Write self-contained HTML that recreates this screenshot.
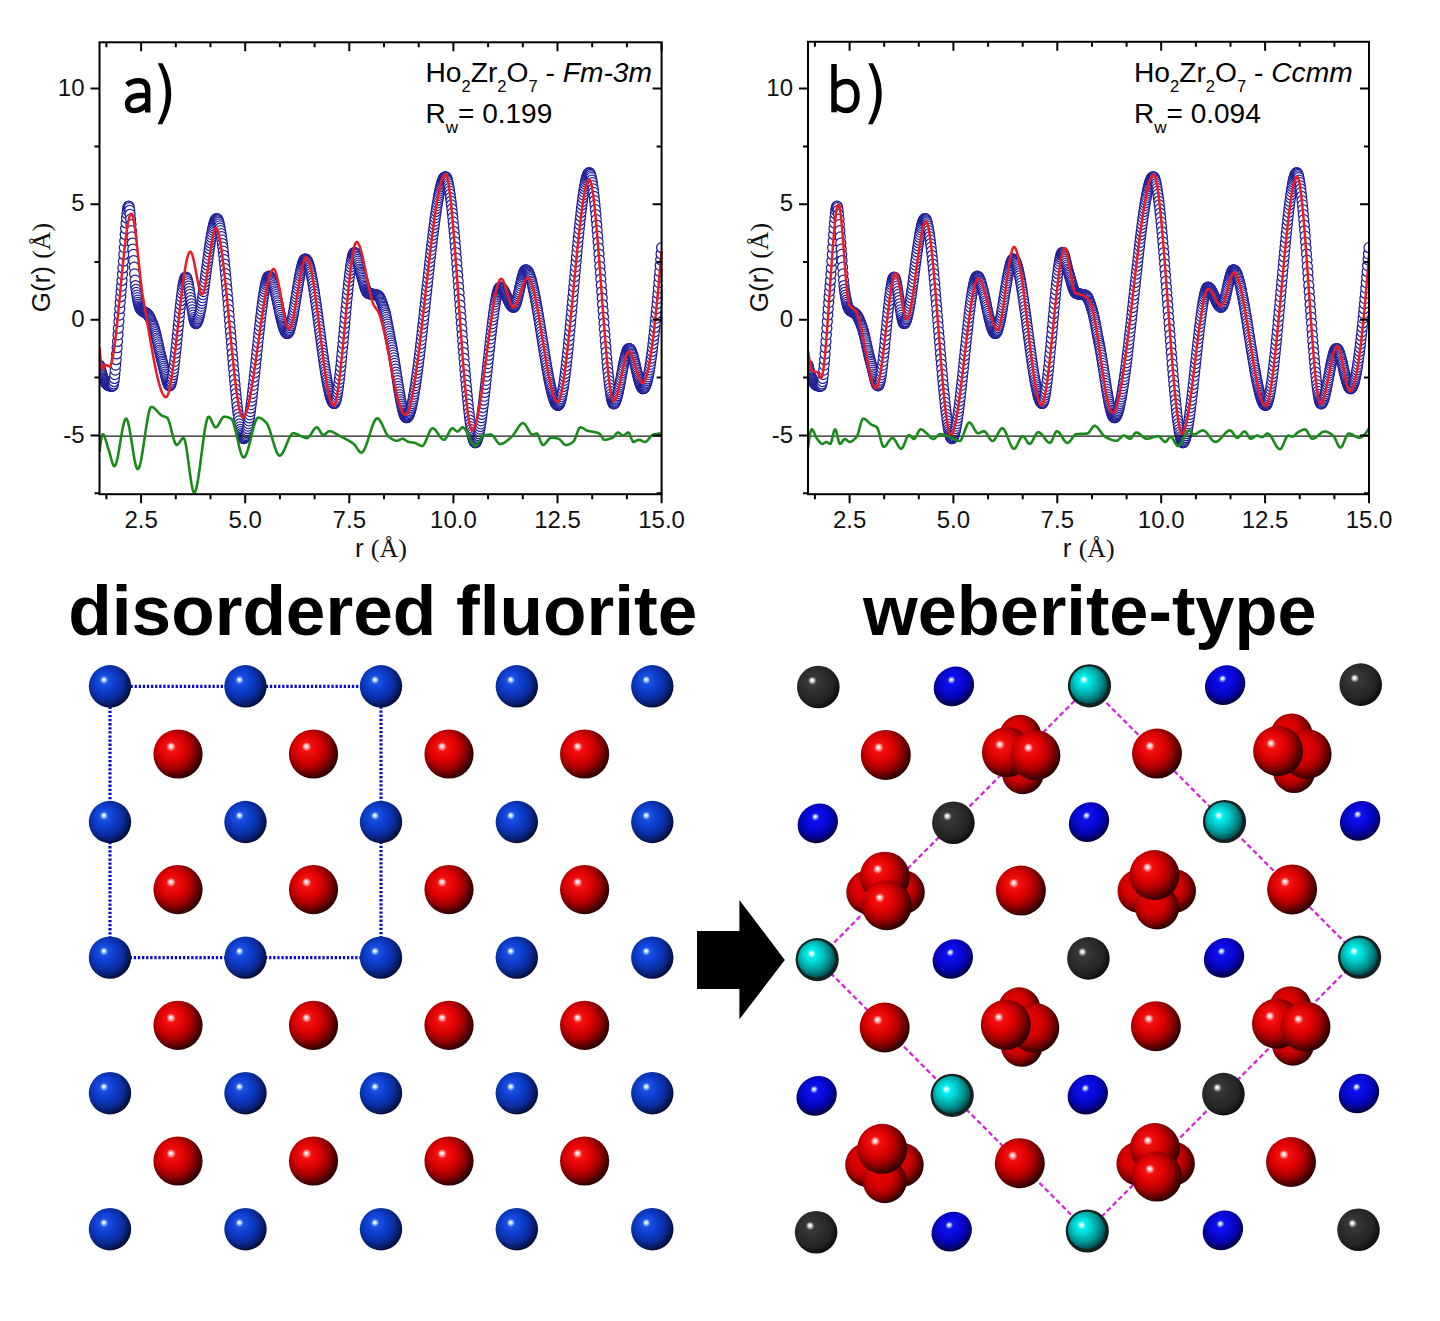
<!DOCTYPE html>
<html><head><meta charset="utf-8"><style>html,body{margin:0;padding:0;background:#fff;}svg{display:block}</style></head>
<body><svg width="1440" height="1321" viewBox="0 0 1440 1321">
<defs>
<radialGradient id="gB" cx="0.42" cy="0.42" r="0.6" fx="0.35" fy="0.34">
 <stop offset="0" stop-color="#ffffff"/><stop offset="0.03" stop-color="#f0f8ff"/><stop offset="0.08" stop-color="#9cc0ff"/><stop offset="0.16" stop-color="#1a50e4"/><stop offset="0.45" stop-color="#0c3cc8"/><stop offset="0.7" stop-color="#0a2c9c"/><stop offset="0.88" stop-color="#061a62"/><stop offset="1" stop-color="#020a30"/>
</radialGradient>
<radialGradient id="gR" cx="0.42" cy="0.42" r="0.6" fx="0.35" fy="0.34">
 <stop offset="0" stop-color="#ffffff"/><stop offset="0.03" stop-color="#fff0f0"/><stop offset="0.08" stop-color="#ffa0a0"/><stop offset="0.16" stop-color="#f41010"/><stop offset="0.45" stop-color="#dc0000"/><stop offset="0.68" stop-color="#a00000"/><stop offset="0.86" stop-color="#5a0000"/><stop offset="1" stop-color="#280000"/>
</radialGradient>
<radialGradient id="gG" cx="0.42" cy="0.42" r="0.6" fx="0.35" fy="0.34">
 <stop offset="0" stop-color="#ffffff"/><stop offset="0.04" stop-color="#f8f8f8"/><stop offset="0.09" stop-color="#b0b0b0"/><stop offset="0.17" stop-color="#383838"/><stop offset="0.45" stop-color="#2e2e2e"/><stop offset="0.75" stop-color="#242424"/><stop offset="1" stop-color="#0c0c0c"/>
</radialGradient>
<radialGradient id="gC" cx="0.42" cy="0.42" r="0.6" fx="0.36" fy="0.35">
 <stop offset="0" stop-color="#ffffff"/><stop offset="0.04" stop-color="#f0ffff"/><stop offset="0.1" stop-color="#a0ffff"/><stop offset="0.18" stop-color="#00f0f0"/><stop offset="0.45" stop-color="#00c8c8"/><stop offset="0.75" stop-color="#008c8c"/><stop offset="1" stop-color="#004a4a"/>
</radialGradient>
<radialGradient id="gD" cx="0.42" cy="0.42" r="0.6" fx="0.35" fy="0.34">
 <stop offset="0" stop-color="#ffffff"/><stop offset="0.05" stop-color="#c0c8ff"/><stop offset="0.12" stop-color="#0a1cf0"/><stop offset="0.45" stop-color="#0010d0"/><stop offset="0.7" stop-color="#000aa0"/><stop offset="0.88" stop-color="#000660"/><stop offset="1" stop-color="#000330"/>
</radialGradient>
<radialGradient id="gE" cx="0.53" cy="0.42" r="0.6" fx="0.556" fy="0.315">
 <stop offset="0" stop-color="#ffffff"/><stop offset="0.03" stop-color="#f0f0ff"/><stop offset="0.08" stop-color="#a0a8ff"/><stop offset="0.16" stop-color="#1010f0"/><stop offset="0.45" stop-color="#0808d8"/><stop offset="0.7" stop-color="#0404a8"/><stop offset="0.88" stop-color="#020260"/><stop offset="1" stop-color="#010130"/>
</radialGradient>
<radialGradient id="gRn" cx="0.42" cy="0.42" r="0.6" fx="0.38" fy="0.37">
 <stop offset="0" stop-color="#e80000"/><stop offset="0.45" stop-color="#d40000"/><stop offset="0.68" stop-color="#a00000"/><stop offset="0.86" stop-color="#5a0000"/><stop offset="1" stop-color="#280000"/>
</radialGradient>
</defs>
<rect width="1440" height="1321" fill="#fff"/>
<clipPath id="ca"><rect x="99.5" y="41.3" width="563.1" height="452.9"/></clipPath>
<g clip-path="url(#ca)" fill="#fff" stroke="#202098" stroke-width="1.25">
<circle cx="99.5" cy="365" r="5"/><circle cx="100" cy="367.1" r="5"/><circle cx="100.4" cy="369.1" r="5"/><circle cx="100.9" cy="370.9" r="5"/><circle cx="101.3" cy="372.6" r="5"/><circle cx="101.8" cy="374.1" r="5"/><circle cx="102.2" cy="375.6" r="5"/><circle cx="102.7" cy="376.9" r="5"/><circle cx="103.1" cy="378.1" r="5"/><circle cx="103.6" cy="379.1" r="5"/><circle cx="104" cy="380.1" r="5"/><circle cx="104.5" cy="381" r="5"/><circle cx="104.9" cy="381.8" r="5"/><circle cx="105.4" cy="382.5" r="5"/><circle cx="105.8" cy="383.1" r="5"/><circle cx="106.3" cy="383.7" r="5"/><circle cx="106.7" cy="384.1" r="5"/><circle cx="107.2" cy="384.5" r="5"/><circle cx="107.6" cy="384.9" r="5"/><circle cx="108.1" cy="385.2" r="5"/><circle cx="108.5" cy="385.4" r="5"/><circle cx="109" cy="385.6" r="5"/><circle cx="109.4" cy="385.7" r="5"/><circle cx="109.9" cy="385.8" r="5"/><circle cx="110.3" cy="385.9" r="5"/><circle cx="110.8" cy="385.9" r="5"/><circle cx="111.2" cy="386" r="5"/><circle cx="111.7" cy="386" r="5"/><circle cx="112.1" cy="386" r="5"/><circle cx="112.6" cy="386" r="5"/><circle cx="113" cy="385.4" r="5"/><circle cx="113.5" cy="383.9" r="5"/><circle cx="113.9" cy="381.5" r="5"/><circle cx="114.4" cy="378.4" r="5"/><circle cx="114.8" cy="374.6" r="5"/><circle cx="115.3" cy="370.1" r="5"/><circle cx="115.7" cy="365.1" r="5"/><circle cx="116.2" cy="359.7" r="5"/><circle cx="116.6" cy="353.9" r="5"/><circle cx="117.1" cy="347.7" r="5"/><circle cx="117.5" cy="341.4" r="5"/><circle cx="118" cy="334.8" r="5"/><circle cx="118.4" cy="328.2" r="5"/><circle cx="118.9" cy="321.6" r="5"/><circle cx="119.3" cy="315.1" r="5"/><circle cx="119.8" cy="308.7" r="5"/><circle cx="120.2" cy="302.6" r="5"/><circle cx="120.7" cy="296.7" r="5"/><circle cx="121.1" cy="291.3" r="5"/><circle cx="121.6" cy="286.1" r="5"/><circle cx="122" cy="280.5" r="5"/><circle cx="122.5" cy="274.3" r="5"/><circle cx="122.9" cy="267.9" r="5"/><circle cx="123.4" cy="261.2" r="5"/><circle cx="123.8" cy="254.4" r="5"/><circle cx="124.3" cy="247.6" r="5"/><circle cx="124.7" cy="240.9" r="5"/><circle cx="125.2" cy="234.5" r="5"/><circle cx="125.6" cy="228.5" r="5"/><circle cx="126.1" cy="222.9" r="5"/><circle cx="126.5" cy="217.9" r="5"/><circle cx="127" cy="213.7" r="5"/><circle cx="127.4" cy="210.2" r="5"/><circle cx="127.9" cy="207.8" r="5"/><circle cx="128.3" cy="206.4" r="5"/><circle cx="128.8" cy="206.2" r="5"/><circle cx="129.2" cy="207.6" r="5"/><circle cx="129.7" cy="210.3" r="5"/><circle cx="130.1" cy="214.3" r="5"/><circle cx="130.6" cy="219.2" r="5"/><circle cx="131" cy="224.7" r="5"/><circle cx="131.5" cy="230.7" r="5"/><circle cx="131.9" cy="236.9" r="5"/><circle cx="132.4" cy="243.1" r="5"/><circle cx="132.8" cy="249" r="5"/><circle cx="133.3" cy="254.4" r="5"/><circle cx="133.7" cy="260.5" r="5"/><circle cx="134.2" cy="267.2" r="5"/><circle cx="134.6" cy="273.9" r="5"/><circle cx="135.1" cy="280.2" r="5"/><circle cx="135.5" cy="285.5" r="5"/><circle cx="136" cy="289.3" r="5"/><circle cx="136.4" cy="292.3" r="5"/><circle cx="136.9" cy="295.1" r="5"/><circle cx="137.3" cy="297.7" r="5"/><circle cx="137.8" cy="300.1" r="5"/><circle cx="138.2" cy="302.3" r="5"/><circle cx="138.7" cy="304.2" r="5"/><circle cx="139.1" cy="305.8" r="5"/><circle cx="139.6" cy="307.2" r="5"/><circle cx="140" cy="308.2" r="5"/><circle cx="140.5" cy="309" r="5"/><circle cx="140.9" cy="309.5" r="5"/><circle cx="141.4" cy="310" r="5"/><circle cx="141.8" cy="310.4" r="5"/><circle cx="142.3" cy="310.8" r="5"/><circle cx="142.7" cy="311.1" r="5"/><circle cx="143.2" cy="311.4" r="5"/><circle cx="143.6" cy="311.6" r="5"/><circle cx="144.1" cy="311.9" r="5"/><circle cx="144.5" cy="312.1" r="5"/><circle cx="145" cy="312.3" r="5"/><circle cx="145.4" cy="312.6" r="5"/><circle cx="145.9" cy="312.8" r="5"/><circle cx="146.3" cy="313.1" r="5"/><circle cx="146.8" cy="313.5" r="5"/><circle cx="147.2" cy="313.9" r="5"/><circle cx="147.7" cy="314.3" r="5"/><circle cx="148.1" cy="314.9" r="5"/><circle cx="148.6" cy="315.5" r="5"/><circle cx="149" cy="316.2" r="5"/><circle cx="149.5" cy="317" r="5"/><circle cx="149.9" cy="317.8" r="5"/><circle cx="150.4" cy="318.7" r="5"/><circle cx="150.8" cy="319.7" r="5"/><circle cx="151.3" cy="320.7" r="5"/><circle cx="151.7" cy="321.8" r="5"/><circle cx="152.2" cy="322.9" r="5"/><circle cx="152.6" cy="324" r="5"/><circle cx="153.1" cy="325.2" r="5"/><circle cx="153.5" cy="326.4" r="5"/><circle cx="154" cy="327.8" r="5"/><circle cx="154.4" cy="329.2" r="5"/><circle cx="154.9" cy="330.8" r="5"/><circle cx="155.3" cy="332.5" r="5"/><circle cx="155.8" cy="334.3" r="5"/><circle cx="156.2" cy="336.1" r="5"/><circle cx="156.7" cy="338" r="5"/><circle cx="157.1" cy="339.9" r="5"/><circle cx="157.6" cy="341.9" r="5"/><circle cx="158" cy="343.9" r="5"/><circle cx="158.5" cy="345.9" r="5"/><circle cx="158.9" cy="348" r="5"/><circle cx="159.4" cy="350" r="5"/><circle cx="159.8" cy="351.9" r="5"/><circle cx="160.3" cy="353.9" r="5"/><circle cx="160.7" cy="355.8" r="5"/><circle cx="161.2" cy="357.6" r="5"/><circle cx="161.6" cy="359.4" r="5"/><circle cx="162.1" cy="361.1" r="5"/><circle cx="162.5" cy="362.7" r="5"/><circle cx="163" cy="364.4" r="5"/><circle cx="163.4" cy="366.3" r="5"/><circle cx="163.9" cy="368.2" r="5"/><circle cx="164.3" cy="370.1" r="5"/><circle cx="164.8" cy="372" r="5"/><circle cx="165.2" cy="374" r="5"/><circle cx="165.7" cy="375.8" r="5"/><circle cx="166.1" cy="377.6" r="5"/><circle cx="166.6" cy="379.3" r="5"/><circle cx="167" cy="380.9" r="5"/><circle cx="167.5" cy="382.3" r="5"/><circle cx="167.9" cy="383.5" r="5"/><circle cx="168.4" cy="384.4" r="5"/><circle cx="168.8" cy="385.2" r="5"/><circle cx="169.3" cy="385.6" r="5"/><circle cx="169.7" cy="385.8" r="5"/><circle cx="170.2" cy="385.5" r="5"/><circle cx="170.6" cy="384.8" r="5"/><circle cx="171.1" cy="383.6" r="5"/><circle cx="171.5" cy="382" r="5"/><circle cx="172" cy="380" r="5"/><circle cx="172.4" cy="377.7" r="5"/><circle cx="172.9" cy="374.9" r="5"/><circle cx="173.3" cy="371.9" r="5"/><circle cx="173.8" cy="368.6" r="5"/><circle cx="174.2" cy="365.1" r="5"/><circle cx="174.7" cy="361.3" r="5"/><circle cx="175.1" cy="357.3" r="5"/><circle cx="175.6" cy="353.2" r="5"/><circle cx="176" cy="348.9" r="5"/><circle cx="176.5" cy="344.5" r="5"/><circle cx="176.9" cy="340" r="5"/><circle cx="177.4" cy="335.5" r="5"/><circle cx="177.8" cy="330.9" r="5"/><circle cx="178.3" cy="326.4" r="5"/><circle cx="178.7" cy="321.9" r="5"/><circle cx="179.2" cy="317.4" r="5"/><circle cx="179.6" cy="313" r="5"/><circle cx="180.1" cy="308.8" r="5"/><circle cx="180.5" cy="304.7" r="5"/><circle cx="181" cy="300.7" r="5"/><circle cx="181.4" cy="297" r="5"/><circle cx="181.9" cy="293.5" r="5"/><circle cx="182.3" cy="290.3" r="5"/><circle cx="182.8" cy="287.3" r="5"/><circle cx="183.2" cy="284.7" r="5"/><circle cx="183.7" cy="282.4" r="5"/><circle cx="184.1" cy="280.5" r="5"/><circle cx="184.6" cy="279" r="5"/><circle cx="185" cy="277.9" r="5"/><circle cx="185.5" cy="277.3" r="5"/><circle cx="185.9" cy="277.1" r="5"/><circle cx="186.4" cy="277.5" r="5"/><circle cx="186.8" cy="278.4" r="5"/><circle cx="187.3" cy="279.7" r="5"/><circle cx="187.7" cy="281.5" r="5"/><circle cx="188.2" cy="283.6" r="5"/><circle cx="188.6" cy="286" r="5"/><circle cx="189.1" cy="288.6" r="5"/><circle cx="189.5" cy="291.5" r="5"/><circle cx="190" cy="294.4" r="5"/><circle cx="190.4" cy="297.5" r="5"/><circle cx="190.9" cy="300.6" r="5"/><circle cx="191.3" cy="303.8" r="5"/><circle cx="191.8" cy="306.8" r="5"/><circle cx="192.2" cy="309.8" r="5"/><circle cx="192.7" cy="312.6" r="5"/><circle cx="193.1" cy="315.2" r="5"/><circle cx="193.6" cy="317.5" r="5"/><circle cx="194" cy="319.5" r="5"/><circle cx="194.5" cy="321.2" r="5"/><circle cx="194.9" cy="322.4" r="5"/><circle cx="195.4" cy="323.2" r="5"/><circle cx="195.8" cy="323.5" r="5"/><circle cx="196.3" cy="323.4" r="5"/><circle cx="196.7" cy="322.9" r="5"/><circle cx="197.2" cy="322.2" r="5"/><circle cx="197.6" cy="321.3" r="5"/><circle cx="198.1" cy="320.1" r="5"/><circle cx="198.5" cy="318.7" r="5"/><circle cx="199" cy="317.1" r="5"/><circle cx="199.4" cy="315.2" r="5"/><circle cx="199.9" cy="313.2" r="5"/><circle cx="200.3" cy="311" r="5"/><circle cx="200.8" cy="308.6" r="5"/><circle cx="201.2" cy="306.1" r="5"/><circle cx="201.7" cy="303.4" r="5"/><circle cx="202.1" cy="300.7" r="5"/><circle cx="202.6" cy="297.7" r="5"/><circle cx="203" cy="294.7" r="5"/><circle cx="203.5" cy="291.6" r="5"/><circle cx="203.9" cy="288.4" r="5"/><circle cx="204.4" cy="285.2" r="5"/><circle cx="204.8" cy="281.9" r="5"/><circle cx="205.3" cy="278.6" r="5"/><circle cx="205.7" cy="275.2" r="5"/><circle cx="206.2" cy="271.8" r="5"/><circle cx="206.6" cy="268.4" r="5"/><circle cx="207.1" cy="265" r="5"/><circle cx="207.5" cy="261.7" r="5"/><circle cx="208" cy="258.4" r="5"/><circle cx="208.4" cy="255.1" r="5"/><circle cx="208.9" cy="251.9" r="5"/><circle cx="209.3" cy="248.7" r="5"/><circle cx="209.8" cy="245.7" r="5"/><circle cx="210.2" cy="242.7" r="5"/><circle cx="210.7" cy="239.9" r="5"/><circle cx="211.1" cy="237.2" r="5"/><circle cx="211.6" cy="234.6" r="5"/><circle cx="212" cy="232.1" r="5"/><circle cx="212.5" cy="229.8" r="5"/><circle cx="212.9" cy="227.7" r="5"/><circle cx="213.4" cy="225.8" r="5"/><circle cx="213.8" cy="224.1" r="5"/><circle cx="214.3" cy="222.6" r="5"/><circle cx="214.7" cy="221.3" r="5"/><circle cx="215.2" cy="220.2" r="5"/><circle cx="215.6" cy="219.4" r="5"/><circle cx="216.1" cy="218.9" r="5"/><circle cx="216.5" cy="218.6" r="5"/><circle cx="217" cy="218.7" r="5"/><circle cx="217.4" cy="219" r="5"/><circle cx="217.9" cy="219.8" r="5"/><circle cx="218.3" cy="220.8" r="5"/><circle cx="218.8" cy="222.2" r="5"/><circle cx="219.2" cy="223.9" r="5"/><circle cx="219.7" cy="225.9" r="5"/><circle cx="220.1" cy="228.2" r="5"/><circle cx="220.6" cy="230.7" r="5"/><circle cx="221" cy="233.6" r="5"/><circle cx="221.5" cy="236.6" r="5"/><circle cx="221.9" cy="239.9" r="5"/><circle cx="222.4" cy="243.5" r="5"/><circle cx="222.8" cy="247.2" r="5"/><circle cx="223.3" cy="251.2" r="5"/><circle cx="223.7" cy="255.3" r="5"/><circle cx="224.2" cy="259.6" r="5"/><circle cx="224.6" cy="264.1" r="5"/><circle cx="225.1" cy="268.7" r="5"/><circle cx="225.5" cy="273.5" r="5"/><circle cx="226" cy="278.4" r="5"/><circle cx="226.4" cy="283.4" r="5"/><circle cx="226.9" cy="288.5" r="5"/><circle cx="227.3" cy="293.7" r="5"/><circle cx="227.8" cy="299" r="5"/><circle cx="228.2" cy="304.3" r="5"/><circle cx="228.7" cy="309.7" r="5"/><circle cx="229.1" cy="315.2" r="5"/><circle cx="229.6" cy="320.7" r="5"/><circle cx="230" cy="326.2" r="5"/><circle cx="230.5" cy="331.7" r="5"/><circle cx="230.9" cy="337.1" r="5"/><circle cx="231.4" cy="342.6" r="5"/><circle cx="231.8" cy="348.1" r="5"/><circle cx="232.3" cy="353.5" r="5"/><circle cx="232.7" cy="358.8" r="5"/><circle cx="233.2" cy="364.1" r="5"/><circle cx="233.6" cy="369.3" r="5"/><circle cx="234.1" cy="374.4" r="5"/><circle cx="234.5" cy="379.4" r="5"/><circle cx="235" cy="384.3" r="5"/><circle cx="235.4" cy="389" r="5"/><circle cx="235.9" cy="393.6" r="5"/><circle cx="236.3" cy="398.1" r="5"/><circle cx="236.8" cy="402.4" r="5"/><circle cx="237.2" cy="406.5" r="5"/><circle cx="237.7" cy="410.4" r="5"/><circle cx="238.1" cy="414.1" r="5"/><circle cx="238.6" cy="417.6" r="5"/><circle cx="239" cy="420.9" r="5"/><circle cx="239.5" cy="424" r="5"/><circle cx="239.9" cy="426.8" r="5"/><circle cx="240.4" cy="429.3" r="5"/><circle cx="240.8" cy="431.5" r="5"/><circle cx="241.3" cy="433.5" r="5"/><circle cx="241.7" cy="435.2" r="5"/><circle cx="242.2" cy="436.5" r="5"/><circle cx="242.6" cy="437.5" r="5"/><circle cx="243.1" cy="438.2" r="5"/><circle cx="243.5" cy="438.6" r="5"/><circle cx="244" cy="438.6" r="5"/><circle cx="244.4" cy="438.2" r="5"/><circle cx="244.9" cy="437.6" r="5"/><circle cx="245.3" cy="436.7" r="5"/><circle cx="245.8" cy="435.6" r="5"/><circle cx="246.2" cy="434.2" r="5"/><circle cx="246.7" cy="432.5" r="5"/><circle cx="247.1" cy="430.6" r="5"/><circle cx="247.6" cy="428.5" r="5"/><circle cx="248" cy="426.1" r="5"/><circle cx="248.5" cy="423.6" r="5"/><circle cx="248.9" cy="420.8" r="5"/><circle cx="249.4" cy="417.9" r="5"/><circle cx="249.8" cy="414.8" r="5"/><circle cx="250.3" cy="411.6" r="5"/><circle cx="250.7" cy="408.2" r="5"/><circle cx="251.2" cy="404.6" r="5"/><circle cx="251.6" cy="401" r="5"/><circle cx="252.1" cy="397.2" r="5"/><circle cx="252.5" cy="393.3" r="5"/><circle cx="253" cy="389.3" r="5"/><circle cx="253.4" cy="385.3" r="5"/><circle cx="253.9" cy="381.2" r="5"/><circle cx="254.3" cy="377" r="5"/><circle cx="254.8" cy="372.7" r="5"/><circle cx="255.2" cy="368.4" r="5"/><circle cx="255.7" cy="364.1" r="5"/><circle cx="256.1" cy="359.8" r="5"/><circle cx="256.6" cy="355.5" r="5"/><circle cx="257" cy="351.1" r="5"/><circle cx="257.5" cy="346.8" r="5"/><circle cx="257.9" cy="342.6" r="5"/><circle cx="258.4" cy="338.3" r="5"/><circle cx="258.8" cy="334.1" r="5"/><circle cx="259.3" cy="330" r="5"/><circle cx="259.7" cy="325.9" r="5"/><circle cx="260.2" cy="321.9" r="5"/><circle cx="260.6" cy="318" r="5"/><circle cx="261.1" cy="314.2" r="5"/><circle cx="261.5" cy="310.6" r="5"/><circle cx="262" cy="307" r="5"/><circle cx="262.4" cy="303.6" r="5"/><circle cx="262.9" cy="300.3" r="5"/><circle cx="263.3" cy="297.2" r="5"/><circle cx="263.8" cy="294.3" r="5"/><circle cx="264.2" cy="291.5" r="5"/><circle cx="264.7" cy="289" r="5"/><circle cx="265.1" cy="286.6" r="5"/><circle cx="265.6" cy="284.4" r="5"/><circle cx="266" cy="282.5" r="5"/><circle cx="266.5" cy="280.8" r="5"/><circle cx="266.9" cy="279.4" r="5"/><circle cx="267.4" cy="278.2" r="5"/><circle cx="267.8" cy="277.3" r="5"/><circle cx="268.3" cy="276.6" r="5"/><circle cx="268.7" cy="276.3" r="5"/><circle cx="269.2" cy="276.2" r="5"/><circle cx="269.6" cy="276.4" r="5"/><circle cx="270.1" cy="276.7" r="5"/><circle cx="270.5" cy="277.3" r="5"/><circle cx="271" cy="278" r="5"/><circle cx="271.4" cy="278.9" r="5"/><circle cx="271.9" cy="280" r="5"/><circle cx="272.3" cy="281.2" r="5"/><circle cx="272.8" cy="282.5" r="5"/><circle cx="273.2" cy="283.9" r="5"/><circle cx="273.7" cy="285.5" r="5"/><circle cx="274.1" cy="287.2" r="5"/><circle cx="274.6" cy="288.9" r="5"/><circle cx="275" cy="290.8" r="5"/><circle cx="275.5" cy="292.7" r="5"/><circle cx="275.9" cy="294.6" r="5"/><circle cx="276.4" cy="296.7" r="5"/><circle cx="276.8" cy="298.7" r="5"/><circle cx="277.3" cy="300.8" r="5"/><circle cx="277.7" cy="302.9" r="5"/><circle cx="278.2" cy="305" r="5"/><circle cx="278.6" cy="307.2" r="5"/><circle cx="279.1" cy="309.3" r="5"/><circle cx="279.5" cy="311.3" r="5"/><circle cx="280" cy="313.4" r="5"/><circle cx="280.4" cy="315.4" r="5"/><circle cx="280.9" cy="317.4" r="5"/><circle cx="281.3" cy="319.3" r="5"/><circle cx="281.8" cy="321.1" r="5"/><circle cx="282.2" cy="322.8" r="5"/><circle cx="282.7" cy="324.5" r="5"/><circle cx="283.1" cy="326" r="5"/><circle cx="283.6" cy="327.4" r="5"/><circle cx="284" cy="328.7" r="5"/><circle cx="284.5" cy="329.9" r="5"/><circle cx="284.9" cy="330.9" r="5"/><circle cx="285.4" cy="331.7" r="5"/><circle cx="285.8" cy="332.4" r="5"/><circle cx="286.3" cy="332.9" r="5"/><circle cx="286.7" cy="333.3" r="5"/><circle cx="287.2" cy="333.4" r="5"/><circle cx="287.6" cy="333.3" r="5"/><circle cx="288.1" cy="332.9" r="5"/><circle cx="288.5" cy="332.3" r="5"/><circle cx="289" cy="331.4" r="5"/><circle cx="289.4" cy="330.4" r="5"/><circle cx="289.9" cy="329.1" r="5"/><circle cx="290.3" cy="327.6" r="5"/><circle cx="290.8" cy="325.9" r="5"/><circle cx="291.2" cy="324.1" r="5"/><circle cx="291.7" cy="322.1" r="5"/><circle cx="292.1" cy="320" r="5"/><circle cx="292.6" cy="317.7" r="5"/><circle cx="293" cy="315.4" r="5"/><circle cx="293.5" cy="312.9" r="5"/><circle cx="293.9" cy="310.4" r="5"/><circle cx="294.4" cy="307.7" r="5"/><circle cx="294.8" cy="305.1" r="5"/><circle cx="295.3" cy="302.3" r="5"/><circle cx="295.7" cy="299.6" r="5"/><circle cx="296.2" cy="296.8" r="5"/><circle cx="296.6" cy="294" r="5"/><circle cx="297.1" cy="291.3" r="5"/><circle cx="297.5" cy="288.5" r="5"/><circle cx="298" cy="285.8" r="5"/><circle cx="298.4" cy="283.2" r="5"/><circle cx="298.9" cy="280.6" r="5"/><circle cx="299.3" cy="278.1" r="5"/><circle cx="299.8" cy="275.7" r="5"/><circle cx="300.2" cy="273.4" r="5"/><circle cx="300.7" cy="271.2" r="5"/><circle cx="301.1" cy="269.2" r="5"/><circle cx="301.6" cy="267.3" r="5"/><circle cx="302" cy="265.5" r="5"/><circle cx="302.5" cy="264" r="5"/><circle cx="302.9" cy="262.6" r="5"/><circle cx="303.4" cy="261.4" r="5"/><circle cx="303.8" cy="260.4" r="5"/><circle cx="304.3" cy="259.7" r="5"/><circle cx="304.7" cy="259.2" r="5"/><circle cx="305.2" cy="259" r="5"/><circle cx="305.6" cy="259" r="5"/><circle cx="306.1" cy="259.3" r="5"/><circle cx="306.5" cy="259.7" r="5"/><circle cx="307" cy="260.4" r="5"/><circle cx="307.4" cy="261.2" r="5"/><circle cx="307.9" cy="262.2" r="5"/><circle cx="308.3" cy="263.3" r="5"/><circle cx="308.8" cy="264.7" r="5"/><circle cx="309.2" cy="266.2" r="5"/><circle cx="309.7" cy="267.8" r="5"/><circle cx="310.1" cy="269.6" r="5"/><circle cx="310.6" cy="271.6" r="5"/><circle cx="311" cy="273.6" r="5"/><circle cx="311.5" cy="275.8" r="5"/><circle cx="311.9" cy="278.2" r="5"/><circle cx="312.4" cy="280.6" r="5"/><circle cx="312.8" cy="283.1" r="5"/><circle cx="313.3" cy="285.8" r="5"/><circle cx="313.7" cy="288.5" r="5"/><circle cx="314.2" cy="291.3" r="5"/><circle cx="314.6" cy="294.2" r="5"/><circle cx="315.1" cy="297.2" r="5"/><circle cx="315.5" cy="300.3" r="5"/><circle cx="316" cy="303.4" r="5"/><circle cx="316.4" cy="306.5" r="5"/><circle cx="316.9" cy="309.8" r="5"/><circle cx="317.3" cy="313" r="5"/><circle cx="317.8" cy="316.3" r="5"/><circle cx="318.2" cy="319.6" r="5"/><circle cx="318.7" cy="323" r="5"/><circle cx="319.1" cy="326.3" r="5"/><circle cx="319.6" cy="329.7" r="5"/><circle cx="320" cy="333.1" r="5"/><circle cx="320.5" cy="336.4" r="5"/><circle cx="320.9" cy="339.8" r="5"/><circle cx="321.4" cy="343.1" r="5"/><circle cx="321.8" cy="346.5" r="5"/><circle cx="322.3" cy="349.8" r="5"/><circle cx="322.7" cy="353" r="5"/><circle cx="323.2" cy="356.2" r="5"/><circle cx="323.6" cy="359.4" r="5"/><circle cx="324.1" cy="362.5" r="5"/><circle cx="324.5" cy="365.5" r="5"/><circle cx="325" cy="368.5" r="5"/><circle cx="325.4" cy="371.4" r="5"/><circle cx="325.9" cy="374.2" r="5"/><circle cx="326.3" cy="376.9" r="5"/><circle cx="326.8" cy="379.6" r="5"/><circle cx="327.2" cy="382.1" r="5"/><circle cx="327.7" cy="384.5" r="5"/><circle cx="328.1" cy="386.8" r="5"/><circle cx="328.6" cy="389" r="5"/><circle cx="329" cy="391.1" r="5"/><circle cx="329.5" cy="393" r="5"/><circle cx="329.9" cy="394.8" r="5"/><circle cx="330.4" cy="396.4" r="5"/><circle cx="330.8" cy="397.9" r="5"/><circle cx="331.3" cy="399.2" r="5"/><circle cx="331.7" cy="400.3" r="5"/><circle cx="332.2" cy="401.3" r="5"/><circle cx="332.6" cy="402.1" r="5"/><circle cx="333.1" cy="402.7" r="5"/><circle cx="333.5" cy="403.1" r="5"/><circle cx="334" cy="403.4" r="5"/><circle cx="334.4" cy="403.4" r="5"/><circle cx="334.9" cy="402.9" r="5"/><circle cx="335.3" cy="402.1" r="5"/><circle cx="335.8" cy="400.9" r="5"/><circle cx="336.2" cy="399.3" r="5"/><circle cx="336.7" cy="397.3" r="5"/><circle cx="337.1" cy="395" r="5"/><circle cx="337.6" cy="392.4" r="5"/><circle cx="338" cy="389.5" r="5"/><circle cx="338.5" cy="386.3" r="5"/><circle cx="338.9" cy="382.9" r="5"/><circle cx="339.4" cy="379.2" r="5"/><circle cx="339.8" cy="375.3" r="5"/><circle cx="340.3" cy="371.2" r="5"/><circle cx="340.7" cy="366.9" r="5"/><circle cx="341.2" cy="362.4" r="5"/><circle cx="341.6" cy="357.8" r="5"/><circle cx="342.1" cy="353.1" r="5"/><circle cx="342.5" cy="348.3" r="5"/><circle cx="343" cy="343.4" r="5"/><circle cx="343.4" cy="338.5" r="5"/><circle cx="343.9" cy="333.5" r="5"/><circle cx="344.3" cy="328.5" r="5"/><circle cx="344.8" cy="323.4" r="5"/><circle cx="345.2" cy="318.4" r="5"/><circle cx="345.7" cy="313.5" r="5"/><circle cx="346.1" cy="308.6" r="5"/><circle cx="346.6" cy="303.7" r="5"/><circle cx="347" cy="299" r="5"/><circle cx="347.5" cy="294.4" r="5"/><circle cx="347.9" cy="289.9" r="5"/><circle cx="348.4" cy="285.6" r="5"/><circle cx="348.8" cy="281.4" r="5"/><circle cx="349.3" cy="277.5" r="5"/><circle cx="349.7" cy="273.7" r="5"/><circle cx="350.2" cy="270.2" r="5"/><circle cx="350.6" cy="267" r="5"/><circle cx="351.1" cy="264" r="5"/><circle cx="351.5" cy="261.3" r="5"/><circle cx="352" cy="258.9" r="5"/><circle cx="352.4" cy="256.9" r="5"/><circle cx="352.9" cy="255.2" r="5"/><circle cx="353.3" cy="253.9" r="5"/><circle cx="353.8" cy="253" r="5"/><circle cx="354.2" cy="252.5" r="5"/><circle cx="354.7" cy="252.4" r="5"/><circle cx="355.1" cy="252.8" r="5"/><circle cx="355.6" cy="253.5" r="5"/><circle cx="356" cy="254.6" r="5"/><circle cx="356.5" cy="256" r="5"/><circle cx="356.9" cy="257.6" r="5"/><circle cx="357.4" cy="259.3" r="5"/><circle cx="357.8" cy="261.2" r="5"/><circle cx="358.3" cy="263.2" r="5"/><circle cx="358.7" cy="265.2" r="5"/><circle cx="359.2" cy="267.1" r="5"/><circle cx="359.6" cy="269" r="5"/><circle cx="360.1" cy="270.7" r="5"/><circle cx="360.5" cy="272.3" r="5"/><circle cx="361" cy="273.7" r="5"/><circle cx="361.4" cy="275.2" r="5"/><circle cx="361.9" cy="276.8" r="5"/><circle cx="362.3" cy="278.4" r="5"/><circle cx="362.8" cy="280" r="5"/><circle cx="363.2" cy="281.6" r="5"/><circle cx="363.7" cy="283.2" r="5"/><circle cx="364.1" cy="284.8" r="5"/><circle cx="364.6" cy="286.3" r="5"/><circle cx="365" cy="287.7" r="5"/><circle cx="365.5" cy="289" r="5"/><circle cx="365.9" cy="290.1" r="5"/><circle cx="366.4" cy="291.1" r="5"/><circle cx="366.8" cy="291.9" r="5"/><circle cx="367.3" cy="292.6" r="5"/><circle cx="367.7" cy="292.9" r="5"/><circle cx="368.2" cy="293.2" r="5"/><circle cx="368.6" cy="293.3" r="5"/><circle cx="369.1" cy="293.5" r="5"/><circle cx="369.5" cy="293.6" r="5"/><circle cx="370" cy="293.8" r="5"/><circle cx="370.4" cy="293.9" r="5"/><circle cx="370.9" cy="293.9" r="5"/><circle cx="371.3" cy="294" r="5"/><circle cx="371.8" cy="294.1" r="5"/><circle cx="372.2" cy="294.2" r="5"/><circle cx="372.7" cy="294.2" r="5"/><circle cx="373.1" cy="294.3" r="5"/><circle cx="373.6" cy="294.3" r="5"/><circle cx="374" cy="294.4" r="5"/><circle cx="374.5" cy="294.5" r="5"/><circle cx="374.9" cy="294.5" r="5"/><circle cx="375.4" cy="294.6" r="5"/><circle cx="375.8" cy="294.7" r="5"/><circle cx="376.3" cy="294.9" r="5"/><circle cx="376.7" cy="295" r="5"/><circle cx="377.2" cy="295.1" r="5"/><circle cx="377.6" cy="295.3" r="5"/><circle cx="378.1" cy="295.5" r="5"/><circle cx="378.5" cy="295.8" r="5"/><circle cx="379" cy="296.3" r="5"/><circle cx="379.4" cy="297" r="5"/><circle cx="379.9" cy="297.8" r="5"/><circle cx="380.3" cy="298.7" r="5"/><circle cx="380.8" cy="299.7" r="5"/><circle cx="381.2" cy="300.9" r="5"/><circle cx="381.7" cy="302.1" r="5"/><circle cx="382.1" cy="303.3" r="5"/><circle cx="382.6" cy="304.7" r="5"/><circle cx="383" cy="306" r="5"/><circle cx="383.5" cy="307.4" r="5"/><circle cx="383.9" cy="308.8" r="5"/><circle cx="384.4" cy="310.2" r="5"/><circle cx="384.8" cy="311.8" r="5"/><circle cx="385.3" cy="313.5" r="5"/><circle cx="385.7" cy="315.4" r="5"/><circle cx="386.2" cy="317.4" r="5"/><circle cx="386.6" cy="319.6" r="5"/><circle cx="387.1" cy="321.8" r="5"/><circle cx="387.5" cy="324.1" r="5"/><circle cx="388" cy="326.5" r="5"/><circle cx="388.4" cy="328.9" r="5"/><circle cx="388.9" cy="331.3" r="5"/><circle cx="389.3" cy="333.7" r="5"/><circle cx="389.8" cy="336.2" r="5"/><circle cx="390.2" cy="338.5" r="5"/><circle cx="390.7" cy="340.9" r="5"/><circle cx="391.1" cy="343.1" r="5"/><circle cx="391.6" cy="345.3" r="5"/><circle cx="392" cy="347.6" r="5"/><circle cx="392.5" cy="350" r="5"/><circle cx="392.9" cy="352.6" r="5"/><circle cx="393.4" cy="355.2" r="5"/><circle cx="393.8" cy="357.8" r="5"/><circle cx="394.3" cy="360.6" r="5"/><circle cx="394.7" cy="363.4" r="5"/><circle cx="395.2" cy="366.2" r="5"/><circle cx="395.6" cy="369.1" r="5"/><circle cx="396.1" cy="372" r="5"/><circle cx="396.5" cy="374.9" r="5"/><circle cx="397" cy="377.8" r="5"/><circle cx="397.4" cy="380.7" r="5"/><circle cx="397.9" cy="383.6" r="5"/><circle cx="398.3" cy="386.4" r="5"/><circle cx="398.8" cy="389.2" r="5"/><circle cx="399.2" cy="391.9" r="5"/><circle cx="399.7" cy="394.5" r="5"/><circle cx="400.1" cy="397.1" r="5"/><circle cx="400.6" cy="399.5" r="5"/><circle cx="401" cy="401.9" r="5"/><circle cx="401.5" cy="404.1" r="5"/><circle cx="401.9" cy="406.2" r="5"/><circle cx="402.4" cy="408.2" r="5"/><circle cx="402.8" cy="410" r="5"/><circle cx="403.3" cy="411.7" r="5"/><circle cx="403.7" cy="413.2" r="5"/><circle cx="404.2" cy="414.4" r="5"/><circle cx="404.6" cy="415.5" r="5"/><circle cx="405.1" cy="416.4" r="5"/><circle cx="405.5" cy="417.1" r="5"/><circle cx="406" cy="417.5" r="5"/><circle cx="406.4" cy="417.7" r="5"/><circle cx="406.9" cy="417.6" r="5"/><circle cx="407.3" cy="417.4" r="5"/><circle cx="407.8" cy="417" r="5"/><circle cx="408.2" cy="416.4" r="5"/><circle cx="408.7" cy="415.6" r="5"/><circle cx="409.1" cy="414.6" r="5"/><circle cx="409.6" cy="413.5" r="5"/><circle cx="410" cy="412.2" r="5"/><circle cx="410.5" cy="410.8" r="5"/><circle cx="410.9" cy="409.2" r="5"/><circle cx="411.4" cy="407.4" r="5"/><circle cx="411.8" cy="405.5" r="5"/><circle cx="412.3" cy="403.5" r="5"/><circle cx="412.7" cy="401.3" r="5"/><circle cx="413.2" cy="399" r="5"/><circle cx="413.6" cy="396.6" r="5"/><circle cx="414.1" cy="394" r="5"/><circle cx="414.5" cy="391.3" r="5"/><circle cx="415" cy="388.5" r="5"/><circle cx="415.4" cy="385.6" r="5"/><circle cx="415.9" cy="382.6" r="5"/><circle cx="416.3" cy="379.5" r="5"/><circle cx="416.8" cy="376.3" r="5"/><circle cx="417.2" cy="373" r="5"/><circle cx="417.7" cy="369.7" r="5"/><circle cx="418.1" cy="366.2" r="5"/><circle cx="418.6" cy="362.7" r="5"/><circle cx="419" cy="359.1" r="5"/><circle cx="419.5" cy="355.4" r="5"/><circle cx="419.9" cy="351.6" r="5"/><circle cx="420.4" cy="347.8" r="5"/><circle cx="420.8" cy="344" r="5"/><circle cx="421.3" cy="340.1" r="5"/><circle cx="421.7" cy="336.1" r="5"/><circle cx="422.2" cy="332.1" r="5"/><circle cx="422.6" cy="328.1" r="5"/><circle cx="423.1" cy="324" r="5"/><circle cx="423.5" cy="319.9" r="5"/><circle cx="424" cy="315.8" r="5"/><circle cx="424.4" cy="311.6" r="5"/><circle cx="424.9" cy="307.5" r="5"/><circle cx="425.3" cy="303.3" r="5"/><circle cx="425.8" cy="299.1" r="5"/><circle cx="426.2" cy="294.9" r="5"/><circle cx="426.7" cy="290.8" r="5"/><circle cx="427.1" cy="286.6" r="5"/><circle cx="427.6" cy="282.4" r="5"/><circle cx="428" cy="278.3" r="5"/><circle cx="428.5" cy="274.2" r="5"/><circle cx="428.9" cy="270.1" r="5"/><circle cx="429.4" cy="266" r="5"/><circle cx="429.8" cy="262" r="5"/><circle cx="430.3" cy="258" r="5"/><circle cx="430.7" cy="254" r="5"/><circle cx="431.2" cy="250.1" r="5"/><circle cx="431.6" cy="246.2" r="5"/><circle cx="432.1" cy="242.4" r="5"/><circle cx="432.5" cy="238.7" r="5"/><circle cx="433" cy="235" r="5"/><circle cx="433.4" cy="231.4" r="5"/><circle cx="433.9" cy="227.9" r="5"/><circle cx="434.3" cy="224.5" r="5"/><circle cx="434.8" cy="221.1" r="5"/><circle cx="435.2" cy="217.8" r="5"/><circle cx="435.7" cy="214.6" r="5"/><circle cx="436.1" cy="211.5" r="5"/><circle cx="436.6" cy="208.5" r="5"/><circle cx="437" cy="205.6" r="5"/><circle cx="437.5" cy="202.9" r="5"/><circle cx="437.9" cy="200.2" r="5"/><circle cx="438.4" cy="197.7" r="5"/><circle cx="438.8" cy="195.3" r="5"/><circle cx="439.3" cy="193" r="5"/><circle cx="439.7" cy="190.8" r="5"/><circle cx="440.2" cy="188.8" r="5"/><circle cx="440.6" cy="186.9" r="5"/><circle cx="441.1" cy="185.2" r="5"/><circle cx="441.5" cy="183.6" r="5"/><circle cx="442" cy="182.1" r="5"/><circle cx="442.4" cy="180.9" r="5"/><circle cx="442.9" cy="179.8" r="5"/><circle cx="443.3" cy="178.8" r="5"/><circle cx="443.8" cy="178.1" r="5"/><circle cx="444.2" cy="177.5" r="5"/><circle cx="444.7" cy="177.1" r="5"/><circle cx="445.1" cy="176.8" r="5"/><circle cx="445.6" cy="176.8" r="5"/><circle cx="446" cy="177.1" r="5"/><circle cx="446.5" cy="177.8" r="5"/><circle cx="446.9" cy="178.8" r="5"/><circle cx="447.4" cy="180.1" r="5"/><circle cx="447.8" cy="181.7" r="5"/><circle cx="448.3" cy="183.6" r="5"/><circle cx="448.7" cy="185.9" r="5"/><circle cx="449.2" cy="188.4" r="5"/><circle cx="449.6" cy="191.2" r="5"/><circle cx="450.1" cy="194.2" r="5"/><circle cx="450.5" cy="197.5" r="5"/><circle cx="451" cy="201" r="5"/><circle cx="451.4" cy="204.8" r="5"/><circle cx="451.9" cy="208.8" r="5"/><circle cx="452.3" cy="213" r="5"/><circle cx="452.8" cy="217.3" r="5"/><circle cx="453.2" cy="221.9" r="5"/><circle cx="453.7" cy="226.7" r="5"/><circle cx="454.1" cy="231.6" r="5"/><circle cx="454.6" cy="236.6" r="5"/><circle cx="455" cy="241.8" r="5"/><circle cx="455.5" cy="247.1" r="5"/><circle cx="455.9" cy="252.6" r="5"/><circle cx="456.4" cy="258.1" r="5"/><circle cx="456.8" cy="263.8" r="5"/><circle cx="457.3" cy="269.5" r="5"/><circle cx="457.7" cy="275.3" r="5"/><circle cx="458.2" cy="281.2" r="5"/><circle cx="458.6" cy="287.1" r="5"/><circle cx="459.1" cy="293.1" r="5"/><circle cx="459.5" cy="299.1" r="5"/><circle cx="460" cy="305.1" r="5"/><circle cx="460.4" cy="311.1" r="5"/><circle cx="460.9" cy="317.1" r="5"/><circle cx="461.3" cy="323.1" r="5"/><circle cx="461.8" cy="329.1" r="5"/><circle cx="462.2" cy="335" r="5"/><circle cx="462.7" cy="340.9" r="5"/><circle cx="463.1" cy="346.8" r="5"/><circle cx="463.6" cy="352.6" r="5"/><circle cx="464" cy="358.3" r="5"/><circle cx="464.5" cy="363.9" r="5"/><circle cx="464.9" cy="369.4" r="5"/><circle cx="465.4" cy="374.8" r="5"/><circle cx="465.8" cy="380" r="5"/><circle cx="466.3" cy="385.2" r="5"/><circle cx="466.7" cy="390.1" r="5"/><circle cx="467.2" cy="395" r="5"/><circle cx="467.6" cy="399.6" r="5"/><circle cx="468.1" cy="404.1" r="5"/><circle cx="468.5" cy="408.4" r="5"/><circle cx="469" cy="412.5" r="5"/><circle cx="469.4" cy="416.4" r="5"/><circle cx="469.9" cy="420.1" r="5"/><circle cx="470.3" cy="423.5" r="5"/><circle cx="470.8" cy="426.7" r="5"/><circle cx="471.2" cy="429.6" r="5"/><circle cx="471.7" cy="432.3" r="5"/><circle cx="472.1" cy="434.7" r="5"/><circle cx="472.6" cy="436.8" r="5"/><circle cx="473" cy="438.6" r="5"/><circle cx="473.5" cy="440.1" r="5"/><circle cx="473.9" cy="441.2" r="5"/><circle cx="474.4" cy="442.1" r="5"/><circle cx="474.8" cy="442.6" r="5"/><circle cx="475.3" cy="442.7" r="5"/><circle cx="475.7" cy="442.5" r="5"/><circle cx="476.2" cy="442" r="5"/><circle cx="476.6" cy="441.3" r="5"/><circle cx="477.1" cy="440.3" r="5"/><circle cx="477.5" cy="439" r="5"/><circle cx="478" cy="437.5" r="5"/><circle cx="478.4" cy="435.7" r="5"/><circle cx="478.9" cy="433.7" r="5"/><circle cx="479.3" cy="431.5" r="5"/><circle cx="479.8" cy="429.1" r="5"/><circle cx="480.2" cy="426.5" r="5"/><circle cx="480.7" cy="423.8" r="5"/><circle cx="481.1" cy="420.8" r="5"/><circle cx="481.6" cy="417.7" r="5"/><circle cx="482" cy="414.4" r="5"/><circle cx="482.5" cy="411.1" r="5"/><circle cx="482.9" cy="407.5" r="5"/><circle cx="483.4" cy="403.9" r="5"/><circle cx="483.8" cy="400.2" r="5"/><circle cx="484.3" cy="396.3" r="5"/><circle cx="484.7" cy="392.4" r="5"/><circle cx="485.2" cy="388.4" r="5"/><circle cx="485.6" cy="384.4" r="5"/><circle cx="486.1" cy="380.3" r="5"/><circle cx="486.5" cy="376.1" r="5"/><circle cx="487" cy="371.9" r="5"/><circle cx="487.4" cy="367.7" r="5"/><circle cx="487.9" cy="363.6" r="5"/><circle cx="488.3" cy="359.4" r="5"/><circle cx="488.8" cy="355.2" r="5"/><circle cx="489.2" cy="351" r="5"/><circle cx="489.7" cy="346.9" r="5"/><circle cx="490.1" cy="342.8" r="5"/><circle cx="490.6" cy="338.8" r="5"/><circle cx="491" cy="334.9" r="5"/><circle cx="491.5" cy="331" r="5"/><circle cx="491.9" cy="327.2" r="5"/><circle cx="492.4" cy="323.6" r="5"/><circle cx="492.8" cy="320" r="5"/><circle cx="493.3" cy="316.6" r="5"/><circle cx="493.7" cy="313.3" r="5"/><circle cx="494.2" cy="310.1" r="5"/><circle cx="494.6" cy="307.1" r="5"/><circle cx="495.1" cy="304.3" r="5"/><circle cx="495.5" cy="301.6" r="5"/><circle cx="496" cy="299.2" r="5"/><circle cx="496.4" cy="296.9" r="5"/><circle cx="496.9" cy="294.8" r="5"/><circle cx="497.3" cy="293" r="5"/><circle cx="497.8" cy="291.4" r="5"/><circle cx="498.2" cy="290" r="5"/><circle cx="498.7" cy="288.9" r="5"/><circle cx="499.1" cy="288.1" r="5"/><circle cx="499.6" cy="287.5" r="5"/><circle cx="500" cy="287.2" r="5"/><circle cx="500.5" cy="287.2" r="5"/><circle cx="500.9" cy="287.4" r="5"/><circle cx="501.4" cy="287.6" r="5"/><circle cx="501.8" cy="288" r="5"/><circle cx="502.3" cy="288.5" r="5"/><circle cx="502.7" cy="289.1" r="5"/><circle cx="503.2" cy="289.7" r="5"/><circle cx="503.6" cy="290.5" r="5"/><circle cx="504.1" cy="291.3" r="5"/><circle cx="504.5" cy="292.1" r="5"/><circle cx="505" cy="293" r="5"/><circle cx="505.4" cy="294" r="5"/><circle cx="505.9" cy="295" r="5"/><circle cx="506.3" cy="296" r="5"/><circle cx="506.8" cy="297" r="5"/><circle cx="507.2" cy="298" r="5"/><circle cx="507.7" cy="299" r="5"/><circle cx="508.1" cy="300" r="5"/><circle cx="508.6" cy="301" r="5"/><circle cx="509" cy="301.9" r="5"/><circle cx="509.5" cy="302.8" r="5"/><circle cx="509.9" cy="303.6" r="5"/><circle cx="510.4" cy="304.4" r="5"/><circle cx="510.8" cy="305.1" r="5"/><circle cx="511.3" cy="305.7" r="5"/><circle cx="511.7" cy="306.2" r="5"/><circle cx="512.2" cy="306.6" r="5"/><circle cx="512.6" cy="306.9" r="5"/><circle cx="513.1" cy="307.1" r="5"/><circle cx="513.5" cy="307.2" r="5"/><circle cx="514" cy="307.1" r="5"/><circle cx="514.4" cy="306.6" r="5"/><circle cx="514.9" cy="305.9" r="5"/><circle cx="515.3" cy="305" r="5"/><circle cx="515.8" cy="303.9" r="5"/><circle cx="516.2" cy="302.6" r="5"/><circle cx="516.7" cy="301.1" r="5"/><circle cx="517.1" cy="299.5" r="5"/><circle cx="517.6" cy="297.7" r="5"/><circle cx="518" cy="295.8" r="5"/><circle cx="518.5" cy="293.9" r="5"/><circle cx="518.9" cy="291.9" r="5"/><circle cx="519.4" cy="289.9" r="5"/><circle cx="519.8" cy="287.8" r="5"/><circle cx="520.3" cy="285.8" r="5"/><circle cx="520.7" cy="283.8" r="5"/><circle cx="521.2" cy="281.8" r="5"/><circle cx="521.6" cy="279.9" r="5"/><circle cx="522.1" cy="278.1" r="5"/><circle cx="522.5" cy="276.4" r="5"/><circle cx="523" cy="274.9" r="5"/><circle cx="523.4" cy="273.5" r="5"/><circle cx="523.9" cy="272.3" r="5"/><circle cx="524.3" cy="271.3" r="5"/><circle cx="524.8" cy="270.6" r="5"/><circle cx="525.2" cy="270.1" r="5"/><circle cx="525.7" cy="269.8" r="5"/><circle cx="526.1" cy="269.8" r="5"/><circle cx="526.6" cy="270" r="5"/><circle cx="527" cy="270.4" r="5"/><circle cx="527.5" cy="270.8" r="5"/><circle cx="527.9" cy="271.5" r="5"/><circle cx="528.4" cy="272.2" r="5"/><circle cx="528.8" cy="273.1" r="5"/><circle cx="529.3" cy="274.1" r="5"/><circle cx="529.7" cy="275.3" r="5"/><circle cx="530.2" cy="276.6" r="5"/><circle cx="530.6" cy="277.9" r="5"/><circle cx="531.1" cy="279.4" r="5"/><circle cx="531.5" cy="281" r="5"/><circle cx="532" cy="282.7" r="5"/><circle cx="532.4" cy="284.5" r="5"/><circle cx="532.9" cy="286.4" r="5"/><circle cx="533.3" cy="288.4" r="5"/><circle cx="533.8" cy="290.5" r="5"/><circle cx="534.2" cy="292.7" r="5"/><circle cx="534.7" cy="294.9" r="5"/><circle cx="535.1" cy="297.2" r="5"/><circle cx="535.6" cy="299.5" r="5"/><circle cx="536" cy="302" r="5"/><circle cx="536.5" cy="304.5" r="5"/><circle cx="536.9" cy="307" r="5"/><circle cx="537.4" cy="309.6" r="5"/><circle cx="537.8" cy="312.2" r="5"/><circle cx="538.3" cy="314.9" r="5"/><circle cx="538.7" cy="317.6" r="5"/><circle cx="539.2" cy="320.4" r="5"/><circle cx="539.6" cy="323.1" r="5"/><circle cx="540.1" cy="325.9" r="5"/><circle cx="540.5" cy="328.7" r="5"/><circle cx="541" cy="331.6" r="5"/><circle cx="541.4" cy="334.4" r="5"/><circle cx="541.9" cy="337.2" r="5"/><circle cx="542.3" cy="340.1" r="5"/><circle cx="542.8" cy="342.9" r="5"/><circle cx="543.2" cy="345.7" r="5"/><circle cx="543.7" cy="348.6" r="5"/><circle cx="544.1" cy="351.4" r="5"/><circle cx="544.6" cy="354.1" r="5"/><circle cx="545" cy="356.9" r="5"/><circle cx="545.5" cy="359.6" r="5"/><circle cx="545.9" cy="362.3" r="5"/><circle cx="546.4" cy="364.9" r="5"/><circle cx="546.8" cy="367.5" r="5"/><circle cx="547.3" cy="370.1" r="5"/><circle cx="547.7" cy="372.6" r="5"/><circle cx="548.2" cy="375" r="5"/><circle cx="548.6" cy="377.4" r="5"/><circle cx="549.1" cy="379.7" r="5"/><circle cx="549.5" cy="382" r="5"/><circle cx="550" cy="384.1" r="5"/><circle cx="550.4" cy="386.2" r="5"/><circle cx="550.9" cy="388.2" r="5"/><circle cx="551.3" cy="390.1" r="5"/><circle cx="551.8" cy="392" r="5"/><circle cx="552.2" cy="393.7" r="5"/><circle cx="552.7" cy="395.3" r="5"/><circle cx="553.1" cy="396.8" r="5"/><circle cx="553.6" cy="398.3" r="5"/><circle cx="554" cy="399.5" r="5"/><circle cx="554.5" cy="400.7" r="5"/><circle cx="554.9" cy="401.8" r="5"/><circle cx="555.4" cy="402.7" r="5"/><circle cx="555.8" cy="403.5" r="5"/><circle cx="556.3" cy="404.1" r="5"/><circle cx="556.7" cy="404.7" r="5"/><circle cx="557.2" cy="405" r="5"/><circle cx="557.6" cy="405.2" r="5"/><circle cx="558.1" cy="405.3" r="5"/><circle cx="558.5" cy="405.1" r="5"/><circle cx="559" cy="404.7" r="5"/><circle cx="559.4" cy="403.9" r="5"/><circle cx="559.9" cy="402.9" r="5"/><circle cx="560.3" cy="401.7" r="5"/><circle cx="560.8" cy="400.2" r="5"/><circle cx="561.2" cy="398.5" r="5"/><circle cx="561.7" cy="396.5" r="5"/><circle cx="562.1" cy="394.3" r="5"/><circle cx="562.6" cy="391.9" r="5"/><circle cx="563" cy="389.3" r="5"/><circle cx="563.5" cy="386.5" r="5"/><circle cx="563.9" cy="383.5" r="5"/><circle cx="564.4" cy="380.3" r="5"/><circle cx="564.8" cy="377" r="5"/><circle cx="565.3" cy="373.5" r="5"/><circle cx="565.7" cy="369.8" r="5"/><circle cx="566.2" cy="366" r="5"/><circle cx="566.6" cy="362" r="5"/><circle cx="567.1" cy="357.9" r="5"/><circle cx="567.5" cy="353.7" r="5"/><circle cx="568" cy="349.4" r="5"/><circle cx="568.4" cy="345" r="5"/><circle cx="568.9" cy="340.5" r="5"/><circle cx="569.3" cy="335.9" r="5"/><circle cx="569.8" cy="331.2" r="5"/><circle cx="570.2" cy="326.4" r="5"/><circle cx="570.7" cy="321.6" r="5"/><circle cx="571.1" cy="316.7" r="5"/><circle cx="571.6" cy="311.8" r="5"/><circle cx="572" cy="306.8" r="5"/><circle cx="572.5" cy="301.8" r="5"/><circle cx="572.9" cy="296.8" r="5"/><circle cx="573.4" cy="291.8" r="5"/><circle cx="573.8" cy="286.8" r="5"/><circle cx="574.3" cy="281.7" r="5"/><circle cx="574.7" cy="276.7" r="5"/><circle cx="575.2" cy="271.7" r="5"/><circle cx="575.6" cy="266.8" r="5"/><circle cx="576.1" cy="261.8" r="5"/><circle cx="576.5" cy="256.9" r="5"/><circle cx="577" cy="252.1" r="5"/><circle cx="577.4" cy="247.3" r="5"/><circle cx="577.9" cy="242.6" r="5"/><circle cx="578.3" cy="238" r="5"/><circle cx="578.8" cy="233.5" r="5"/><circle cx="579.2" cy="229.1" r="5"/><circle cx="579.7" cy="224.7" r="5"/><circle cx="580.1" cy="220.5" r="5"/><circle cx="580.6" cy="216.4" r="5"/><circle cx="581" cy="212.5" r="5"/><circle cx="581.5" cy="208.6" r="5"/><circle cx="581.9" cy="204.9" r="5"/><circle cx="582.4" cy="201.4" r="5"/><circle cx="582.8" cy="198" r="5"/><circle cx="583.3" cy="194.9" r="5"/><circle cx="583.7" cy="191.8" r="5"/><circle cx="584.2" cy="189" r="5"/><circle cx="584.6" cy="186.4" r="5"/><circle cx="585.1" cy="184" r="5"/><circle cx="585.5" cy="181.7" r="5"/><circle cx="586" cy="179.7" r="5"/><circle cx="586.4" cy="178" r="5"/><circle cx="586.9" cy="176.5" r="5"/><circle cx="587.3" cy="175.2" r="5"/><circle cx="587.8" cy="174.2" r="5"/><circle cx="588.2" cy="173.4" r="5"/><circle cx="588.7" cy="172.9" r="5"/><circle cx="589.1" cy="172.7" r="5"/><circle cx="589.6" cy="172.8" r="5"/><circle cx="590" cy="173.4" r="5"/><circle cx="590.5" cy="174.4" r="5"/><circle cx="590.9" cy="175.9" r="5"/><circle cx="591.4" cy="177.7" r="5"/><circle cx="591.8" cy="180" r="5"/><circle cx="592.3" cy="182.6" r="5"/><circle cx="592.7" cy="185.5" r="5"/><circle cx="593.2" cy="188.8" r="5"/><circle cx="593.6" cy="192.4" r="5"/><circle cx="594.1" cy="196.3" r="5"/><circle cx="594.5" cy="200.5" r="5"/><circle cx="595" cy="204.9" r="5"/><circle cx="595.4" cy="209.6" r="5"/><circle cx="595.9" cy="214.5" r="5"/><circle cx="596.3" cy="219.7" r="5"/><circle cx="596.8" cy="225" r="5"/><circle cx="597.2" cy="230.5" r="5"/><circle cx="597.7" cy="236.2" r="5"/><circle cx="598.1" cy="242" r="5"/><circle cx="598.6" cy="248" r="5"/><circle cx="599" cy="254" r="5"/><circle cx="599.5" cy="260.2" r="5"/><circle cx="599.9" cy="266.4" r="5"/><circle cx="600.4" cy="272.7" r="5"/><circle cx="600.8" cy="279.1" r="5"/><circle cx="601.3" cy="285.4" r="5"/><circle cx="601.7" cy="291.8" r="5"/><circle cx="602.2" cy="298.1" r="5"/><circle cx="602.6" cy="304.5" r="5"/><circle cx="603.1" cy="310.8" r="5"/><circle cx="603.5" cy="317" r="5"/><circle cx="604" cy="323.1" r="5"/><circle cx="604.4" cy="329.2" r="5"/><circle cx="604.9" cy="335.1" r="5"/><circle cx="605.3" cy="340.9" r="5"/><circle cx="605.8" cy="346.6" r="5"/><circle cx="606.2" cy="352.1" r="5"/><circle cx="606.7" cy="357.4" r="5"/><circle cx="607.1" cy="362.5" r="5"/><circle cx="607.6" cy="367.4" r="5"/><circle cx="608" cy="372.1" r="5"/><circle cx="608.5" cy="376.5" r="5"/><circle cx="608.9" cy="380.7" r="5"/><circle cx="609.4" cy="384.5" r="5"/><circle cx="609.8" cy="388.1" r="5"/><circle cx="610.3" cy="391.3" r="5"/><circle cx="610.7" cy="394.3" r="5"/><circle cx="611.2" cy="396.8" r="5"/><circle cx="611.6" cy="399" r="5"/><circle cx="612.1" cy="400.8" r="5"/><circle cx="612.5" cy="402.2" r="5"/><circle cx="613" cy="403.2" r="5"/><circle cx="613.4" cy="403.7" r="5"/><circle cx="613.9" cy="403.8" r="5"/><circle cx="614.3" cy="403.6" r="5"/><circle cx="614.8" cy="403.1" r="5"/><circle cx="615.2" cy="402.3" r="5"/><circle cx="615.7" cy="401.3" r="5"/><circle cx="616.1" cy="400.1" r="5"/><circle cx="616.6" cy="398.8" r="5"/><circle cx="617" cy="397.2" r="5"/><circle cx="617.5" cy="395.5" r="5"/><circle cx="617.9" cy="393.6" r="5"/><circle cx="618.4" cy="391.6" r="5"/><circle cx="618.8" cy="389.5" r="5"/><circle cx="619.3" cy="387.2" r="5"/><circle cx="619.7" cy="385" r="5"/><circle cx="620.2" cy="382.6" r="5"/><circle cx="620.6" cy="380.2" r="5"/><circle cx="621.1" cy="377.8" r="5"/><circle cx="621.5" cy="375.3" r="5"/><circle cx="622" cy="372.9" r="5"/><circle cx="622.4" cy="370.5" r="5"/><circle cx="622.9" cy="368.1" r="5"/><circle cx="623.3" cy="365.8" r="5"/><circle cx="623.8" cy="363.6" r="5"/><circle cx="624.2" cy="361.4" r="5"/><circle cx="624.7" cy="359.4" r="5"/><circle cx="625.1" cy="357.4" r="5"/><circle cx="625.6" cy="355.7" r="5"/><circle cx="626" cy="354" r="5"/><circle cx="626.5" cy="352.6" r="5"/><circle cx="626.9" cy="351.3" r="5"/><circle cx="627.4" cy="350.3" r="5"/><circle cx="627.8" cy="349.5" r="5"/><circle cx="628.3" cy="348.9" r="5"/><circle cx="628.7" cy="348.6" r="5"/><circle cx="629.2" cy="348.5" r="5"/><circle cx="629.6" cy="348.7" r="5"/><circle cx="630.1" cy="349.1" r="5"/><circle cx="630.5" cy="349.8" r="5"/><circle cx="631" cy="350.6" r="5"/><circle cx="631.4" cy="351.6" r="5"/><circle cx="631.9" cy="352.8" r="5"/><circle cx="632.3" cy="354.1" r="5"/><circle cx="632.8" cy="355.5" r="5"/><circle cx="633.2" cy="357.1" r="5"/><circle cx="633.7" cy="358.7" r="5"/><circle cx="634.1" cy="360.5" r="5"/><circle cx="634.6" cy="362.3" r="5"/><circle cx="635" cy="364.1" r="5"/><circle cx="635.5" cy="366" r="5"/><circle cx="635.9" cy="368" r="5"/><circle cx="636.4" cy="369.9" r="5"/><circle cx="636.8" cy="371.8" r="5"/><circle cx="637.3" cy="373.7" r="5"/><circle cx="637.7" cy="375.5" r="5"/><circle cx="638.2" cy="377.3" r="5"/><circle cx="638.6" cy="379" r="5"/><circle cx="639.1" cy="380.7" r="5"/><circle cx="639.5" cy="382.2" r="5"/><circle cx="640" cy="383.6" r="5"/><circle cx="640.4" cy="384.8" r="5"/><circle cx="640.9" cy="386" r="5"/><circle cx="641.3" cy="386.9" r="5"/><circle cx="641.8" cy="387.7" r="5"/><circle cx="642.2" cy="388.2" r="5"/><circle cx="642.7" cy="388.6" r="5"/><circle cx="643.1" cy="388.7" r="5"/><circle cx="643.6" cy="388.6" r="5"/><circle cx="644" cy="388.3" r="5"/><circle cx="644.5" cy="387.8" r="5"/><circle cx="644.9" cy="387.1" r="5"/><circle cx="645.4" cy="386.2" r="5"/><circle cx="645.8" cy="385.1" r="5"/><circle cx="646.3" cy="383.8" r="5"/><circle cx="646.7" cy="382.4" r="5"/><circle cx="647.2" cy="380.7" r="5"/><circle cx="647.6" cy="378.9" r="5"/><circle cx="648.1" cy="376.9" r="5"/><circle cx="648.5" cy="374.7" r="5"/><circle cx="649" cy="372.4" r="5"/><circle cx="649.4" cy="369.9" r="5"/><circle cx="649.9" cy="367.2" r="5"/><circle cx="650.3" cy="364.3" r="5"/><circle cx="650.8" cy="361.3" r="5"/><circle cx="651.2" cy="358.2" r="5"/><circle cx="651.7" cy="354.8" r="5"/><circle cx="652.1" cy="351.4" r="5"/><circle cx="652.6" cy="347.7" r="5"/><circle cx="653" cy="343.9" r="5"/><circle cx="653.5" cy="340" r="5"/><circle cx="653.9" cy="336" r="5"/><circle cx="654.4" cy="331.8" r="5"/><circle cx="654.8" cy="327.4" r="5"/><circle cx="655.3" cy="322.9" r="5"/><circle cx="655.7" cy="318.3" r="5"/><circle cx="656.2" cy="313.6" r="5"/><circle cx="656.6" cy="308.7" r="5"/><circle cx="657.1" cy="303.7" r="5"/><circle cx="657.5" cy="298.6" r="5"/><circle cx="658" cy="293.4" r="5"/><circle cx="658.4" cy="288.1" r="5"/><circle cx="658.9" cy="282.6" r="5"/><circle cx="659.3" cy="277.1" r="5"/><circle cx="659.8" cy="271.4" r="5"/><circle cx="660.2" cy="265.6" r="5"/><circle cx="660.7" cy="259.7" r="5"/><circle cx="661.1" cy="253.8" r="5"/><circle cx="661.6" cy="247.7" r="5"/>
</g>
<polyline clip-path="url(#ca)" fill="none" stroke="#ec1c24" stroke-width="2.5" stroke-linejoin="round" points="99.5,347 100,352.8 100.5,358.2 101,362.9 101.5,366.5 102,368.5 102.5,368.9 103,368.5 103.5,367.9 104,367.1 104.5,366.3 105,365.6 105.5,365.1 106,365 106.5,365.1 107,365.3 107.5,365.6 108,365.9 108.5,366.2 109,366.4 109.5,366.5 110,366.3 110.5,365.6 111,364.4 111.5,362.9 112,360.9 112.5,358.6 113,355.9 113.5,352.9 114,349.6 114.5,346.1 115,342.2 115.5,338.1 116,333.8 116.5,329.3 117,324.7 117.5,319.8 118,314.9 118.5,309.8 119,304.7 119.5,299.5 120,294.3 120.5,289 121,283.7 121.5,278.5 122,273.3 122.5,268.2 123,263.2 123.5,258.3 124,253.6 124.5,248.9 125,244.5 125.5,240.3 126,236.3 126.5,232.6 127,229.1 127.5,225.9 128,223.1 128.5,220.5 129,218.3 129.5,216.6 130,215.2 130.5,214.2 131,213.7 131.5,213.7 132,214.2 132.5,215.4 133,217.2 133.5,219.5 134,222.2 134.5,225.3 135,228.9 135.5,232.7 136,236.9 136.5,241.2 137,245.8 137.5,250.4 138,255.2 138.5,260 139,264.8 139.5,269.6 140,274.2 140.5,278.8 141,283.1 141.5,287.1 142,290.9 142.5,294.4 143,297.4 143.5,300.2 144,303.1 144.5,305.9 145,308.8 145.5,311.7 146,314.6 146.5,317.6 147,320.5 147.5,323.5 148,326.5 148.5,329.4 149,332.4 149.5,335.3 150,338.3 150.5,341.2 151,344.1 151.5,346.9 152,349.7 152.5,352.5 153,355.3 153.5,358 154,360.6 154.5,363.2 155,365.7 155.5,368.2 156,370.6 156.5,372.9 157,375.2 157.5,377.3 158,379.4 158.5,381.4 159,383.3 159.5,385.1 160,386.8 160.5,388.3 161,389.8 161.5,391.2 162,392.4 162.5,393.5 163,394.4 163.5,395.3 164,395.9 164.5,396.5 165,396.9 165.5,397.1 166,397.2 166.5,397 167,396.5 167.5,395.6 168,394.4 168.5,392.9 169,391.1 169.5,389 170,386.7 170.5,384.1 171,381.3 171.5,378.2 172,375 172.5,371.5 173,367.9 173.5,364.2 174,360.3 174.5,356.2 175,352.1 175.5,347.9 176,343.6 176.5,339.2 177,334.7 177.5,330.3 178,325.8 178.5,321.3 179,316.8 179.5,312.4 180,308 180.5,303.6 181,299.3 181.5,295.1 182,291 182.5,287 183,283.2 183.5,279.5 184,276 184.5,272.6 185,269.4 185.5,266.5 186,263.8 186.5,261.3 187,259 187.5,257.1 188,255.4 188.5,254 189,252.9 189.5,252.2 190,251.8 190.5,251.7 191,252.1 191.5,252.9 192,254.1 192.5,255.6 193,257.4 193.5,259.4 194,261.7 194.5,264.1 195,266.6 195.5,269.3 196,272 196.5,274.7 197,277.4 197.5,280 198,282.5 198.5,284.9 199,287.1 199.5,289.1 200,290.8 200.5,292.3 201,293.4 201.5,294.1 202,294.4 202.5,294.2 203,293.6 203.5,292.5 204,290.9 204.5,289 205,286.7 205.5,284.2 206,281.3 206.5,278.3 207,275 207.5,271.6 208,268.1 208.5,264.5 209,260.9 209.5,257.3 210,253.7 210.5,250.2 211,246.8 211.5,243.6 212,240.6 212.5,237.8 213,235.3 213.5,233.1 214,231.2 214.5,229.8 215,228.8 215.5,228.2 216,228.1 216.5,228.5 217,229.2 217.5,230.3 218,231.7 218.5,233.4 219,235.5 219.5,237.8 220,240.4 220.5,243.3 221,246.5 221.5,249.9 222,253.5 222.5,257.3 223,261.3 223.5,265.5 224,269.9 224.5,274.4 225,279.1 225.5,283.9 226,288.8 226.5,293.8 227,298.9 227.5,304 228,309.2 228.5,314.4 229,319.7 229.5,325 230,330.2 230.5,335.5 231,340.7 231.5,345.8 232,350.9 232.5,355.9 233,360.8 233.5,365.6 234,370.3 234.5,374.9 235,379.3 235.5,383.5 236,387.6 236.5,391.5 237,395.1 237.5,398.6 238,401.8 238.5,404.7 239,407.4 239.5,409.8 240,411.9 240.5,413.7 241,415.2 241.5,416.3 242,417.1 242.5,417.5 243,417.6 243.5,417.4 244,416.9 244.5,416.3 245,415.4 245.5,414.4 246,413.1 246.5,411.7 247,410.1 247.5,408.3 248,406.3 248.5,404.2 249,402 249.5,399.6 250,397 250.5,394.4 251,391.6 251.5,388.7 252,385.7 252.5,382.7 253,379.5 253.5,376.3 254,372.9 254.5,369.6 255,366.1 255.5,362.6 256,359.1 256.5,355.6 257,352 257.5,348.4 258,344.7 258.5,341.1 259,337.5 259.5,333.9 260,330.3 260.5,326.8 261,323.3 261.5,319.8 262,316.4 262.5,313 263,309.7 263.5,306.5 264,303.3 264.5,300.3 265,297.3 265.5,294.4 266,291.7 266.5,289 267,286.5 267.5,284.2 268,282 268.5,279.9 269,278 269.5,276.2 270,274.6 270.5,273.2 271,272 271.5,271 272,270.2 272.5,269.6 273,269.2 273.5,269 274,269.1 274.5,269.6 275,270.4 275.5,271.5 276,272.9 276.5,274.6 277,276.5 277.5,278.6 278,280.9 278.5,283.3 279,285.9 279.5,288.6 280,291.4 280.5,294.3 281,297.2 281.5,300.1 282,303 282.5,305.9 283,308.7 283.5,311.4 284,314.1 284.5,316.5 285,318.9 285.5,321 286,323 286.5,324.7 287,326.1 287.5,327.3 288,328.2 288.5,328.7 289,328.9 289.5,328.7 290,328.2 290.5,327.4 291,326.2 291.5,324.8 292,323.1 292.5,321.2 293,319.1 293.5,316.7 294,314.2 294.5,311.6 295,308.8 295.5,305.9 296,302.9 296.5,299.9 297,296.8 297.5,293.7 298,290.6 298.5,287.4 299,284.4 299.5,281.4 300,278.4 300.5,275.6 301,272.9 301.5,270.3 302,267.9 302.5,265.7 303,263.7 303.5,261.9 304,260.4 304.5,259.2 305,258.2 305.5,257.5 306,257.2 306.5,257.3 307,257.6 307.5,258.2 308,259.1 308.5,260.2 309,261.6 309.5,263.2 310,265 310.5,267.1 311,269.3 311.5,271.8 312,274.4 312.5,277.3 313,280.2 313.5,283.4 314,286.6 314.5,290 315,293.5 315.5,297.1 316,300.8 316.5,304.6 317,308.5 317.5,312.4 318,316.4 318.5,320.4 319,324.5 319.5,328.5 320,332.6 320.5,336.7 321,340.8 321.5,344.8 322,348.8 322.5,352.7 323,356.6 323.5,360.5 324,364.2 324.5,367.8 325,371.4 325.5,374.8 326,378.2 326.5,381.3 327,384.4 327.5,387.2 328,390 328.5,392.5 329,394.8 329.5,397 330,398.9 330.5,400.6 331,402.1 331.5,403.3 332,404.3 332.5,405 333,405.5 333.5,405.6 334,405.4 334.5,404.7 335,403.6 335.5,402.1 336,400.3 336.5,398 337,395.5 337.5,392.6 338,389.4 338.5,385.9 339,382.2 339.5,378.2 340,374 340.5,369.6 341,365.1 341.5,360.3 342,355.4 342.5,350.4 343,345.3 343.5,340.2 344,334.9 344.5,329.6 345,324.3 345.5,319 346,313.7 346.5,308.5 347,303.3 347.5,298.2 348,293.1 348.5,288.2 349,283.5 349.5,278.9 350,274.4 350.5,270.2 351,266.2 351.5,262.4 352,258.9 352.5,255.6 353,252.7 353.5,250 354,247.8 354.5,245.8 355,244.2 355.5,243.1 356,242.3 356.5,242 357,242.1 357.5,242.4 358,243 358.5,243.8 359,244.8 359.5,246 360,247.3 360.5,248.9 361,250.6 361.5,252.4 362,254.4 362.5,256.5 363,258.7 363.5,261 364,263.3 364.5,265.7 365,268.2 365.5,270.7 366,273.2 366.5,275.7 367,278.3 367.5,280.8 368,283.2 368.5,285.7 369,288 369.5,290.3 370,292.5 370.5,294.7 371,296.6 371.5,298.5 372,300.2 372.5,301.8 373,303.2 373.5,304.5 374,305.5 374.5,306.4 375,307.1 375.5,307.8 376,308.4 376.5,309.1 377,309.7 377.5,310.5 378,311.4 378.5,312.4 379,313.6 379.5,314.9 380,316.3 380.5,317.8 381,319.4 381.5,321.2 382,323 382.5,324.9 383,326.9 383.5,329 384,331.2 384.5,333.4 385,335.7 385.5,338 386,340.4 386.5,342.9 387,345.4 387.5,347.9 388,350.4 388.5,353 389,355.6 389.5,358.2 390,360.8 390.5,363.5 391,366.1 391.5,368.7 392,371.3 392.5,373.8 393,376.4 393.5,378.9 394,381.3 394.5,383.8 395,386.1 395.5,388.5 396,390.7 396.5,392.9 397,395 397.5,397.1 398,399.1 398.5,400.9 399,402.7 399.5,404.4 400,406 400.5,407.4 401,408.8 401.5,410 402,411.1 402.5,412.1 403,412.9 403.5,413.6 404,414.1 404.5,414.5 405,414.7 405.5,414.8 406,414.6 406.5,414.3 407,413.7 407.5,412.9 408,411.9 408.5,410.7 409,409.3 409.5,407.7 410,406 410.5,404.1 411,402 411.5,399.7 412,397.3 412.5,394.8 413,392.1 413.5,389.2 414,386.3 414.5,383.1 415,379.9 415.5,376.6 416,373.1 416.5,369.6 417,365.9 417.5,362.1 418,358.3 418.5,354.4 419,350.4 419.5,346.3 420,342.1 420.5,337.9 421,333.7 421.5,329.3 422,325 422.5,320.6 423,316.2 423.5,311.7 424,307.2 424.5,302.8 425,298.3 425.5,293.7 426,289.2 426.5,284.7 427,280.3 427.5,275.8 428,271.4 428.5,266.9 429,262.6 429.5,258.2 430,253.9 430.5,249.7 431,245.5 431.5,241.4 432,237.3 432.5,233.4 433,229.5 433.5,225.6 434,221.9 434.5,218.3 435,214.8 435.5,211.4 436,208.1 436.5,204.9 437,201.8 437.5,198.9 438,196.1 438.5,193.5 439,191 439.5,188.6 440,186.5 440.5,184.4 441,182.6 441.5,180.9 442,179.4 442.5,178.1 443,177 443.5,176.1 444,175.4 444.5,174.9 445,174.6 445.5,174.5 446,174.9 446.5,175.8 447,177.1 447.5,179 448,181.3 448.5,184 449,187.2 449.5,190.7 450,194.7 450.5,198.9 451,203.5 451.5,208.5 452,213.7 452.5,219.2 453,224.9 453.5,230.9 454,237 454.5,243.4 455,250 455.5,256.6 456,263.5 456.5,270.4 457,277.4 457.5,284.5 458,291.7 458.5,298.9 459,306 459.5,313.2 460,320.4 460.5,327.5 461,334.5 461.5,341.4 462,348.3 462.5,354.9 463,361.5 463.5,367.9 464,374 464.5,380 465,385.7 465.5,391.2 466,396.4 466.5,401.4 467,406 467.5,410.2 468,414.2 468.5,417.7 469,420.9 469.5,423.6 470,425.9 470.5,427.8 471,429.1 471.5,430 472,430.4 472.5,430.3 473,430 473.5,429.4 474,428.5 474.5,427.5 475,426.2 475.5,424.7 476,423 476.5,421.1 477,419 477.5,416.7 478,414.2 478.5,411.6 479,408.9 479.5,406 480,402.9 480.5,399.8 481,396.5 481.5,393.2 482,389.7 482.5,386.2 483,382.5 483.5,378.8 484,375.1 484.5,371.3 485,367.4 485.5,363.6 486,359.7 486.5,355.8 487,351.9 487.5,348 488,344.1 488.5,340.2 489,336.4 489.5,332.6 490,328.9 490.5,325.2 491,321.6 491.5,318.1 492,314.7 492.5,311.3 493,308.1 493.5,305 494,302 494.5,299.2 495,296.5 495.5,294 496,291.6 496.5,289.4 497,287.4 497.5,285.5 498,283.9 498.5,282.5 499,281.3 499.5,280.3 500,279.6 500.5,279.1 501,278.8 501.5,278.9 502,279.1 502.5,279.7 503,280.5 503.5,281.4 504,282.6 504.5,283.9 505,285.3 505.5,286.8 506,288.5 506.5,290.2 507,291.9 507.5,293.6 508,295.4 508.5,297.1 509,298.7 509.5,300.3 510,301.8 510.5,303.1 511,304.3 511.5,305.4 512,306.2 512.5,306.9 513,307.3 513.5,307.4 514,307.3 514.5,307 515,306.5 515.5,305.8 516,305 516.5,304 517,302.9 517.5,301.7 518,300.5 518.5,299.1 519,297.6 519.5,296.1 520,294.6 520.5,293.1 521,291.5 521.5,290 522,288.5 522.5,287 523,285.6 523.5,284.2 524,283 524.5,281.8 525,280.8 525.5,279.9 526,279.1 526.5,278.5 527,278.1 527.5,277.8 528,277.8 528.5,278 529,278.4 529.5,279 530,279.7 530.5,280.7 531,281.8 531.5,283.1 532,284.5 532.5,286.1 533,287.9 533.5,289.8 534,291.8 534.5,293.9 535,296.2 535.5,298.5 536,301 536.5,303.5 537,306.2 537.5,308.9 538,311.7 538.5,314.5 539,317.5 539.5,320.4 540,323.5 540.5,326.5 541,329.6 541.5,332.7 542,335.8 542.5,339 543,342.1 543.5,345.2 544,348.3 544.5,351.4 545,354.5 545.5,357.6 546,360.6 546.5,363.5 547,366.4 547.5,369.2 548,372 548.5,374.7 549,377.3 549.5,379.8 550,382.2 550.5,384.6 551,386.8 551.5,388.8 552,390.8 552.5,392.6 553,394.3 553.5,395.8 554,397.2 554.5,398.5 555,399.5 555.5,400.4 556,401.1 556.5,401.6 557,401.9 557.5,402 558,401.8 558.5,401.4 559,400.6 559.5,399.5 560,398.1 560.5,396.4 561,394.5 561.5,392.3 562,389.8 562.5,387.1 563,384.2 563.5,381.1 564,377.8 564.5,374.3 565,370.5 565.5,366.7 566,362.6 566.5,358.4 567,354 567.5,349.6 568,345 568.5,340.2 569,335.4 569.5,330.5 570,325.5 570.5,320.5 571,315.3 571.5,310.2 572,305 572.5,299.7 573,294.5 573.5,289.2 574,284 574.5,278.7 575,273.5 575.5,268.3 576,263.2 576.5,258.1 577,253.1 577.5,248.1 578,243.3 578.5,238.5 579,233.9 579.5,229.3 580,224.9 580.5,220.7 581,216.5 581.5,212.6 582,208.8 582.5,205.2 583,201.8 583.5,198.6 584,195.6 584.5,192.8 585,190.3 585.5,188 586,185.9 586.5,184.2 587,182.7 587.5,181.5 588,180.5 588.5,179.9 589,179.6 589.5,179.7 590,180.3 590.5,181.4 591,183 591.5,185.1 592,187.6 592.5,190.6 593,193.9 593.5,197.7 594,201.8 594.5,206.2 595,210.9 595.5,216 596,221.3 596.5,226.9 597,232.6 597.5,238.6 598,244.8 598.5,251.1 599,257.5 599.5,264.1 600,270.7 600.5,277.4 601,284.2 601.5,291 602,297.8 602.5,304.5 603,311.2 603.5,317.8 604,324.4 604.5,330.8 605,337.1 605.5,343.2 606,349.1 606.5,354.9 607,360.4 607.5,365.6 608,370.6 608.5,375.3 609,379.7 609.5,383.7 610,387.4 610.5,390.7 611,393.5 611.5,396 612,398 612.5,399.5 613,400.5 613.5,401 614,400.9 614.5,400.6 615,400 615.5,399.1 616,398 616.5,396.6 617,395.1 617.5,393.3 618,391.4 618.5,389.4 619,387.3 619.5,385 620,382.7 620.5,380.3 621,377.9 621.5,375.5 622,373 622.5,370.6 623,368.3 623.5,366 624,363.8 624.5,361.7 625,359.8 625.5,358 626,356.4 626.5,354.9 627,353.7 627.5,352.7 628,352 628.5,351.6 629,351.4 629.5,351.5 630,351.9 630.5,352.5 631,353.3 631.5,354.2 632,355.4 632.5,356.7 633,358.1 633.5,359.6 634,361.2 634.5,362.9 635,364.6 635.5,366.3 636,368.1 636.5,369.8 637,371.5 637.5,373.2 638,374.8 638.5,376.3 639,377.7 639.5,379 640,380.2 640.5,381.1 641,381.9 641.5,382.5 642,382.9 642.5,383 643,382.9 643.5,382.6 644,382 644.5,381.3 645,380.3 645.5,379.1 646,377.7 646.5,376.2 647,374.4 647.5,372.4 648,370.3 648.5,367.9 649,365.4 649.5,362.7 650,359.8 650.5,356.7 651,353.5 651.5,350.1 652,346.5 652.5,342.8 653,338.9 653.5,334.8 654,330.6 654.5,326.3 655,321.8 655.5,317.1 656,312.3 656.5,307.4 657,302.3 657.5,297.1 658,291.8 658.5,286.4 659,280.8 659.5,275.1 660,269.3 660.5,263.4 661,257.4 661.5,251.2"/>
<line x1="99.5" y1="436.2" x2="661.6" y2="436.2" stroke="#1a1a1a" stroke-width="1.3"/>
<polyline clip-path="url(#ca)" fill="none" stroke="#1a8a1a" stroke-width="2.6" stroke-linejoin="round" points="99.5,451.7 100,447.7 100.5,443.9 101,440.5 101.5,437.7 102,435.6 102.5,434.4 103,434.2 103.5,434.6 104,435.4 104.5,436.4 105,437.8 105.5,439.3 106,441 106.5,442.7 107,444.5 107.5,446.2 108,447.9 108.5,449.4 109,450.9 109.5,452.5 110,454.3 110.5,456.2 111,458.1 111.5,459.9 112,461.7 112.5,463.2 113,464.5 113.5,465.5 114,466 114.5,466.2 115,465.8 115.5,465 116,463.8 116.5,462.2 117,460.2 117.5,457.9 118,455.5 118.5,452.8 119,449.9 119.5,447 120,443.9 120.5,440.9 121,437.8 121.5,434.9 122,432 122.5,429.3 123,426.9 123.5,424.6 124,422.6 124.5,421 125,419.8 125.5,419 126,418.6 126.5,418.8 127,419.5 127.5,420.6 128,422.2 128.5,424.1 129,426.4 129.5,428.9 130,431.7 130.5,434.7 131,437.8 131.5,441 132,444.2 132.5,447.5 133,450.6 133.5,453.7 134,456.7 134.5,459.4 135,461.9 135.5,464.1 136,466 136.5,467.5 137,468.5 137.5,469.1 138,469.2 138.5,468.7 139,467.8 139.5,466.5 140,464.8 140.5,462.8 141,460.5 141.5,457.9 142,455 142.5,452 143,448.8 143.5,445.5 144,442.2 144.5,438.7 145,435.3 145.5,431.9 146,428.6 146.5,425.3 147,422.2 147.5,419.3 148,416.6 148.5,414.2 149,412 149.5,410.2 150,408.7 150.5,407.7 151,407.1 151.5,406.9 152,407 152.5,407.1 153,407.3 153.5,407.6 154,408 154.5,408.4 155,408.8 155.5,409.3 156,409.8 156.5,410.3 157,410.9 157.5,411.5 158,412 158.5,412.6 159,413.1 159.5,413.6 160,414.1 160.5,414.6 161,415 161.5,415.4 162,415.6 162.5,415.9 163,416.1 163.5,416.3 164,416.4 164.5,416.6 165,416.7 165.5,416.9 166,417.1 166.5,417.3 167,417.6 167.5,418.1 168,418.9 168.5,420 169,421.4 169.5,423 170,424.7 170.5,426.6 171,428.6 171.5,430.6 172,432.6 172.5,434.6 173,436.6 173.5,438.4 174,440.1 174.5,441.6 175,442.8 175.5,443.8 176,444.5 176.5,444.9 177,444.9 177.5,444.6 178,444.2 178.5,443.7 179,443.1 179.5,442.4 180,441.6 180.5,440.9 181,440.2 181.5,439.5 182,438.9 182.5,438.5 183,438.2 183.5,438.1 184,438.4 184.5,439.4 185,441 185.5,443.1 186,445.6 186.5,448.5 187,451.8 187.5,455.2 188,458.9 188.5,462.6 189,466.4 189.5,470.2 190,473.9 190.5,477.5 191,480.8 191.5,483.9 192,486.5 192.5,488.8 193,490.6 193.5,491.8 194,492.4 194.5,492.4 195,491.8 195.5,490.8 196,489.3 196.5,487.4 197,485.1 197.5,482.5 198,479.6 198.5,476.5 199,473.1 199.5,469.5 200,465.8 200.5,462 201,458.1 201.5,454.2 202,450.3 202.5,446.4 203,442.6 203.5,439 204,435.4 204.5,432.1 205,429 205.5,426.1 206,423.6 206.5,421.4 207,419.6 207.5,418.2 208,417.2 208.5,416.7 209,416.8 209.5,417.1 210,417.7 210.5,418.5 211,419.5 211.5,420.6 212,421.7 212.5,422.9 213,424 213.5,425 214,425.9 214.5,426.7 215,427.2 215.5,427.4 216,427.3 216.5,427.1 217,426.7 217.5,426.1 218,425.4 218.5,424.6 219,423.8 219.5,422.9 220,422 220.5,421 221,420.2 221.5,419.3 222,418.5 222.5,417.9 223,417.3 223.5,417 224,416.7 224.5,416.7 225,416.7 225.5,416.8 226,416.8 226.5,416.9 227,417.1 227.5,417.2 228,417.3 228.5,417.5 229,417.7 229.5,417.9 230,418.1 230.5,418.3 231,418.6 231.5,418.9 232,419.5 232.5,420.5 233,421.6 233.5,423 234,424.6 234.5,426.4 235,428.4 235.5,430.4 236,432.5 236.5,434.7 237,437 237.5,439.2 238,441.5 238.5,443.7 239,445.8 239.5,447.9 240,449.8 240.5,451.5 241,453.1 241.5,454.5 242,455.7 242.5,456.6 243,457.2 243.5,457.5 244,457.5 244.5,457.2 245,456.6 245.5,455.8 246,454.8 246.5,453.7 247,452.3 247.5,450.8 248,449.2 248.5,447.4 249,445.5 249.5,443.6 250,441.6 250.5,439.6 251,437.6 251.5,435.5 252,433.5 252.5,431.5 253,429.6 253.5,427.7 254,425.9 254.5,424.3 255,422.8 255.5,421.4 256,420.3 256.5,419.3 257,418.5 257.5,417.9 258,417.6 258.5,417.6 259,417.7 259.5,417.8 260,417.9 260.5,418.1 261,418.4 261.5,418.7 262,419 262.5,419.3 263,419.7 263.5,420.1 264,420.6 264.5,421 265,421.5 265.5,421.9 266,422.4 266.5,422.9 267,423.7 267.5,424.5 268,425.6 268.5,426.8 269,428.1 269.5,429.5 270,431 270.5,432.6 271,434.2 271.5,435.9 272,437.6 272.5,439.3 273,441 273.5,442.7 274,444.3 274.5,445.9 275,447.5 275.5,448.9 276,450.3 276.5,451.5 277,452.6 277.5,453.6 278,454.4 278.5,455 279,455.4 279.5,455.6 280,455.6 280.5,455.4 281,455 281.5,454.5 282,453.9 282.5,453.1 283,452.3 283.5,451.3 284,450.3 284.5,449.2 285,448 285.5,446.9 286,445.6 286.5,444.4 287,443.2 287.5,441.9 288,440.8 288.5,439.6 289,438.5 289.5,437.5 290,436.5 290.5,435.7 291,434.9 291.5,434.3 292,433.8 292.5,433.4 293,433.2 293.5,433.2 294,433.2 294.5,433.3 295,433.5 295.5,433.6 296,433.8 296.5,434 297,434.2 297.5,434.4 298,434.7 298.5,434.9 299,435.2 299.5,435.4 300,435.7 300.5,435.9 301,436.1 301.5,436.2 302,436.5 302.5,436.7 303,436.9 303.5,437.1 304,437.3 304.5,437.5 305,437.7 305.5,437.9 306,438 306.5,438.1 307,438.1 307.5,438 308,437.8 308.5,437.4 309,436.9 309.5,436.3 310,435.7 310.5,434.9 311,434.1 311.5,433.3 312,432.5 312.5,431.7 313,430.9 313.5,430.1 314,429.4 314.5,428.8 315,428.3 315.5,427.9 316,427.6 316.5,427.4 317,427.4 317.5,427.7 318,428.1 318.5,428.7 319,429.4 319.5,430.2 320,431.1 320.5,431.9 321,432.7 321.5,433.5 322,434.1 322.5,434.6 323,435 323.5,435.1 324,435 324.5,434.8 325,434.5 325.5,434 326,433.6 326.5,433 327,432.6 327.5,432.1 328,431.7 328.5,431.4 329,431.2 329.5,431.2 330,431.2 330.5,431.3 331,431.4 331.5,431.6 332,431.7 332.5,431.9 333,432.1 333.5,432.4 334,432.6 334.5,432.9 335,433.2 335.5,433.5 336,433.8 336.5,434.1 337,434.4 337.5,434.7 338,435 338.5,435.3 339,435.6 339.5,435.8 340,436.1 340.5,436.4 341,436.6 341.5,436.9 342,437.1 342.5,437.3 343,437.6 343.5,437.8 344,438.1 344.5,438.3 345,438.6 345.5,438.9 346,439.1 346.5,439.4 347,439.6 347.5,439.9 348,440.2 348.5,440.5 349,440.8 349.5,441.1 350,441.4 350.5,441.7 351,442 351.5,442.4 352,442.7 352.5,443.1 353,443.4 353.5,443.8 354,444.2 354.5,444.8 355,445.4 355.5,446 356,446.8 356.5,447.5 357,448.3 357.5,449 358,449.7 358.5,450.4 359,451 359.5,451.6 360,452 360.5,452.4 361,452.5 361.5,452.6 362,452.5 362.5,452.1 363,451.6 363.5,451 364,450.1 364.5,449.2 365,448.1 365.5,446.9 366,445.6 366.5,444.3 367,442.8 367.5,441.3 368,439.8 368.5,438.2 369,436.6 369.5,435 370,433.4 370.5,431.8 371,430.2 371.5,428.7 372,427.2 372.5,425.8 373,424.5 373.5,423.2 374,422.1 374.5,421.1 375,420.2 375.5,419.5 376,419 376.5,418.6 377,418.3 377.5,418.3 378,418.5 378.5,418.8 379,419.2 379.5,419.8 380,420.5 380.5,421.3 381,422.2 381.5,423.2 382,424.2 382.5,425.3 383,426.4 383.5,427.5 384,428.6 384.5,429.7 385,430.8 385.5,431.9 386,432.9 386.5,433.8 387,434.6 387.5,435.4 388,436 388.5,436.5 389,436.9 389.5,437.2 390,437.6 390.5,438 391,438.3 391.5,438.6 392,439 392.5,439.3 393,439.6 393.5,439.8 394,440.1 394.5,440.3 395,440.4 395.5,440.6 396,440.7 396.5,440.8 397,440.8 397.5,440.8 398,440.6 398.5,440.4 399,440.2 399.5,439.9 400,439.6 400.5,439.3 401,439.1 401.5,438.9 402,438.8 402.5,438.8 403,438.8 403.5,439 404,439.2 404.5,439.5 405,439.9 405.5,440.2 406,440.6 406.5,440.9 407,441.2 407.5,441.5 408,441.7 408.5,441.9 409,442 409.5,442.1 410,442.2 410.5,442.3 411,442.3 411.5,442.4 412,442.5 412.5,442.5 413,442.6 413.5,442.7 414,442.7 414.5,442.8 415,443 415.5,443.1 416,443.3 416.5,443.6 417,443.8 417.5,444.1 418,444.4 418.5,444.7 419,445 419.5,445.2 420,445.5 420.5,445.7 421,445.8 421.5,446 422,446 422.5,445.9 423,445.6 423.5,445.1 424,444.4 424.5,443.6 425,442.6 425.5,441.6 426,440.4 426.5,439.2 427,437.9 427.5,436.6 428,435.4 428.5,434.1 429,433 429.5,431.9 430,430.9 430.5,430 431,429.3 431.5,428.8 432,428.4 432.5,428.3 433,428.4 433.5,428.5 434,428.8 434.5,429.2 435,429.7 435.5,430.2 436,430.8 436.5,431.5 437,432.2 437.5,432.9 438,433.7 438.5,434.4 439,435.2 439.5,435.9 440,436.6 440.5,437.3 441,437.9 441.5,438.4 442,438.9 442.5,439.3 443,439.6 443.5,439.7 444,439.8 444.5,439.7 445,439.3 445.5,438.8 446,438.1 446.5,437.3 447,436.4 447.5,435.4 448,434.4 448.5,433.3 449,432.3 449.5,431.3 450,430.5 450.5,429.7 451,429.1 451.5,428.6 452,428.3 452.5,428.3 453,428.5 453.5,428.7 454,429.1 454.5,429.5 455,430 455.5,430.4 456,430.9 456.5,431.2 457,431.4 457.5,431.5 458,431.4 458.5,431.1 459,430.7 459.5,430.1 460,429.5 460.5,428.9 461,428.4 461.5,427.9 462,427.5 462.5,427.3 463,427.3 463.5,427.5 464,427.9 464.5,428.4 465,429 465.5,429.7 466,430.5 466.5,431.4 467,432.4 467.5,433.5 468,434.5 468.5,435.6 469,436.8 469.5,437.9 470,439 470.5,440.1 471,441.1 471.5,442.1 472,443 472.5,443.8 473,444.5 473.5,445.1 474,445.5 474.5,445.8 475,446 475.5,446 476,445.7 476.5,445.4 477,444.8 477.5,444.2 478,443.4 478.5,442.6 479,441.7 479.5,440.8 480,439.9 480.5,439 481,438.2 481.5,437.4 482,436.7 482.5,436.2 483,435.8 483.5,435.6 484,435.5 484.5,435.4 485,435.3 485.5,435.2 486,435.1 486.5,435 487,434.9 487.5,434.8 488,434.8 488.5,434.7 489,434.7 489.5,434.6 490,434.6 490.5,434.6 491,434.6 491.5,434.7 492,435 492.5,435.4 493,435.9 493.5,436.5 494,437.1 494.5,437.8 495,438.6 495.5,439.3 496,440 496.5,440.8 497,441.5 497.5,442.1 498,442.7 498.5,443.2 499,443.6 499.5,443.9 500,444 500.5,444 501,443.9 501.5,443.8 502,443.7 502.5,443.5 503,443.3 503.5,443.1 504,442.8 504.5,442.5 505,442.2 505.5,441.9 506,441.5 506.5,441.1 507,440.7 507.5,440.3 508,439.9 508.5,439.5 509,439 509.5,438.6 510,438.2 510.5,437.7 511,437.3 511.5,436.9 512,436.4 512.5,435.9 513,435.4 513.5,434.7 514,434 514.5,433.3 515,432.6 515.5,431.8 516,431 516.5,430.2 517,429.4 517.5,428.6 518,427.8 518.5,427 519,426.3 519.5,425.7 520,425.1 520.5,424.5 521,424.1 521.5,423.7 522,423.4 522.5,423.2 523,423.1 523.5,423.2 524,423.4 524.5,423.8 525,424.3 525.5,425 526,425.7 526.5,426.5 527,427.4 527.5,428.3 528,429.2 528.5,430.1 529,431 529.5,431.8 530,432.6 530.5,433.3 531,433.8 531.5,434.2 532,434.5 532.5,434.6 533,434.6 533.5,434.4 534,434.3 534.5,434.1 535,433.9 535.5,433.7 536,433.6 536.5,433.5 537,433.6 537.5,434 538,434.8 538.5,435.8 539,437.1 539.5,438.4 540,439.8 540.5,441.2 541,442.4 541.5,443.5 542,444.3 542.5,444.9 543,445 543.5,444.9 544,444.7 544.5,444.3 545,443.8 545.5,443.3 546,442.7 546.5,442.1 547,441.4 547.5,440.8 548,440.2 548.5,439.6 549,439 549.5,438.5 550,438.1 550.5,437.9 551,437.7 551.5,437.7 552,437.7 552.5,437.7 553,437.8 553.5,437.8 554,437.9 554.5,437.9 555,438 555.5,438.1 556,438.2 556.5,438.3 557,438.4 557.5,438.5 558,438.6 558.5,438.8 559,438.9 559.5,439.3 560,439.7 560.5,440.2 561,440.7 561.5,441.3 562,441.9 562.5,442.5 563,443.1 563.5,443.7 564,444.1 564.5,444.5 565,444.8 565.5,445 566,445 566.5,445 567,444.9 567.5,444.8 568,444.6 568.5,444.5 569,444.3 569.5,444.1 570,443.8 570.5,443.6 571,443.3 571.5,443 572,442.6 572.5,442.3 573,442 573.5,441.5 574,440.8 574.5,439.9 575,438.7 575.5,437.4 576,436.1 576.5,434.7 577,433.3 577.5,431.9 578,430.6 578.5,429.5 579,428.6 579.5,427.8 580,427.4 580.5,427.3 581,427.4 581.5,427.5 582,427.7 582.5,427.9 583,428.2 583.5,428.5 584,428.9 584.5,429.2 585,429.5 585.5,429.8 586,430.1 586.5,430.3 587,430.5 587.5,430.7 588,430.8 588.5,430.9 589,431 589.5,431.2 590,431.3 590.5,431.4 591,431.4 591.5,431.5 592,431.6 592.5,431.7 593,431.8 593.5,431.9 594,432 594.5,432.1 595,432.2 595.5,432.3 596,432.4 596.5,432.5 597,432.7 597.5,432.8 598,433 598.5,433.2 599,433.4 599.5,433.7 600,434.2 600.5,434.8 601,435.6 601.5,436.4 602,437.3 602.5,438.1 603,438.8 603.5,439.4 604,439.7 604.5,439.8 605,439.8 605.5,439.8 606,439.7 606.5,439.6 607,439.5 607.5,439.4 608,439.3 608.5,439.2 609,439.1 609.5,438.9 610,438.7 610.5,438.6 611,438.4 611.5,438.2 612,438 612.5,437.8 613,437.5 613.5,437.1 614,436.6 614.5,435.9 615,435.2 615.5,434.5 616,433.9 616.5,433.3 617,432.9 617.5,432.6 618,432.5 618.5,432.6 619,432.9 619.5,433.2 620,433.6 620.5,434.1 621,434.5 621.5,434.9 622,435.2 622.5,435.5 623,435.6 623.5,435.5 624,435.4 624.5,435 625,434.7 625.5,434.2 626,433.8 626.5,433.4 627,433 627.5,432.7 628,432.5 628.5,432.5 629,433 629.5,433.8 630,434.9 630.5,436.1 631,437.5 631.5,438.8 632,440 632.5,441 633,441.7 633.5,441.9 634,441.8 634.5,441.7 635,441.5 635.5,441.2 636,440.9 636.5,440.6 637,440.3 637.5,440.1 638,439.9 638.5,439.8 639,439.8 639.5,439.9 640,440 640.5,440.2 641,440.4 641.5,440.7 642,440.9 642.5,441.2 643,441.4 643.5,441.6 644,441.8 644.5,441.9 645,441.9 645.5,441.8 646,441.6 646.5,441.3 647,440.9 647.5,440.4 648,439.9 648.5,439.3 649,438.7 649.5,438 650,437.4 650.5,436.8 651,436.2 651.5,435.7 652,435.3 652.5,434.9 653,434.7 653.5,434.6 654,434.4 654.5,434.3 655,434.2 655.5,434.1 656,434 656.5,434 657,433.9 657.5,433.8 658,433.7 658.5,433.7 659,433.6 659.5,433.6 660,433.5 660.5,433.5 661,433.5 661.5,433.5"/>
<rect x="99.5" y="42.3" width="562.1" height="451.9" fill="none" stroke="#000" stroke-width="2"/>
<path d="M106.4 494.2v5M106.4 42.3v5M141.1 494.2v9M141.1 42.3v9M175.8 494.2v5M175.8 42.3v5M210.5 494.2v5M210.5 42.3v5M245.2 494.2v9M245.2 42.3v9M279.9 494.2v5M279.9 42.3v5M314.6 494.2v5M314.6 42.3v5M349.3 494.2v9M349.3 42.3v9M384 494.2v5M384 42.3v5M418.7 494.2v5M418.7 42.3v5M453.4 494.2v9M453.4 42.3v9M488.1 494.2v5M488.1 42.3v5M522.8 494.2v5M522.8 42.3v5M557.5 494.2v9M557.5 42.3v9M592.2 494.2v5M592.2 42.3v5M626.9 494.2v5M626.9 42.3v5M661.6 494.2v9M661.6 42.3v9M99.5 493.2h-5M661.6 493.2h-5M99.5 435.4h-9M661.6 435.4h-9M99.5 377.6h-5M661.6 377.6h-5M99.5 319.8h-9M661.6 319.8h-9M99.5 262h-5M661.6 262h-5M99.5 204.2h-9M661.6 204.2h-9M99.5 146.4h-5M661.6 146.4h-5M99.5 88.6h-9M661.6 88.6h-9" stroke="#000" stroke-width="2" fill="none"/>
<g font-family="Liberation Sans, sans-serif" font-size="24" fill="#111">
<text x="84.5" y="95.8" text-anchor="end">10</text>
<text x="84.5" y="211.4" text-anchor="end">5</text>
<text x="84.5" y="327" text-anchor="end">0</text>
<text x="84.5" y="442.6" text-anchor="end">-5</text>
<text x="141.1" y="527.8" text-anchor="middle">2.5</text>
<text x="245.2" y="527.8" text-anchor="middle">5.0</text>
<text x="349.3" y="527.8" text-anchor="middle">7.5</text>
<text x="453.4" y="527.8" text-anchor="middle">10.0</text>
<text x="557.5" y="527.8" text-anchor="middle">12.5</text>
<text x="661.6" y="527.8" text-anchor="middle">15.0</text>
</g>
<text x="380.9" y="557" font-family="Liberation Sans, sans-serif" font-size="26" text-anchor="middle" fill="#111">r <tspan font-family="Liberation Serif, serif">(Å)</tspan></text>
<text transform="translate(50 267.5) rotate(-90)" font-family="Liberation Sans, sans-serif" font-size="26" text-anchor="middle" fill="#111">G(r) <tspan font-family="Liberation Serif, serif">(Å)</tspan></text>
<g fill="none" stroke="#000" stroke-width="5.4"><path d="M126.8 84.7C130.5 82 134.5 80.7 138.5 80.7C144.5 80.7 147.7 84 147.7 90.5V112.6"/><path d="M147.7 95.6C145.5 95.5 142 95.4 139.5 95.5C131.5 95.8 127.5 99.2 127.5 104C127.5 108.3 130.3 110.6 134.3 110.6C139 110.6 143.5 108.5 147.7 103.5"/></g><path d="M162.5 63.2C168.5 74 171.2 83 171.2 93.5C171.2 104 168.5 113.5 162.2 124.2H157.5C163 113.5 165.7 104 165.7 93.5C165.7 83 163 74 157.8 63.2Z" fill="#000"/>
<text x="425.5" y="81.8" font-family="Liberation Sans, sans-serif" font-size="28.2" fill="#000">Ho<tspan font-size="16.5" dy="9.7">2</tspan><tspan dy="-9.7">Zr</tspan><tspan font-size="16.5" dy="9.7">2</tspan><tspan dy="-9.7">O</tspan><tspan font-size="16.5" dy="9.7">7</tspan><tspan dy="-9.7"> - </tspan><tspan font-style="italic">Fm-3m</tspan></text>
<text x="425.5" y="123.3" font-family="Liberation Sans, sans-serif" font-size="28" fill="#000">R<tspan font-size="17" dy="9.7">w</tspan><tspan dy="-9.7">= 0.199</tspan></text>
<clipPath id="cb"><rect x="808" y="40.8" width="562" height="453.4"/></clipPath>
<g clip-path="url(#cb)" fill="#fff" stroke="#202098" stroke-width="1.25">
<circle cx="808" cy="365" r="5"/><circle cx="808.4" cy="367.1" r="5"/><circle cx="808.9" cy="369.1" r="5"/><circle cx="809.3" cy="370.9" r="5"/><circle cx="809.8" cy="372.6" r="5"/><circle cx="810.2" cy="374.1" r="5"/><circle cx="810.7" cy="375.6" r="5"/><circle cx="811.1" cy="376.9" r="5"/><circle cx="811.6" cy="378.1" r="5"/><circle cx="812" cy="379.1" r="5"/><circle cx="812.5" cy="380.1" r="5"/><circle cx="812.9" cy="381" r="5"/><circle cx="813.4" cy="381.8" r="5"/><circle cx="813.8" cy="382.5" r="5"/><circle cx="814.3" cy="383.1" r="5"/><circle cx="814.7" cy="383.7" r="5"/><circle cx="815.2" cy="384.1" r="5"/><circle cx="815.6" cy="384.5" r="5"/><circle cx="816.1" cy="384.9" r="5"/><circle cx="816.5" cy="385.2" r="5"/><circle cx="817" cy="385.4" r="5"/><circle cx="817.4" cy="385.6" r="5"/><circle cx="817.9" cy="385.7" r="5"/><circle cx="818.3" cy="385.8" r="5"/><circle cx="818.8" cy="385.9" r="5"/><circle cx="819.2" cy="385.9" r="5"/><circle cx="819.7" cy="386" r="5"/><circle cx="820.1" cy="386" r="5"/><circle cx="820.6" cy="386" r="5"/><circle cx="821" cy="386" r="5"/><circle cx="821.5" cy="385.4" r="5"/><circle cx="821.9" cy="383.9" r="5"/><circle cx="822.4" cy="381.5" r="5"/><circle cx="822.8" cy="378.4" r="5"/><circle cx="823.3" cy="374.6" r="5"/><circle cx="823.7" cy="370.1" r="5"/><circle cx="824.2" cy="365.1" r="5"/><circle cx="824.6" cy="359.7" r="5"/><circle cx="825.1" cy="353.9" r="5"/><circle cx="825.5" cy="347.7" r="5"/><circle cx="826" cy="341.4" r="5"/><circle cx="826.4" cy="334.8" r="5"/><circle cx="826.9" cy="328.2" r="5"/><circle cx="827.3" cy="321.6" r="5"/><circle cx="827.8" cy="315.1" r="5"/><circle cx="828.2" cy="308.7" r="5"/><circle cx="828.7" cy="302.6" r="5"/><circle cx="829.1" cy="296.7" r="5"/><circle cx="829.6" cy="291.3" r="5"/><circle cx="830" cy="286.1" r="5"/><circle cx="830.5" cy="280.5" r="5"/><circle cx="830.9" cy="274.3" r="5"/><circle cx="831.4" cy="267.9" r="5"/><circle cx="831.8" cy="261.2" r="5"/><circle cx="832.3" cy="254.4" r="5"/><circle cx="832.7" cy="247.6" r="5"/><circle cx="833.2" cy="240.9" r="5"/><circle cx="833.6" cy="234.5" r="5"/><circle cx="834" cy="228.5" r="5"/><circle cx="834.5" cy="222.9" r="5"/><circle cx="834.9" cy="217.9" r="5"/><circle cx="835.4" cy="213.7" r="5"/><circle cx="835.8" cy="210.2" r="5"/><circle cx="836.3" cy="207.8" r="5"/><circle cx="836.7" cy="206.4" r="5"/><circle cx="837.2" cy="206.2" r="5"/><circle cx="837.6" cy="207.6" r="5"/><circle cx="838.1" cy="210.3" r="5"/><circle cx="838.5" cy="214.3" r="5"/><circle cx="839" cy="219.2" r="5"/><circle cx="839.4" cy="224.7" r="5"/><circle cx="839.9" cy="230.7" r="5"/><circle cx="840.3" cy="236.9" r="5"/><circle cx="840.8" cy="243.1" r="5"/><circle cx="841.2" cy="249" r="5"/><circle cx="841.7" cy="254.4" r="5"/><circle cx="842.1" cy="260.5" r="5"/><circle cx="842.6" cy="267.2" r="5"/><circle cx="843" cy="273.9" r="5"/><circle cx="843.5" cy="280.2" r="5"/><circle cx="843.9" cy="285.5" r="5"/><circle cx="844.4" cy="289.3" r="5"/><circle cx="844.8" cy="292.3" r="5"/><circle cx="845.3" cy="295.1" r="5"/><circle cx="845.7" cy="297.7" r="5"/><circle cx="846.2" cy="300.1" r="5"/><circle cx="846.6" cy="302.3" r="5"/><circle cx="847.1" cy="304.2" r="5"/><circle cx="847.5" cy="305.8" r="5"/><circle cx="848" cy="307.2" r="5"/><circle cx="848.4" cy="308.2" r="5"/><circle cx="848.9" cy="309" r="5"/><circle cx="849.3" cy="309.5" r="5"/><circle cx="849.8" cy="310" r="5"/><circle cx="850.2" cy="310.4" r="5"/><circle cx="850.7" cy="310.8" r="5"/><circle cx="851.1" cy="311.1" r="5"/><circle cx="851.6" cy="311.4" r="5"/><circle cx="852" cy="311.6" r="5"/><circle cx="852.5" cy="311.9" r="5"/><circle cx="852.9" cy="312.1" r="5"/><circle cx="853.4" cy="312.3" r="5"/><circle cx="853.8" cy="312.6" r="5"/><circle cx="854.3" cy="312.8" r="5"/><circle cx="854.7" cy="313.1" r="5"/><circle cx="855.2" cy="313.5" r="5"/><circle cx="855.6" cy="313.9" r="5"/><circle cx="856.1" cy="314.3" r="5"/><circle cx="856.5" cy="314.9" r="5"/><circle cx="857" cy="315.5" r="5"/><circle cx="857.4" cy="316.2" r="5"/><circle cx="857.9" cy="317" r="5"/><circle cx="858.3" cy="317.8" r="5"/><circle cx="858.8" cy="318.7" r="5"/><circle cx="859.2" cy="319.7" r="5"/><circle cx="859.6" cy="320.7" r="5"/><circle cx="860.1" cy="321.8" r="5"/><circle cx="860.5" cy="322.9" r="5"/><circle cx="861" cy="324" r="5"/><circle cx="861.4" cy="325.2" r="5"/><circle cx="861.9" cy="326.4" r="5"/><circle cx="862.3" cy="327.8" r="5"/><circle cx="862.8" cy="329.2" r="5"/><circle cx="863.2" cy="330.8" r="5"/><circle cx="863.7" cy="332.5" r="5"/><circle cx="864.1" cy="334.3" r="5"/><circle cx="864.6" cy="336.1" r="5"/><circle cx="865" cy="338" r="5"/><circle cx="865.5" cy="339.9" r="5"/><circle cx="865.9" cy="341.9" r="5"/><circle cx="866.4" cy="343.9" r="5"/><circle cx="866.8" cy="345.9" r="5"/><circle cx="867.3" cy="348" r="5"/><circle cx="867.7" cy="350" r="5"/><circle cx="868.2" cy="351.9" r="5"/><circle cx="868.6" cy="353.9" r="5"/><circle cx="869.1" cy="355.8" r="5"/><circle cx="869.5" cy="357.6" r="5"/><circle cx="870" cy="359.4" r="5"/><circle cx="870.4" cy="361.1" r="5"/><circle cx="870.9" cy="362.7" r="5"/><circle cx="871.3" cy="364.4" r="5"/><circle cx="871.8" cy="366.3" r="5"/><circle cx="872.2" cy="368.2" r="5"/><circle cx="872.7" cy="370.1" r="5"/><circle cx="873.1" cy="372" r="5"/><circle cx="873.6" cy="374" r="5"/><circle cx="874" cy="375.8" r="5"/><circle cx="874.5" cy="377.6" r="5"/><circle cx="874.9" cy="379.3" r="5"/><circle cx="875.4" cy="380.9" r="5"/><circle cx="875.8" cy="382.3" r="5"/><circle cx="876.3" cy="383.5" r="5"/><circle cx="876.7" cy="384.4" r="5"/><circle cx="877.2" cy="385.2" r="5"/><circle cx="877.6" cy="385.6" r="5"/><circle cx="878.1" cy="385.8" r="5"/><circle cx="878.5" cy="385.5" r="5"/><circle cx="879" cy="384.8" r="5"/><circle cx="879.4" cy="383.6" r="5"/><circle cx="879.9" cy="382" r="5"/><circle cx="880.3" cy="380" r="5"/><circle cx="880.8" cy="377.7" r="5"/><circle cx="881.2" cy="374.9" r="5"/><circle cx="881.7" cy="371.9" r="5"/><circle cx="882.1" cy="368.6" r="5"/><circle cx="882.6" cy="365.1" r="5"/><circle cx="883" cy="361.3" r="5"/><circle cx="883.5" cy="357.3" r="5"/><circle cx="883.9" cy="353.2" r="5"/><circle cx="884.4" cy="348.9" r="5"/><circle cx="884.8" cy="344.5" r="5"/><circle cx="885.2" cy="340" r="5"/><circle cx="885.7" cy="335.5" r="5"/><circle cx="886.1" cy="330.9" r="5"/><circle cx="886.6" cy="326.4" r="5"/><circle cx="887" cy="321.9" r="5"/><circle cx="887.5" cy="317.4" r="5"/><circle cx="887.9" cy="313" r="5"/><circle cx="888.4" cy="308.8" r="5"/><circle cx="888.8" cy="304.7" r="5"/><circle cx="889.3" cy="300.7" r="5"/><circle cx="889.7" cy="297" r="5"/><circle cx="890.2" cy="293.5" r="5"/><circle cx="890.6" cy="290.3" r="5"/><circle cx="891.1" cy="287.3" r="5"/><circle cx="891.5" cy="284.7" r="5"/><circle cx="892" cy="282.4" r="5"/><circle cx="892.4" cy="280.5" r="5"/><circle cx="892.9" cy="279" r="5"/><circle cx="893.3" cy="277.9" r="5"/><circle cx="893.8" cy="277.3" r="5"/><circle cx="894.2" cy="277.1" r="5"/><circle cx="894.7" cy="277.5" r="5"/><circle cx="895.1" cy="278.4" r="5"/><circle cx="895.6" cy="279.7" r="5"/><circle cx="896" cy="281.5" r="5"/><circle cx="896.5" cy="283.6" r="5"/><circle cx="896.9" cy="286" r="5"/><circle cx="897.4" cy="288.6" r="5"/><circle cx="897.8" cy="291.5" r="5"/><circle cx="898.3" cy="294.4" r="5"/><circle cx="898.7" cy="297.5" r="5"/><circle cx="899.2" cy="300.6" r="5"/><circle cx="899.6" cy="303.8" r="5"/><circle cx="900.1" cy="306.8" r="5"/><circle cx="900.5" cy="309.8" r="5"/><circle cx="901" cy="312.6" r="5"/><circle cx="901.4" cy="315.2" r="5"/><circle cx="901.9" cy="317.5" r="5"/><circle cx="902.3" cy="319.5" r="5"/><circle cx="902.8" cy="321.2" r="5"/><circle cx="903.2" cy="322.4" r="5"/><circle cx="903.7" cy="323.2" r="5"/><circle cx="904.1" cy="323.5" r="5"/><circle cx="904.6" cy="323.4" r="5"/><circle cx="905" cy="322.9" r="5"/><circle cx="905.5" cy="322.2" r="5"/><circle cx="905.9" cy="321.3" r="5"/><circle cx="906.4" cy="320.1" r="5"/><circle cx="906.8" cy="318.7" r="5"/><circle cx="907.3" cy="317.1" r="5"/><circle cx="907.7" cy="315.2" r="5"/><circle cx="908.2" cy="313.2" r="5"/><circle cx="908.6" cy="311" r="5"/><circle cx="909.1" cy="308.6" r="5"/><circle cx="909.5" cy="306.1" r="5"/><circle cx="910" cy="303.4" r="5"/><circle cx="910.4" cy="300.7" r="5"/><circle cx="910.8" cy="297.7" r="5"/><circle cx="911.3" cy="294.7" r="5"/><circle cx="911.7" cy="291.6" r="5"/><circle cx="912.2" cy="288.4" r="5"/><circle cx="912.6" cy="285.2" r="5"/><circle cx="913.1" cy="281.9" r="5"/><circle cx="913.5" cy="278.6" r="5"/><circle cx="914" cy="275.2" r="5"/><circle cx="914.4" cy="271.8" r="5"/><circle cx="914.9" cy="268.4" r="5"/><circle cx="915.3" cy="265" r="5"/><circle cx="915.8" cy="261.7" r="5"/><circle cx="916.2" cy="258.4" r="5"/><circle cx="916.7" cy="255.1" r="5"/><circle cx="917.1" cy="251.9" r="5"/><circle cx="917.6" cy="248.7" r="5"/><circle cx="918" cy="245.7" r="5"/><circle cx="918.5" cy="242.7" r="5"/><circle cx="918.9" cy="239.9" r="5"/><circle cx="919.4" cy="237.2" r="5"/><circle cx="919.8" cy="234.6" r="5"/><circle cx="920.3" cy="232.1" r="5"/><circle cx="920.7" cy="229.8" r="5"/><circle cx="921.2" cy="227.7" r="5"/><circle cx="921.6" cy="225.8" r="5"/><circle cx="922.1" cy="224.1" r="5"/><circle cx="922.5" cy="222.6" r="5"/><circle cx="923" cy="221.3" r="5"/><circle cx="923.4" cy="220.2" r="5"/><circle cx="923.9" cy="219.4" r="5"/><circle cx="924.3" cy="218.9" r="5"/><circle cx="924.8" cy="218.6" r="5"/><circle cx="925.2" cy="218.7" r="5"/><circle cx="925.7" cy="219" r="5"/><circle cx="926.1" cy="219.8" r="5"/><circle cx="926.6" cy="220.8" r="5"/><circle cx="927" cy="222.2" r="5"/><circle cx="927.5" cy="223.9" r="5"/><circle cx="927.9" cy="225.9" r="5"/><circle cx="928.4" cy="228.2" r="5"/><circle cx="928.8" cy="230.7" r="5"/><circle cx="929.3" cy="233.6" r="5"/><circle cx="929.7" cy="236.6" r="5"/><circle cx="930.2" cy="239.9" r="5"/><circle cx="930.6" cy="243.5" r="5"/><circle cx="931.1" cy="247.2" r="5"/><circle cx="931.5" cy="251.2" r="5"/><circle cx="932" cy="255.3" r="5"/><circle cx="932.4" cy="259.6" r="5"/><circle cx="932.9" cy="264.1" r="5"/><circle cx="933.3" cy="268.7" r="5"/><circle cx="933.8" cy="273.5" r="5"/><circle cx="934.2" cy="278.4" r="5"/><circle cx="934.7" cy="283.4" r="5"/><circle cx="935.1" cy="288.5" r="5"/><circle cx="935.5" cy="293.7" r="5"/><circle cx="936" cy="299" r="5"/><circle cx="936.4" cy="304.3" r="5"/><circle cx="936.9" cy="309.7" r="5"/><circle cx="937.3" cy="315.2" r="5"/><circle cx="937.8" cy="320.7" r="5"/><circle cx="938.2" cy="326.2" r="5"/><circle cx="938.7" cy="331.7" r="5"/><circle cx="939.1" cy="337.1" r="5"/><circle cx="939.6" cy="342.6" r="5"/><circle cx="940" cy="348.1" r="5"/><circle cx="940.5" cy="353.5" r="5"/><circle cx="940.9" cy="358.8" r="5"/><circle cx="941.4" cy="364.1" r="5"/><circle cx="941.8" cy="369.3" r="5"/><circle cx="942.3" cy="374.4" r="5"/><circle cx="942.7" cy="379.4" r="5"/><circle cx="943.2" cy="384.3" r="5"/><circle cx="943.6" cy="389" r="5"/><circle cx="944.1" cy="393.6" r="5"/><circle cx="944.5" cy="398.1" r="5"/><circle cx="945" cy="402.4" r="5"/><circle cx="945.4" cy="406.5" r="5"/><circle cx="945.9" cy="410.4" r="5"/><circle cx="946.3" cy="414.1" r="5"/><circle cx="946.8" cy="417.6" r="5"/><circle cx="947.2" cy="420.9" r="5"/><circle cx="947.7" cy="424" r="5"/><circle cx="948.1" cy="426.8" r="5"/><circle cx="948.6" cy="429.3" r="5"/><circle cx="949" cy="431.5" r="5"/><circle cx="949.5" cy="433.5" r="5"/><circle cx="949.9" cy="435.2" r="5"/><circle cx="950.4" cy="436.5" r="5"/><circle cx="950.8" cy="437.5" r="5"/><circle cx="951.3" cy="438.2" r="5"/><circle cx="951.7" cy="438.6" r="5"/><circle cx="952.2" cy="438.6" r="5"/><circle cx="952.6" cy="438.2" r="5"/><circle cx="953.1" cy="437.6" r="5"/><circle cx="953.5" cy="436.7" r="5"/><circle cx="954" cy="435.6" r="5"/><circle cx="954.4" cy="434.2" r="5"/><circle cx="954.9" cy="432.5" r="5"/><circle cx="955.3" cy="430.6" r="5"/><circle cx="955.8" cy="428.5" r="5"/><circle cx="956.2" cy="426.1" r="5"/><circle cx="956.7" cy="423.6" r="5"/><circle cx="957.1" cy="420.8" r="5"/><circle cx="957.6" cy="417.9" r="5"/><circle cx="958" cy="414.8" r="5"/><circle cx="958.5" cy="411.6" r="5"/><circle cx="958.9" cy="408.2" r="5"/><circle cx="959.4" cy="404.6" r="5"/><circle cx="959.8" cy="401" r="5"/><circle cx="960.3" cy="397.2" r="5"/><circle cx="960.7" cy="393.3" r="5"/><circle cx="961.1" cy="389.3" r="5"/><circle cx="961.6" cy="385.3" r="5"/><circle cx="962" cy="381.2" r="5"/><circle cx="962.5" cy="377" r="5"/><circle cx="962.9" cy="372.7" r="5"/><circle cx="963.4" cy="368.4" r="5"/><circle cx="963.8" cy="364.1" r="5"/><circle cx="964.3" cy="359.8" r="5"/><circle cx="964.7" cy="355.5" r="5"/><circle cx="965.2" cy="351.1" r="5"/><circle cx="965.6" cy="346.8" r="5"/><circle cx="966.1" cy="342.6" r="5"/><circle cx="966.5" cy="338.3" r="5"/><circle cx="967" cy="334.1" r="5"/><circle cx="967.4" cy="330" r="5"/><circle cx="967.9" cy="325.9" r="5"/><circle cx="968.3" cy="321.9" r="5"/><circle cx="968.8" cy="318" r="5"/><circle cx="969.2" cy="314.2" r="5"/><circle cx="969.7" cy="310.6" r="5"/><circle cx="970.1" cy="307" r="5"/><circle cx="970.6" cy="303.6" r="5"/><circle cx="971" cy="300.3" r="5"/><circle cx="971.5" cy="297.2" r="5"/><circle cx="971.9" cy="294.3" r="5"/><circle cx="972.4" cy="291.5" r="5"/><circle cx="972.8" cy="289" r="5"/><circle cx="973.3" cy="286.6" r="5"/><circle cx="973.7" cy="284.4" r="5"/><circle cx="974.2" cy="282.5" r="5"/><circle cx="974.6" cy="280.8" r="5"/><circle cx="975.1" cy="279.4" r="5"/><circle cx="975.5" cy="278.2" r="5"/><circle cx="976" cy="277.3" r="5"/><circle cx="976.4" cy="276.6" r="5"/><circle cx="976.9" cy="276.3" r="5"/><circle cx="977.3" cy="276.2" r="5"/><circle cx="977.8" cy="276.4" r="5"/><circle cx="978.2" cy="276.7" r="5"/><circle cx="978.7" cy="277.3" r="5"/><circle cx="979.1" cy="278" r="5"/><circle cx="979.6" cy="278.9" r="5"/><circle cx="980" cy="280" r="5"/><circle cx="980.5" cy="281.2" r="5"/><circle cx="980.9" cy="282.5" r="5"/><circle cx="981.4" cy="283.9" r="5"/><circle cx="981.8" cy="285.5" r="5"/><circle cx="982.3" cy="287.2" r="5"/><circle cx="982.7" cy="288.9" r="5"/><circle cx="983.2" cy="290.8" r="5"/><circle cx="983.6" cy="292.7" r="5"/><circle cx="984.1" cy="294.6" r="5"/><circle cx="984.5" cy="296.7" r="5"/><circle cx="985" cy="298.7" r="5"/><circle cx="985.4" cy="300.8" r="5"/><circle cx="985.9" cy="302.9" r="5"/><circle cx="986.3" cy="305" r="5"/><circle cx="986.7" cy="307.2" r="5"/><circle cx="987.2" cy="309.3" r="5"/><circle cx="987.6" cy="311.3" r="5"/><circle cx="988.1" cy="313.4" r="5"/><circle cx="988.5" cy="315.4" r="5"/><circle cx="989" cy="317.4" r="5"/><circle cx="989.4" cy="319.3" r="5"/><circle cx="989.9" cy="321.1" r="5"/><circle cx="990.3" cy="322.8" r="5"/><circle cx="990.8" cy="324.5" r="5"/><circle cx="991.2" cy="326" r="5"/><circle cx="991.7" cy="327.4" r="5"/><circle cx="992.1" cy="328.7" r="5"/><circle cx="992.6" cy="329.9" r="5"/><circle cx="993" cy="330.9" r="5"/><circle cx="993.5" cy="331.7" r="5"/><circle cx="993.9" cy="332.4" r="5"/><circle cx="994.4" cy="332.9" r="5"/><circle cx="994.8" cy="333.3" r="5"/><circle cx="995.3" cy="333.4" r="5"/><circle cx="995.7" cy="333.3" r="5"/><circle cx="996.2" cy="332.9" r="5"/><circle cx="996.6" cy="332.3" r="5"/><circle cx="997.1" cy="331.4" r="5"/><circle cx="997.5" cy="330.4" r="5"/><circle cx="998" cy="329.1" r="5"/><circle cx="998.4" cy="327.6" r="5"/><circle cx="998.9" cy="325.9" r="5"/><circle cx="999.3" cy="324.1" r="5"/><circle cx="999.8" cy="322.1" r="5"/><circle cx="1000.2" cy="320" r="5"/><circle cx="1000.7" cy="317.7" r="5"/><circle cx="1001.1" cy="315.4" r="5"/><circle cx="1001.6" cy="312.9" r="5"/><circle cx="1002" cy="310.4" r="5"/><circle cx="1002.5" cy="307.7" r="5"/><circle cx="1002.9" cy="305.1" r="5"/><circle cx="1003.4" cy="302.3" r="5"/><circle cx="1003.8" cy="299.6" r="5"/><circle cx="1004.3" cy="296.8" r="5"/><circle cx="1004.7" cy="294" r="5"/><circle cx="1005.2" cy="291.3" r="5"/><circle cx="1005.6" cy="288.5" r="5"/><circle cx="1006.1" cy="285.8" r="5"/><circle cx="1006.5" cy="283.2" r="5"/><circle cx="1007" cy="280.6" r="5"/><circle cx="1007.4" cy="278.1" r="5"/><circle cx="1007.9" cy="275.7" r="5"/><circle cx="1008.3" cy="273.4" r="5"/><circle cx="1008.8" cy="271.2" r="5"/><circle cx="1009.2" cy="269.2" r="5"/><circle cx="1009.7" cy="267.3" r="5"/><circle cx="1010.1" cy="265.5" r="5"/><circle cx="1010.6" cy="264" r="5"/><circle cx="1011" cy="262.6" r="5"/><circle cx="1011.5" cy="261.4" r="5"/><circle cx="1011.9" cy="260.4" r="5"/><circle cx="1012.3" cy="259.7" r="5"/><circle cx="1012.8" cy="259.2" r="5"/><circle cx="1013.2" cy="259" r="5"/><circle cx="1013.7" cy="259" r="5"/><circle cx="1014.1" cy="259.3" r="5"/><circle cx="1014.6" cy="259.7" r="5"/><circle cx="1015" cy="260.4" r="5"/><circle cx="1015.5" cy="261.2" r="5"/><circle cx="1015.9" cy="262.2" r="5"/><circle cx="1016.4" cy="263.3" r="5"/><circle cx="1016.8" cy="264.7" r="5"/><circle cx="1017.3" cy="266.2" r="5"/><circle cx="1017.7" cy="267.8" r="5"/><circle cx="1018.2" cy="269.6" r="5"/><circle cx="1018.6" cy="271.6" r="5"/><circle cx="1019.1" cy="273.6" r="5"/><circle cx="1019.5" cy="275.8" r="5"/><circle cx="1020" cy="278.2" r="5"/><circle cx="1020.4" cy="280.6" r="5"/><circle cx="1020.9" cy="283.1" r="5"/><circle cx="1021.3" cy="285.8" r="5"/><circle cx="1021.8" cy="288.5" r="5"/><circle cx="1022.2" cy="291.3" r="5"/><circle cx="1022.7" cy="294.2" r="5"/><circle cx="1023.1" cy="297.2" r="5"/><circle cx="1023.6" cy="300.3" r="5"/><circle cx="1024" cy="303.4" r="5"/><circle cx="1024.5" cy="306.5" r="5"/><circle cx="1024.9" cy="309.8" r="5"/><circle cx="1025.4" cy="313" r="5"/><circle cx="1025.8" cy="316.3" r="5"/><circle cx="1026.3" cy="319.6" r="5"/><circle cx="1026.7" cy="323" r="5"/><circle cx="1027.2" cy="326.3" r="5"/><circle cx="1027.6" cy="329.7" r="5"/><circle cx="1028.1" cy="333.1" r="5"/><circle cx="1028.5" cy="336.4" r="5"/><circle cx="1029" cy="339.8" r="5"/><circle cx="1029.4" cy="343.1" r="5"/><circle cx="1029.9" cy="346.5" r="5"/><circle cx="1030.3" cy="349.8" r="5"/><circle cx="1030.8" cy="353" r="5"/><circle cx="1031.2" cy="356.2" r="5"/><circle cx="1031.7" cy="359.4" r="5"/><circle cx="1032.1" cy="362.5" r="5"/><circle cx="1032.6" cy="365.5" r="5"/><circle cx="1033" cy="368.5" r="5"/><circle cx="1033.5" cy="371.4" r="5"/><circle cx="1033.9" cy="374.2" r="5"/><circle cx="1034.4" cy="376.9" r="5"/><circle cx="1034.8" cy="379.6" r="5"/><circle cx="1035.3" cy="382.1" r="5"/><circle cx="1035.7" cy="384.5" r="5"/><circle cx="1036.2" cy="386.8" r="5"/><circle cx="1036.6" cy="389" r="5"/><circle cx="1037.1" cy="391.1" r="5"/><circle cx="1037.5" cy="393" r="5"/><circle cx="1037.9" cy="394.8" r="5"/><circle cx="1038.4" cy="396.4" r="5"/><circle cx="1038.8" cy="397.9" r="5"/><circle cx="1039.3" cy="399.2" r="5"/><circle cx="1039.7" cy="400.3" r="5"/><circle cx="1040.2" cy="401.3" r="5"/><circle cx="1040.6" cy="402.1" r="5"/><circle cx="1041.1" cy="402.7" r="5"/><circle cx="1041.5" cy="403.1" r="5"/><circle cx="1042" cy="403.4" r="5"/><circle cx="1042.4" cy="403.4" r="5"/><circle cx="1042.9" cy="402.9" r="5"/><circle cx="1043.3" cy="402.1" r="5"/><circle cx="1043.8" cy="400.9" r="5"/><circle cx="1044.2" cy="399.3" r="5"/><circle cx="1044.7" cy="397.3" r="5"/><circle cx="1045.1" cy="395" r="5"/><circle cx="1045.6" cy="392.4" r="5"/><circle cx="1046" cy="389.5" r="5"/><circle cx="1046.5" cy="386.3" r="5"/><circle cx="1046.9" cy="382.9" r="5"/><circle cx="1047.4" cy="379.2" r="5"/><circle cx="1047.8" cy="375.3" r="5"/><circle cx="1048.3" cy="371.2" r="5"/><circle cx="1048.7" cy="366.9" r="5"/><circle cx="1049.2" cy="362.4" r="5"/><circle cx="1049.6" cy="357.8" r="5"/><circle cx="1050.1" cy="353.1" r="5"/><circle cx="1050.5" cy="348.3" r="5"/><circle cx="1051" cy="343.4" r="5"/><circle cx="1051.4" cy="338.5" r="5"/><circle cx="1051.9" cy="333.5" r="5"/><circle cx="1052.3" cy="328.5" r="5"/><circle cx="1052.8" cy="323.4" r="5"/><circle cx="1053.2" cy="318.4" r="5"/><circle cx="1053.7" cy="313.5" r="5"/><circle cx="1054.1" cy="308.6" r="5"/><circle cx="1054.6" cy="303.7" r="5"/><circle cx="1055" cy="299" r="5"/><circle cx="1055.5" cy="294.4" r="5"/><circle cx="1055.9" cy="289.9" r="5"/><circle cx="1056.4" cy="285.6" r="5"/><circle cx="1056.8" cy="281.4" r="5"/><circle cx="1057.3" cy="277.5" r="5"/><circle cx="1057.7" cy="273.7" r="5"/><circle cx="1058.2" cy="270.2" r="5"/><circle cx="1058.6" cy="267" r="5"/><circle cx="1059.1" cy="264" r="5"/><circle cx="1059.5" cy="261.3" r="5"/><circle cx="1060" cy="258.9" r="5"/><circle cx="1060.4" cy="256.9" r="5"/><circle cx="1060.9" cy="255.2" r="5"/><circle cx="1061.3" cy="253.9" r="5"/><circle cx="1061.8" cy="253" r="5"/><circle cx="1062.2" cy="252.5" r="5"/><circle cx="1062.7" cy="252.4" r="5"/><circle cx="1063.1" cy="252.8" r="5"/><circle cx="1063.5" cy="253.5" r="5"/><circle cx="1064" cy="254.6" r="5"/><circle cx="1064.4" cy="256" r="5"/><circle cx="1064.9" cy="257.6" r="5"/><circle cx="1065.3" cy="259.3" r="5"/><circle cx="1065.8" cy="261.2" r="5"/><circle cx="1066.2" cy="263.2" r="5"/><circle cx="1066.7" cy="265.2" r="5"/><circle cx="1067.1" cy="267.1" r="5"/><circle cx="1067.6" cy="269" r="5"/><circle cx="1068" cy="270.7" r="5"/><circle cx="1068.5" cy="272.3" r="5"/><circle cx="1068.9" cy="273.7" r="5"/><circle cx="1069.4" cy="275.2" r="5"/><circle cx="1069.8" cy="276.8" r="5"/><circle cx="1070.3" cy="278.4" r="5"/><circle cx="1070.7" cy="280" r="5"/><circle cx="1071.2" cy="281.6" r="5"/><circle cx="1071.6" cy="283.2" r="5"/><circle cx="1072.1" cy="284.8" r="5"/><circle cx="1072.5" cy="286.3" r="5"/><circle cx="1073" cy="287.7" r="5"/><circle cx="1073.4" cy="289" r="5"/><circle cx="1073.9" cy="290.1" r="5"/><circle cx="1074.3" cy="291.1" r="5"/><circle cx="1074.8" cy="291.9" r="5"/><circle cx="1075.2" cy="292.6" r="5"/><circle cx="1075.7" cy="292.9" r="5"/><circle cx="1076.1" cy="293.2" r="5"/><circle cx="1076.6" cy="293.3" r="5"/><circle cx="1077" cy="293.5" r="5"/><circle cx="1077.5" cy="293.6" r="5"/><circle cx="1077.9" cy="293.8" r="5"/><circle cx="1078.4" cy="293.9" r="5"/><circle cx="1078.8" cy="293.9" r="5"/><circle cx="1079.3" cy="294" r="5"/><circle cx="1079.7" cy="294.1" r="5"/><circle cx="1080.2" cy="294.2" r="5"/><circle cx="1080.6" cy="294.2" r="5"/><circle cx="1081.1" cy="294.3" r="5"/><circle cx="1081.5" cy="294.3" r="5"/><circle cx="1082" cy="294.4" r="5"/><circle cx="1082.4" cy="294.5" r="5"/><circle cx="1082.9" cy="294.5" r="5"/><circle cx="1083.3" cy="294.6" r="5"/><circle cx="1083.8" cy="294.7" r="5"/><circle cx="1084.2" cy="294.9" r="5"/><circle cx="1084.7" cy="295" r="5"/><circle cx="1085.1" cy="295.1" r="5"/><circle cx="1085.6" cy="295.3" r="5"/><circle cx="1086" cy="295.5" r="5"/><circle cx="1086.5" cy="295.8" r="5"/><circle cx="1086.9" cy="296.3" r="5"/><circle cx="1087.4" cy="297" r="5"/><circle cx="1087.8" cy="297.8" r="5"/><circle cx="1088.3" cy="298.7" r="5"/><circle cx="1088.7" cy="299.7" r="5"/><circle cx="1089.1" cy="300.9" r="5"/><circle cx="1089.6" cy="302.1" r="5"/><circle cx="1090" cy="303.3" r="5"/><circle cx="1090.5" cy="304.7" r="5"/><circle cx="1090.9" cy="306" r="5"/><circle cx="1091.4" cy="307.4" r="5"/><circle cx="1091.8" cy="308.8" r="5"/><circle cx="1092.3" cy="310.2" r="5"/><circle cx="1092.7" cy="311.8" r="5"/><circle cx="1093.2" cy="313.5" r="5"/><circle cx="1093.6" cy="315.4" r="5"/><circle cx="1094.1" cy="317.4" r="5"/><circle cx="1094.5" cy="319.6" r="5"/><circle cx="1095" cy="321.8" r="5"/><circle cx="1095.4" cy="324.1" r="5"/><circle cx="1095.9" cy="326.5" r="5"/><circle cx="1096.3" cy="328.9" r="5"/><circle cx="1096.8" cy="331.3" r="5"/><circle cx="1097.2" cy="333.7" r="5"/><circle cx="1097.7" cy="336.2" r="5"/><circle cx="1098.1" cy="338.5" r="5"/><circle cx="1098.6" cy="340.9" r="5"/><circle cx="1099" cy="343.1" r="5"/><circle cx="1099.5" cy="345.3" r="5"/><circle cx="1099.9" cy="347.6" r="5"/><circle cx="1100.4" cy="350" r="5"/><circle cx="1100.8" cy="352.6" r="5"/><circle cx="1101.3" cy="355.2" r="5"/><circle cx="1101.7" cy="357.8" r="5"/><circle cx="1102.2" cy="360.6" r="5"/><circle cx="1102.6" cy="363.4" r="5"/><circle cx="1103.1" cy="366.2" r="5"/><circle cx="1103.5" cy="369.1" r="5"/><circle cx="1104" cy="372" r="5"/><circle cx="1104.4" cy="374.9" r="5"/><circle cx="1104.9" cy="377.8" r="5"/><circle cx="1105.3" cy="380.7" r="5"/><circle cx="1105.8" cy="383.6" r="5"/><circle cx="1106.2" cy="386.4" r="5"/><circle cx="1106.7" cy="389.2" r="5"/><circle cx="1107.1" cy="391.9" r="5"/><circle cx="1107.6" cy="394.5" r="5"/><circle cx="1108" cy="397.1" r="5"/><circle cx="1108.5" cy="399.5" r="5"/><circle cx="1108.9" cy="401.9" r="5"/><circle cx="1109.4" cy="404.1" r="5"/><circle cx="1109.8" cy="406.2" r="5"/><circle cx="1110.3" cy="408.2" r="5"/><circle cx="1110.7" cy="410" r="5"/><circle cx="1111.2" cy="411.7" r="5"/><circle cx="1111.6" cy="413.2" r="5"/><circle cx="1112.1" cy="414.4" r="5"/><circle cx="1112.5" cy="415.5" r="5"/><circle cx="1113" cy="416.4" r="5"/><circle cx="1113.4" cy="417.1" r="5"/><circle cx="1113.9" cy="417.5" r="5"/><circle cx="1114.3" cy="417.7" r="5"/><circle cx="1114.7" cy="417.6" r="5"/><circle cx="1115.2" cy="417.4" r="5"/><circle cx="1115.6" cy="417" r="5"/><circle cx="1116.1" cy="416.4" r="5"/><circle cx="1116.5" cy="415.6" r="5"/><circle cx="1117" cy="414.6" r="5"/><circle cx="1117.4" cy="413.5" r="5"/><circle cx="1117.9" cy="412.2" r="5"/><circle cx="1118.3" cy="410.8" r="5"/><circle cx="1118.8" cy="409.2" r="5"/><circle cx="1119.2" cy="407.4" r="5"/><circle cx="1119.7" cy="405.5" r="5"/><circle cx="1120.1" cy="403.5" r="5"/><circle cx="1120.6" cy="401.3" r="5"/><circle cx="1121" cy="399" r="5"/><circle cx="1121.5" cy="396.6" r="5"/><circle cx="1121.9" cy="394" r="5"/><circle cx="1122.4" cy="391.3" r="5"/><circle cx="1122.8" cy="388.5" r="5"/><circle cx="1123.3" cy="385.6" r="5"/><circle cx="1123.7" cy="382.6" r="5"/><circle cx="1124.2" cy="379.5" r="5"/><circle cx="1124.6" cy="376.3" r="5"/><circle cx="1125.1" cy="373" r="5"/><circle cx="1125.5" cy="369.7" r="5"/><circle cx="1126" cy="366.2" r="5"/><circle cx="1126.4" cy="362.7" r="5"/><circle cx="1126.9" cy="359.1" r="5"/><circle cx="1127.3" cy="355.4" r="5"/><circle cx="1127.8" cy="351.6" r="5"/><circle cx="1128.2" cy="347.8" r="5"/><circle cx="1128.7" cy="344" r="5"/><circle cx="1129.1" cy="340.1" r="5"/><circle cx="1129.6" cy="336.1" r="5"/><circle cx="1130" cy="332.1" r="5"/><circle cx="1130.5" cy="328.1" r="5"/><circle cx="1130.9" cy="324" r="5"/><circle cx="1131.4" cy="319.9" r="5"/><circle cx="1131.8" cy="315.8" r="5"/><circle cx="1132.3" cy="311.6" r="5"/><circle cx="1132.7" cy="307.5" r="5"/><circle cx="1133.2" cy="303.3" r="5"/><circle cx="1133.6" cy="299.1" r="5"/><circle cx="1134.1" cy="294.9" r="5"/><circle cx="1134.5" cy="290.8" r="5"/><circle cx="1135" cy="286.6" r="5"/><circle cx="1135.4" cy="282.4" r="5"/><circle cx="1135.9" cy="278.3" r="5"/><circle cx="1136.3" cy="274.2" r="5"/><circle cx="1136.8" cy="270.1" r="5"/><circle cx="1137.2" cy="266" r="5"/><circle cx="1137.7" cy="262" r="5"/><circle cx="1138.1" cy="258" r="5"/><circle cx="1138.6" cy="254" r="5"/><circle cx="1139" cy="250.1" r="5"/><circle cx="1139.5" cy="246.2" r="5"/><circle cx="1139.9" cy="242.4" r="5"/><circle cx="1140.3" cy="238.7" r="5"/><circle cx="1140.8" cy="235" r="5"/><circle cx="1141.2" cy="231.4" r="5"/><circle cx="1141.7" cy="227.9" r="5"/><circle cx="1142.1" cy="224.5" r="5"/><circle cx="1142.6" cy="221.1" r="5"/><circle cx="1143" cy="217.8" r="5"/><circle cx="1143.5" cy="214.6" r="5"/><circle cx="1143.9" cy="211.5" r="5"/><circle cx="1144.4" cy="208.5" r="5"/><circle cx="1144.8" cy="205.6" r="5"/><circle cx="1145.3" cy="202.9" r="5"/><circle cx="1145.7" cy="200.2" r="5"/><circle cx="1146.2" cy="197.7" r="5"/><circle cx="1146.6" cy="195.3" r="5"/><circle cx="1147.1" cy="193" r="5"/><circle cx="1147.5" cy="190.8" r="5"/><circle cx="1148" cy="188.8" r="5"/><circle cx="1148.4" cy="186.9" r="5"/><circle cx="1148.9" cy="185.2" r="5"/><circle cx="1149.3" cy="183.6" r="5"/><circle cx="1149.8" cy="182.1" r="5"/><circle cx="1150.2" cy="180.9" r="5"/><circle cx="1150.7" cy="179.8" r="5"/><circle cx="1151.1" cy="178.8" r="5"/><circle cx="1151.6" cy="178.1" r="5"/><circle cx="1152" cy="177.5" r="5"/><circle cx="1152.5" cy="177.1" r="5"/><circle cx="1152.9" cy="176.8" r="5"/><circle cx="1153.4" cy="176.8" r="5"/><circle cx="1153.8" cy="177.1" r="5"/><circle cx="1154.3" cy="177.8" r="5"/><circle cx="1154.7" cy="178.8" r="5"/><circle cx="1155.2" cy="180.1" r="5"/><circle cx="1155.6" cy="181.7" r="5"/><circle cx="1156.1" cy="183.6" r="5"/><circle cx="1156.5" cy="185.9" r="5"/><circle cx="1157" cy="188.4" r="5"/><circle cx="1157.4" cy="191.2" r="5"/><circle cx="1157.9" cy="194.2" r="5"/><circle cx="1158.3" cy="197.5" r="5"/><circle cx="1158.8" cy="201" r="5"/><circle cx="1159.2" cy="204.8" r="5"/><circle cx="1159.7" cy="208.8" r="5"/><circle cx="1160.1" cy="213" r="5"/><circle cx="1160.6" cy="217.3" r="5"/><circle cx="1161" cy="221.9" r="5"/><circle cx="1161.5" cy="226.7" r="5"/><circle cx="1161.9" cy="231.6" r="5"/><circle cx="1162.4" cy="236.6" r="5"/><circle cx="1162.8" cy="241.8" r="5"/><circle cx="1163.3" cy="247.1" r="5"/><circle cx="1163.7" cy="252.6" r="5"/><circle cx="1164.2" cy="258.1" r="5"/><circle cx="1164.6" cy="263.8" r="5"/><circle cx="1165" cy="269.5" r="5"/><circle cx="1165.5" cy="275.3" r="5"/><circle cx="1165.9" cy="281.2" r="5"/><circle cx="1166.4" cy="287.1" r="5"/><circle cx="1166.8" cy="293.1" r="5"/><circle cx="1167.3" cy="299.1" r="5"/><circle cx="1167.7" cy="305.1" r="5"/><circle cx="1168.2" cy="311.1" r="5"/><circle cx="1168.6" cy="317.1" r="5"/><circle cx="1169.1" cy="323.1" r="5"/><circle cx="1169.5" cy="329.1" r="5"/><circle cx="1170" cy="335" r="5"/><circle cx="1170.4" cy="340.9" r="5"/><circle cx="1170.9" cy="346.8" r="5"/><circle cx="1171.3" cy="352.6" r="5"/><circle cx="1171.8" cy="358.3" r="5"/><circle cx="1172.2" cy="363.9" r="5"/><circle cx="1172.7" cy="369.4" r="5"/><circle cx="1173.1" cy="374.8" r="5"/><circle cx="1173.6" cy="380" r="5"/><circle cx="1174" cy="385.2" r="5"/><circle cx="1174.5" cy="390.1" r="5"/><circle cx="1174.9" cy="395" r="5"/><circle cx="1175.4" cy="399.6" r="5"/><circle cx="1175.8" cy="404.1" r="5"/><circle cx="1176.3" cy="408.4" r="5"/><circle cx="1176.7" cy="412.5" r="5"/><circle cx="1177.2" cy="416.4" r="5"/><circle cx="1177.6" cy="420.1" r="5"/><circle cx="1178.1" cy="423.5" r="5"/><circle cx="1178.5" cy="426.7" r="5"/><circle cx="1179" cy="429.6" r="5"/><circle cx="1179.4" cy="432.3" r="5"/><circle cx="1179.9" cy="434.7" r="5"/><circle cx="1180.3" cy="436.8" r="5"/><circle cx="1180.8" cy="438.6" r="5"/><circle cx="1181.2" cy="440.1" r="5"/><circle cx="1181.7" cy="441.2" r="5"/><circle cx="1182.1" cy="442.1" r="5"/><circle cx="1182.6" cy="442.6" r="5"/><circle cx="1183" cy="442.7" r="5"/><circle cx="1183.5" cy="442.5" r="5"/><circle cx="1183.9" cy="442" r="5"/><circle cx="1184.4" cy="441.3" r="5"/><circle cx="1184.8" cy="440.3" r="5"/><circle cx="1185.3" cy="439" r="5"/><circle cx="1185.7" cy="437.5" r="5"/><circle cx="1186.2" cy="435.7" r="5"/><circle cx="1186.6" cy="433.7" r="5"/><circle cx="1187.1" cy="431.5" r="5"/><circle cx="1187.5" cy="429.1" r="5"/><circle cx="1188" cy="426.5" r="5"/><circle cx="1188.4" cy="423.8" r="5"/><circle cx="1188.9" cy="420.8" r="5"/><circle cx="1189.3" cy="417.7" r="5"/><circle cx="1189.8" cy="414.4" r="5"/><circle cx="1190.2" cy="411.1" r="5"/><circle cx="1190.6" cy="407.5" r="5"/><circle cx="1191.1" cy="403.9" r="5"/><circle cx="1191.5" cy="400.2" r="5"/><circle cx="1192" cy="396.3" r="5"/><circle cx="1192.4" cy="392.4" r="5"/><circle cx="1192.9" cy="388.4" r="5"/><circle cx="1193.3" cy="384.4" r="5"/><circle cx="1193.8" cy="380.3" r="5"/><circle cx="1194.2" cy="376.1" r="5"/><circle cx="1194.7" cy="371.9" r="5"/><circle cx="1195.1" cy="367.7" r="5"/><circle cx="1195.6" cy="363.6" r="5"/><circle cx="1196" cy="359.4" r="5"/><circle cx="1196.5" cy="355.2" r="5"/><circle cx="1196.9" cy="351" r="5"/><circle cx="1197.4" cy="346.9" r="5"/><circle cx="1197.8" cy="342.8" r="5"/><circle cx="1198.3" cy="338.8" r="5"/><circle cx="1198.7" cy="334.9" r="5"/><circle cx="1199.2" cy="331" r="5"/><circle cx="1199.6" cy="327.2" r="5"/><circle cx="1200.1" cy="323.6" r="5"/><circle cx="1200.5" cy="320" r="5"/><circle cx="1201" cy="316.6" r="5"/><circle cx="1201.4" cy="313.3" r="5"/><circle cx="1201.9" cy="310.1" r="5"/><circle cx="1202.3" cy="307.1" r="5"/><circle cx="1202.8" cy="304.3" r="5"/><circle cx="1203.2" cy="301.6" r="5"/><circle cx="1203.7" cy="299.2" r="5"/><circle cx="1204.1" cy="296.9" r="5"/><circle cx="1204.6" cy="294.8" r="5"/><circle cx="1205" cy="293" r="5"/><circle cx="1205.5" cy="291.4" r="5"/><circle cx="1205.9" cy="290" r="5"/><circle cx="1206.4" cy="288.9" r="5"/><circle cx="1206.8" cy="288.1" r="5"/><circle cx="1207.3" cy="287.5" r="5"/><circle cx="1207.7" cy="287.2" r="5"/><circle cx="1208.2" cy="287.2" r="5"/><circle cx="1208.6" cy="287.4" r="5"/><circle cx="1209.1" cy="287.6" r="5"/><circle cx="1209.5" cy="288" r="5"/><circle cx="1210" cy="288.5" r="5"/><circle cx="1210.4" cy="289.1" r="5"/><circle cx="1210.9" cy="289.7" r="5"/><circle cx="1211.3" cy="290.5" r="5"/><circle cx="1211.8" cy="291.3" r="5"/><circle cx="1212.2" cy="292.1" r="5"/><circle cx="1212.7" cy="293" r="5"/><circle cx="1213.1" cy="294" r="5"/><circle cx="1213.6" cy="295" r="5"/><circle cx="1214" cy="296" r="5"/><circle cx="1214.5" cy="297" r="5"/><circle cx="1214.9" cy="298" r="5"/><circle cx="1215.4" cy="299" r="5"/><circle cx="1215.8" cy="300" r="5"/><circle cx="1216.2" cy="301" r="5"/><circle cx="1216.7" cy="301.9" r="5"/><circle cx="1217.1" cy="302.8" r="5"/><circle cx="1217.6" cy="303.6" r="5"/><circle cx="1218" cy="304.4" r="5"/><circle cx="1218.5" cy="305.1" r="5"/><circle cx="1218.9" cy="305.7" r="5"/><circle cx="1219.4" cy="306.2" r="5"/><circle cx="1219.8" cy="306.6" r="5"/><circle cx="1220.3" cy="306.9" r="5"/><circle cx="1220.7" cy="307.1" r="5"/><circle cx="1221.2" cy="307.2" r="5"/><circle cx="1221.6" cy="307.1" r="5"/><circle cx="1222.1" cy="306.6" r="5"/><circle cx="1222.5" cy="305.9" r="5"/><circle cx="1223" cy="305" r="5"/><circle cx="1223.4" cy="303.9" r="5"/><circle cx="1223.9" cy="302.6" r="5"/><circle cx="1224.3" cy="301.1" r="5"/><circle cx="1224.8" cy="299.5" r="5"/><circle cx="1225.2" cy="297.7" r="5"/><circle cx="1225.7" cy="295.8" r="5"/><circle cx="1226.1" cy="293.9" r="5"/><circle cx="1226.6" cy="291.9" r="5"/><circle cx="1227" cy="289.9" r="5"/><circle cx="1227.5" cy="287.8" r="5"/><circle cx="1227.9" cy="285.8" r="5"/><circle cx="1228.4" cy="283.8" r="5"/><circle cx="1228.8" cy="281.8" r="5"/><circle cx="1229.3" cy="279.9" r="5"/><circle cx="1229.7" cy="278.1" r="5"/><circle cx="1230.2" cy="276.4" r="5"/><circle cx="1230.6" cy="274.9" r="5"/><circle cx="1231.1" cy="273.5" r="5"/><circle cx="1231.5" cy="272.3" r="5"/><circle cx="1232" cy="271.3" r="5"/><circle cx="1232.4" cy="270.6" r="5"/><circle cx="1232.9" cy="270.1" r="5"/><circle cx="1233.3" cy="269.8" r="5"/><circle cx="1233.8" cy="269.8" r="5"/><circle cx="1234.2" cy="270" r="5"/><circle cx="1234.7" cy="270.4" r="5"/><circle cx="1235.1" cy="270.8" r="5"/><circle cx="1235.6" cy="271.5" r="5"/><circle cx="1236" cy="272.2" r="5"/><circle cx="1236.5" cy="273.1" r="5"/><circle cx="1236.9" cy="274.1" r="5"/><circle cx="1237.4" cy="275.3" r="5"/><circle cx="1237.8" cy="276.6" r="5"/><circle cx="1238.3" cy="277.9" r="5"/><circle cx="1238.7" cy="279.4" r="5"/><circle cx="1239.2" cy="281" r="5"/><circle cx="1239.6" cy="282.7" r="5"/><circle cx="1240.1" cy="284.5" r="5"/><circle cx="1240.5" cy="286.4" r="5"/><circle cx="1241" cy="288.4" r="5"/><circle cx="1241.4" cy="290.5" r="5"/><circle cx="1241.8" cy="292.7" r="5"/><circle cx="1242.3" cy="294.9" r="5"/><circle cx="1242.7" cy="297.2" r="5"/><circle cx="1243.2" cy="299.5" r="5"/><circle cx="1243.6" cy="302" r="5"/><circle cx="1244.1" cy="304.5" r="5"/><circle cx="1244.5" cy="307" r="5"/><circle cx="1245" cy="309.6" r="5"/><circle cx="1245.4" cy="312.2" r="5"/><circle cx="1245.9" cy="314.9" r="5"/><circle cx="1246.3" cy="317.6" r="5"/><circle cx="1246.8" cy="320.4" r="5"/><circle cx="1247.2" cy="323.1" r="5"/><circle cx="1247.7" cy="325.9" r="5"/><circle cx="1248.1" cy="328.7" r="5"/><circle cx="1248.6" cy="331.6" r="5"/><circle cx="1249" cy="334.4" r="5"/><circle cx="1249.5" cy="337.2" r="5"/><circle cx="1249.9" cy="340.1" r="5"/><circle cx="1250.4" cy="342.9" r="5"/><circle cx="1250.8" cy="345.7" r="5"/><circle cx="1251.3" cy="348.6" r="5"/><circle cx="1251.7" cy="351.4" r="5"/><circle cx="1252.2" cy="354.1" r="5"/><circle cx="1252.6" cy="356.9" r="5"/><circle cx="1253.1" cy="359.6" r="5"/><circle cx="1253.5" cy="362.3" r="5"/><circle cx="1254" cy="364.9" r="5"/><circle cx="1254.4" cy="367.5" r="5"/><circle cx="1254.9" cy="370.1" r="5"/><circle cx="1255.3" cy="372.6" r="5"/><circle cx="1255.8" cy="375" r="5"/><circle cx="1256.2" cy="377.4" r="5"/><circle cx="1256.7" cy="379.7" r="5"/><circle cx="1257.1" cy="382" r="5"/><circle cx="1257.6" cy="384.1" r="5"/><circle cx="1258" cy="386.2" r="5"/><circle cx="1258.5" cy="388.2" r="5"/><circle cx="1258.9" cy="390.1" r="5"/><circle cx="1259.4" cy="392" r="5"/><circle cx="1259.8" cy="393.7" r="5"/><circle cx="1260.3" cy="395.3" r="5"/><circle cx="1260.7" cy="396.8" r="5"/><circle cx="1261.2" cy="398.3" r="5"/><circle cx="1261.6" cy="399.5" r="5"/><circle cx="1262.1" cy="400.7" r="5"/><circle cx="1262.5" cy="401.8" r="5"/><circle cx="1263" cy="402.7" r="5"/><circle cx="1263.4" cy="403.5" r="5"/><circle cx="1263.9" cy="404.1" r="5"/><circle cx="1264.3" cy="404.7" r="5"/><circle cx="1264.8" cy="405" r="5"/><circle cx="1265.2" cy="405.2" r="5"/><circle cx="1265.7" cy="405.3" r="5"/><circle cx="1266.1" cy="405.1" r="5"/><circle cx="1266.6" cy="404.7" r="5"/><circle cx="1267" cy="403.9" r="5"/><circle cx="1267.4" cy="402.9" r="5"/><circle cx="1267.9" cy="401.7" r="5"/><circle cx="1268.3" cy="400.2" r="5"/><circle cx="1268.8" cy="398.5" r="5"/><circle cx="1269.2" cy="396.5" r="5"/><circle cx="1269.7" cy="394.3" r="5"/><circle cx="1270.1" cy="391.9" r="5"/><circle cx="1270.6" cy="389.3" r="5"/><circle cx="1271" cy="386.5" r="5"/><circle cx="1271.5" cy="383.5" r="5"/><circle cx="1271.9" cy="380.3" r="5"/><circle cx="1272.4" cy="377" r="5"/><circle cx="1272.8" cy="373.5" r="5"/><circle cx="1273.3" cy="369.8" r="5"/><circle cx="1273.7" cy="366" r="5"/><circle cx="1274.2" cy="362" r="5"/><circle cx="1274.6" cy="357.9" r="5"/><circle cx="1275.1" cy="353.7" r="5"/><circle cx="1275.5" cy="349.4" r="5"/><circle cx="1276" cy="345" r="5"/><circle cx="1276.4" cy="340.5" r="5"/><circle cx="1276.9" cy="335.9" r="5"/><circle cx="1277.3" cy="331.2" r="5"/><circle cx="1277.8" cy="326.4" r="5"/><circle cx="1278.2" cy="321.6" r="5"/><circle cx="1278.7" cy="316.7" r="5"/><circle cx="1279.1" cy="311.8" r="5"/><circle cx="1279.6" cy="306.8" r="5"/><circle cx="1280" cy="301.8" r="5"/><circle cx="1280.5" cy="296.8" r="5"/><circle cx="1280.9" cy="291.8" r="5"/><circle cx="1281.4" cy="286.8" r="5"/><circle cx="1281.8" cy="281.7" r="5"/><circle cx="1282.3" cy="276.7" r="5"/><circle cx="1282.7" cy="271.7" r="5"/><circle cx="1283.2" cy="266.8" r="5"/><circle cx="1283.6" cy="261.8" r="5"/><circle cx="1284.1" cy="256.9" r="5"/><circle cx="1284.5" cy="252.1" r="5"/><circle cx="1285" cy="247.3" r="5"/><circle cx="1285.4" cy="242.6" r="5"/><circle cx="1285.9" cy="238" r="5"/><circle cx="1286.3" cy="233.5" r="5"/><circle cx="1286.8" cy="229.1" r="5"/><circle cx="1287.2" cy="224.7" r="5"/><circle cx="1287.7" cy="220.5" r="5"/><circle cx="1288.1" cy="216.4" r="5"/><circle cx="1288.6" cy="212.5" r="5"/><circle cx="1289" cy="208.6" r="5"/><circle cx="1289.5" cy="204.9" r="5"/><circle cx="1289.9" cy="201.4" r="5"/><circle cx="1290.4" cy="198" r="5"/><circle cx="1290.8" cy="194.9" r="5"/><circle cx="1291.3" cy="191.8" r="5"/><circle cx="1291.7" cy="189" r="5"/><circle cx="1292.2" cy="186.4" r="5"/><circle cx="1292.6" cy="184" r="5"/><circle cx="1293" cy="181.7" r="5"/><circle cx="1293.5" cy="179.7" r="5"/><circle cx="1293.9" cy="178" r="5"/><circle cx="1294.4" cy="176.5" r="5"/><circle cx="1294.8" cy="175.2" r="5"/><circle cx="1295.3" cy="174.2" r="5"/><circle cx="1295.7" cy="173.4" r="5"/><circle cx="1296.2" cy="172.9" r="5"/><circle cx="1296.6" cy="172.7" r="5"/><circle cx="1297.1" cy="172.8" r="5"/><circle cx="1297.5" cy="173.4" r="5"/><circle cx="1298" cy="174.4" r="5"/><circle cx="1298.4" cy="175.9" r="5"/><circle cx="1298.9" cy="177.7" r="5"/><circle cx="1299.3" cy="180" r="5"/><circle cx="1299.8" cy="182.6" r="5"/><circle cx="1300.2" cy="185.5" r="5"/><circle cx="1300.7" cy="188.8" r="5"/><circle cx="1301.1" cy="192.4" r="5"/><circle cx="1301.6" cy="196.3" r="5"/><circle cx="1302" cy="200.5" r="5"/><circle cx="1302.5" cy="204.9" r="5"/><circle cx="1302.9" cy="209.6" r="5"/><circle cx="1303.4" cy="214.5" r="5"/><circle cx="1303.8" cy="219.7" r="5"/><circle cx="1304.3" cy="225" r="5"/><circle cx="1304.7" cy="230.5" r="5"/><circle cx="1305.2" cy="236.2" r="5"/><circle cx="1305.6" cy="242" r="5"/><circle cx="1306.1" cy="248" r="5"/><circle cx="1306.5" cy="254" r="5"/><circle cx="1307" cy="260.2" r="5"/><circle cx="1307.4" cy="266.4" r="5"/><circle cx="1307.9" cy="272.7" r="5"/><circle cx="1308.3" cy="279.1" r="5"/><circle cx="1308.8" cy="285.4" r="5"/><circle cx="1309.2" cy="291.8" r="5"/><circle cx="1309.7" cy="298.1" r="5"/><circle cx="1310.1" cy="304.5" r="5"/><circle cx="1310.6" cy="310.8" r="5"/><circle cx="1311" cy="317" r="5"/><circle cx="1311.5" cy="323.1" r="5"/><circle cx="1311.9" cy="329.2" r="5"/><circle cx="1312.4" cy="335.1" r="5"/><circle cx="1312.8" cy="340.9" r="5"/><circle cx="1313.3" cy="346.6" r="5"/><circle cx="1313.7" cy="352.1" r="5"/><circle cx="1314.2" cy="357.4" r="5"/><circle cx="1314.6" cy="362.5" r="5"/><circle cx="1315.1" cy="367.4" r="5"/><circle cx="1315.5" cy="372.1" r="5"/><circle cx="1316" cy="376.5" r="5"/><circle cx="1316.4" cy="380.7" r="5"/><circle cx="1316.9" cy="384.5" r="5"/><circle cx="1317.3" cy="388.1" r="5"/><circle cx="1317.8" cy="391.3" r="5"/><circle cx="1318.2" cy="394.3" r="5"/><circle cx="1318.6" cy="396.8" r="5"/><circle cx="1319.1" cy="399" r="5"/><circle cx="1319.5" cy="400.8" r="5"/><circle cx="1320" cy="402.2" r="5"/><circle cx="1320.4" cy="403.2" r="5"/><circle cx="1320.9" cy="403.7" r="5"/><circle cx="1321.3" cy="403.8" r="5"/><circle cx="1321.8" cy="403.6" r="5"/><circle cx="1322.2" cy="403.1" r="5"/><circle cx="1322.7" cy="402.3" r="5"/><circle cx="1323.1" cy="401.3" r="5"/><circle cx="1323.6" cy="400.1" r="5"/><circle cx="1324" cy="398.8" r="5"/><circle cx="1324.5" cy="397.2" r="5"/><circle cx="1324.9" cy="395.5" r="5"/><circle cx="1325.4" cy="393.6" r="5"/><circle cx="1325.8" cy="391.6" r="5"/><circle cx="1326.3" cy="389.5" r="5"/><circle cx="1326.7" cy="387.2" r="5"/><circle cx="1327.2" cy="385" r="5"/><circle cx="1327.6" cy="382.6" r="5"/><circle cx="1328.1" cy="380.2" r="5"/><circle cx="1328.5" cy="377.8" r="5"/><circle cx="1329" cy="375.3" r="5"/><circle cx="1329.4" cy="372.9" r="5"/><circle cx="1329.9" cy="370.5" r="5"/><circle cx="1330.3" cy="368.1" r="5"/><circle cx="1330.8" cy="365.8" r="5"/><circle cx="1331.2" cy="363.6" r="5"/><circle cx="1331.7" cy="361.4" r="5"/><circle cx="1332.1" cy="359.4" r="5"/><circle cx="1332.6" cy="357.4" r="5"/><circle cx="1333" cy="355.7" r="5"/><circle cx="1333.5" cy="354" r="5"/><circle cx="1333.9" cy="352.6" r="5"/><circle cx="1334.4" cy="351.3" r="5"/><circle cx="1334.8" cy="350.3" r="5"/><circle cx="1335.3" cy="349.5" r="5"/><circle cx="1335.7" cy="348.9" r="5"/><circle cx="1336.2" cy="348.6" r="5"/><circle cx="1336.6" cy="348.5" r="5"/><circle cx="1337.1" cy="348.7" r="5"/><circle cx="1337.5" cy="349.1" r="5"/><circle cx="1338" cy="349.8" r="5"/><circle cx="1338.4" cy="350.6" r="5"/><circle cx="1338.9" cy="351.6" r="5"/><circle cx="1339.3" cy="352.8" r="5"/><circle cx="1339.8" cy="354.1" r="5"/><circle cx="1340.2" cy="355.5" r="5"/><circle cx="1340.7" cy="357.1" r="5"/><circle cx="1341.1" cy="358.7" r="5"/><circle cx="1341.6" cy="360.5" r="5"/><circle cx="1342" cy="362.3" r="5"/><circle cx="1342.5" cy="364.1" r="5"/><circle cx="1342.9" cy="366" r="5"/><circle cx="1343.4" cy="368" r="5"/><circle cx="1343.8" cy="369.9" r="5"/><circle cx="1344.2" cy="371.8" r="5"/><circle cx="1344.7" cy="373.7" r="5"/><circle cx="1345.1" cy="375.5" r="5"/><circle cx="1345.6" cy="377.3" r="5"/><circle cx="1346" cy="379" r="5"/><circle cx="1346.5" cy="380.7" r="5"/><circle cx="1346.9" cy="382.2" r="5"/><circle cx="1347.4" cy="383.6" r="5"/><circle cx="1347.8" cy="384.8" r="5"/><circle cx="1348.3" cy="386" r="5"/><circle cx="1348.7" cy="386.9" r="5"/><circle cx="1349.2" cy="387.7" r="5"/><circle cx="1349.6" cy="388.2" r="5"/><circle cx="1350.1" cy="388.6" r="5"/><circle cx="1350.5" cy="388.7" r="5"/><circle cx="1351" cy="388.6" r="5"/><circle cx="1351.4" cy="388.3" r="5"/><circle cx="1351.9" cy="387.8" r="5"/><circle cx="1352.3" cy="387.1" r="5"/><circle cx="1352.8" cy="386.2" r="5"/><circle cx="1353.2" cy="385.1" r="5"/><circle cx="1353.7" cy="383.8" r="5"/><circle cx="1354.1" cy="382.4" r="5"/><circle cx="1354.6" cy="380.7" r="5"/><circle cx="1355" cy="378.9" r="5"/><circle cx="1355.5" cy="376.9" r="5"/><circle cx="1355.9" cy="374.7" r="5"/><circle cx="1356.4" cy="372.4" r="5"/><circle cx="1356.8" cy="369.9" r="5"/><circle cx="1357.3" cy="367.2" r="5"/><circle cx="1357.7" cy="364.3" r="5"/><circle cx="1358.2" cy="361.3" r="5"/><circle cx="1358.6" cy="358.2" r="5"/><circle cx="1359.1" cy="354.8" r="5"/><circle cx="1359.5" cy="351.4" r="5"/><circle cx="1360" cy="347.7" r="5"/><circle cx="1360.4" cy="343.9" r="5"/><circle cx="1360.9" cy="340" r="5"/><circle cx="1361.3" cy="336" r="5"/><circle cx="1361.8" cy="331.8" r="5"/><circle cx="1362.2" cy="327.4" r="5"/><circle cx="1362.7" cy="322.9" r="5"/><circle cx="1363.1" cy="318.3" r="5"/><circle cx="1363.6" cy="313.6" r="5"/><circle cx="1364" cy="308.7" r="5"/><circle cx="1364.5" cy="303.7" r="5"/><circle cx="1364.9" cy="298.6" r="5"/><circle cx="1365.4" cy="293.4" r="5"/><circle cx="1365.8" cy="288.1" r="5"/><circle cx="1366.3" cy="282.6" r="5"/><circle cx="1366.7" cy="277.1" r="5"/><circle cx="1367.2" cy="271.4" r="5"/><circle cx="1367.6" cy="265.6" r="5"/><circle cx="1368.1" cy="259.7" r="5"/><circle cx="1368.5" cy="253.8" r="5"/><circle cx="1369" cy="247.7" r="5"/>
</g>
<polyline clip-path="url(#cb)" fill="none" stroke="#ec1c24" stroke-width="2.5" stroke-linejoin="round" points="808,350.7 808.5,354 809,357.3 809.5,360.5 810,363.3 810.5,365.9 811,368 811.5,369.6 812,370.5 812.5,370.9 813,371.1 813.5,371.3 814,371.5 814.5,371.6 815,371.7 815.5,371.8 816,371.9 816.5,372 817,372.2 817.5,372.4 818,372.9 818.5,373.7 819,374.8 819.5,375.9 820,377 820.5,377.7 821,378 821.5,377.6 822,376.4 822.5,374.4 823,371.7 823.5,368.4 824,364.5 824.5,360 825,355 825.5,349.5 826,343.6 826.5,337.4 827,330.8 827.5,324 828,316.9 828.5,309.7 829,302.4 829.5,295 830,287.5 830.5,280.1 831,272.8 831.5,265.6 832,258.5 832.5,251.7 833,245.1 833.5,238.9 834,233 834.5,227.5 835,222.5 835.5,218 836,214.1 836.5,210.8 837,208.1 837.5,206.1 838,204.9 838.5,204.5 839,205.1 839.5,206.8 840,209.4 840.5,213 841,217.3 841.5,222.3 842,227.9 842.5,233.9 843,240.3 843.5,246.9 844,253.6 844.5,260.3 845,267 845.5,273.5 846,279.7 846.5,285.4 847,290.7 847.5,295.3 848,299.2 848.5,302.3 849,304.4 849.5,305.4 850,306.1 850.5,306.6 851,307.1 851.5,307.5 852,307.8 852.5,308.1 853,308.4 853.5,308.7 854,309.1 854.5,309.4 855,309.9 855.5,310.4 856,311 856.5,311.9 857,312.9 857.5,314.2 858,315.6 858.5,317.2 859,318.9 859.5,320.8 860,322.8 860.5,325 861,327.2 861.5,329.6 862,332 862.5,334.6 863,337.1 863.5,339.8 864,342.4 864.5,345.1 865,347.9 865.5,350.6 866,353.3 866.5,356 867,358.7 867.5,361.3 868,363.9 868.5,366.4 869,368.8 869.5,371.1 870,373.4 870.5,375.5 871,377.5 871.5,379.4 872,381.1 872.5,382.7 873,384.1 873.5,385.3 874,386.3 874.5,387.1 875,387.7 875.5,388.1 876,388.2 876.5,388 877,387.3 877.5,386.3 878,384.9 878.5,383.1 879,381 879.5,378.6 880,375.9 880.5,373 881,369.8 881.5,366.4 882,362.8 882.5,359 883,355 883.5,351 884,346.8 884.5,342.6 885,338.3 885.5,333.9 886,329.5 886.5,325.2 887,320.9 887.5,316.6 888,312.4 888.5,308.3 889,304.3 889.5,300.4 890,296.8 890.5,293.3 891,290 891.5,286.9 892,284.1 892.5,281.6 893,279.4 893.5,277.5 894,275.9 894.5,274.7 895,273.9 895.5,273.5 896,273.6 896.5,274.2 897,275.3 897.5,276.8 898,278.7 898.5,280.9 899,283.5 899.5,286.2 900,289.1 900.5,292.2 901,295.3 901.5,298.4 902,301.5 902.5,304.5 903,307.3 903.5,310 904,312.4 904.5,314.5 905,316.3 905.5,317.6 906,318.5 906.5,318.9 907,318.8 907.5,318.3 908,317.4 908.5,316.3 909,314.8 909.5,313 910,310.9 910.5,308.6 911,306 911.5,303.3 912,300.3 912.5,297.2 913,293.9 913.5,290.5 914,287 914.5,283.3 915,279.6 915.5,275.9 916,272.1 916.5,268.4 917,264.6 917.5,260.9 918,257.2 918.5,253.5 919,250 919.5,246.6 920,243.3 920.5,240.2 921,237.2 921.5,234.5 922,231.9 922.5,229.6 923,227.5 923.5,225.7 924,224.2 924.5,223.1 925,222.2 925.5,221.7 926,221.6 926.5,222 927,222.8 927.5,224.1 928,225.9 928.5,228.1 929,230.7 929.5,233.7 930,237.1 930.5,240.8 931,244.8 931.5,249.1 932,253.8 932.5,258.6 933,263.8 933.5,269.1 934,274.7 934.5,280.4 935,286.3 935.5,292.3 936,298.5 936.5,304.7 937,311.1 937.5,317.4 938,323.8 938.5,330.3 939,336.7 939.5,343.1 940,349.4 940.5,355.7 941,361.9 941.5,368 942,373.9 942.5,379.7 943,385.4 943.5,390.8 944,396 944.5,401 945,405.7 945.5,410.2 946,414.4 946.5,418.2 947,421.7 947.5,424.8 948,427.6 948.5,430 949,431.9 949.5,433.4 950,434.5 950.5,435 951,435.1 951.5,434.8 952,434.2 952.5,433.4 953,432.2 953.5,430.8 954,429.2 954.5,427.3 955,425.2 955.5,422.9 956,420.3 956.5,417.6 957,414.7 957.5,411.6 958,408.4 958.5,405 959,401.5 959.5,397.8 960,394 960.5,390.2 961,386.2 961.5,382.2 962,378.1 962.5,373.9 963,369.7 963.5,365.4 964,361.2 964.5,356.9 965,352.6 965.5,348.4 966,344.1 966.5,339.9 967,335.7 967.5,331.6 968,327.6 968.5,323.6 969,319.8 969.5,316 970,312.3 970.5,308.8 971,305.4 971.5,302.2 972,299.1 972.5,296.2 973,293.5 973.5,290.9 974,288.6 974.5,286.5 975,284.6 975.5,283 976,281.6 976.5,280.4 977,279.6 977.5,279 978,278.7 978.5,278.7 979,279 979.5,279.4 980,279.9 980.5,280.7 981,281.6 981.5,282.6 982,283.8 982.5,285.1 983,286.5 983.5,288.1 984,289.7 984.5,291.4 985,293.1 985.5,295 986,296.8 986.5,298.8 987,300.7 987.5,302.7 988,304.6 988.5,306.6 989,308.6 989.5,310.5 990,312.4 990.5,314.3 991,316.1 991.5,317.8 992,319.5 992.5,321.1 993,322.5 993.5,323.9 994,325.2 994.5,326.3 995,327.3 995.5,328.1 996,328.8 996.5,329.3 997,329.7 997.5,329.8 998,329.7 998.5,329.1 999,328.1 999.5,326.7 1000,325 1000.5,322.9 1001,320.6 1001.5,318 1002,315.1 1002.5,312 1003,308.8 1003.5,305.4 1004,301.8 1004.5,298.2 1005,294.4 1005.5,290.7 1006,286.9 1006.5,283.1 1007,279.4 1007.5,275.7 1008,272.1 1008.5,268.7 1009,265.4 1009.5,262.3 1010,259.4 1010.5,256.7 1011,254.3 1011.5,252.2 1012,250.4 1012.5,249 1013,247.9 1013.5,247.2 1014,247 1014.5,247.2 1015,247.6 1015.5,248.4 1016,249.4 1016.5,250.7 1017,252.3 1017.5,254.1 1018,256.1 1018.5,258.4 1019,260.9 1019.5,263.6 1020,266.4 1020.5,269.5 1021,272.7 1021.5,276.1 1022,279.6 1022.5,283.2 1023,287 1023.5,290.9 1024,294.8 1024.5,298.9 1025,303 1025.5,307.2 1026,311.5 1026.5,315.7 1027,320 1027.5,324.4 1028,328.7 1028.5,333 1029,337.3 1029.5,341.6 1030,345.8 1030.5,350 1031,354.1 1031.5,358.2 1032,362.1 1032.5,366 1033,369.7 1033.5,373.3 1034,376.8 1034.5,380.2 1035,383.3 1035.5,386.4 1036,389.2 1036.5,391.8 1037,394.3 1037.5,396.5 1038,398.5 1038.5,400.3 1039,401.8 1039.5,403 1040,404 1040.5,404.7 1041,405.1 1041.5,405.2 1042,404.9 1042.5,404.2 1043,403.1 1043.5,401.7 1044,399.9 1044.5,397.8 1045,395.3 1045.5,392.6 1046,389.6 1046.5,386.3 1047,382.8 1047.5,379.1 1048,375.2 1048.5,371.1 1049,366.8 1049.5,362.4 1050,357.8 1050.5,353.1 1051,348.3 1051.5,343.5 1052,338.5 1052.5,333.6 1053,328.6 1053.5,323.6 1054,318.6 1054.5,313.7 1055,308.8 1055.5,303.9 1056,299.1 1056.5,294.5 1057,289.9 1057.5,285.5 1058,281.3 1058.5,277.2 1059,273.3 1059.5,269.6 1060,266.2 1060.5,263 1061,260 1061.5,257.3 1062,255 1062.5,252.9 1063,251.2 1063.5,249.8 1064,248.8 1064.5,248.2 1065,248 1065.5,248.3 1066,249.1 1066.5,250.5 1067,252.3 1067.5,254.4 1068,256.9 1068.5,259.6 1069,262.6 1069.5,265.7 1070,268.8 1070.5,272 1071,275.2 1071.5,278.3 1072,281.3 1072.5,284 1073,286.5 1073.5,288.7 1074,290.5 1074.5,291.9 1075,292.7 1075.5,293.1 1076,293.3 1076.5,293.6 1077,293.7 1077.5,293.9 1078,294 1078.5,294.1 1079,294.3 1079.5,294.4 1080,294.5 1080.5,294.6 1081,294.7 1081.5,294.8 1082,294.9 1082.5,295.1 1083,295.3 1083.5,295.5 1084,295.8 1084.5,296 1085,296.4 1085.5,296.8 1086,297.2 1086.5,297.6 1087,298.1 1087.5,298.6 1088,299.2 1088.5,299.8 1089,300.4 1089.5,301.1 1090,301.8 1090.5,302.9 1091,304.1 1091.5,305.6 1092,307.3 1092.5,309.2 1093,311.3 1093.5,313.5 1094,316 1094.5,318.6 1095,321.3 1095.5,324.1 1096,327.1 1096.5,330.2 1097,333.4 1097.5,336.6 1098,340 1098.5,343.3 1099,346.8 1099.5,350.2 1100,353.7 1100.5,357.2 1101,360.7 1101.5,364.2 1102,367.7 1102.5,371.1 1103,374.4 1103.5,377.7 1104,381 1104.5,384.1 1105,387.2 1105.5,390.1 1106,392.9 1106.5,395.6 1107,398.1 1107.5,400.5 1108,402.7 1108.5,404.8 1109,406.6 1109.5,408.2 1110,409.6 1110.5,410.8 1111,411.8 1111.5,412.4 1112,412.9 1112.5,413 1113,412.9 1113.5,412.6 1114,412.1 1114.5,411.4 1115,410.5 1115.5,409.4 1116,408.1 1116.5,406.7 1117,405 1117.5,403.3 1118,401.3 1118.5,399.2 1119,397 1119.5,394.6 1120,392.1 1120.5,389.4 1121,386.6 1121.5,383.7 1122,380.7 1122.5,377.5 1123,374.3 1123.5,370.9 1124,367.4 1124.5,363.9 1125,360.2 1125.5,356.5 1126,352.7 1126.5,348.8 1127,344.9 1127.5,340.9 1128,336.8 1128.5,332.7 1129,328.5 1129.5,324.3 1130,320.1 1130.5,315.8 1131,311.5 1131.5,307.2 1132,302.9 1132.5,298.5 1133,294.2 1133.5,289.8 1134,285.5 1134.5,281.1 1135,276.8 1135.5,272.5 1136,268.2 1136.5,264 1137,259.8 1137.5,255.6 1138,251.5 1138.5,247.4 1139,243.4 1139.5,239.5 1140,235.6 1140.5,231.7 1141,228 1141.5,224.3 1142,220.8 1142.5,217.3 1143,213.9 1143.5,210.6 1144,207.5 1144.5,204.4 1145,201.5 1145.5,198.6 1146,195.9 1146.5,193.4 1147,191 1147.5,188.7 1148,186.6 1148.5,184.6 1149,182.8 1149.5,181.1 1150,179.7 1150.5,178.4 1151,177.2 1151.5,176.3 1152,175.6 1152.5,175 1153,174.7 1153.5,174.5 1154,174.7 1154.5,175.3 1155,176.3 1155.5,177.8 1156,179.7 1156.5,182 1157,184.7 1157.5,187.7 1158,191.1 1158.5,194.8 1159,198.9 1159.5,203.2 1160,207.8 1160.5,212.7 1161,217.8 1161.5,223.2 1162,228.7 1162.5,234.5 1163,240.4 1163.5,246.5 1164,252.8 1164.5,259.2 1165,265.7 1165.5,272.3 1166,278.9 1166.5,285.7 1167,292.4 1167.5,299.2 1168,306 1168.5,312.9 1169,319.6 1169.5,326.4 1170,333.1 1170.5,339.7 1171,346.2 1171.5,352.7 1172,359 1172.5,365.1 1173,371.1 1173.5,377 1174,382.6 1174.5,388.1 1175,393.3 1175.5,398.3 1176,403 1176.5,407.4 1177,411.6 1177.5,415.4 1178,419 1178.5,422.1 1179,425 1179.5,427.4 1180,429.5 1180.5,431.1 1181,432.4 1181.5,433.2 1182,433.5 1182.5,433.4 1183,433 1183.5,432.3 1184,431.3 1184.5,430.1 1185,428.5 1185.5,426.8 1186,424.8 1186.5,422.6 1187,420.1 1187.5,417.5 1188,414.7 1188.5,411.7 1189,408.5 1189.5,405.2 1190,401.8 1190.5,398.2 1191,394.6 1191.5,390.8 1192,386.9 1192.5,383 1193,378.9 1193.5,374.9 1194,370.8 1194.5,366.6 1195,362.5 1195.5,358.3 1196,354.2 1196.5,350.1 1197,346 1197.5,341.9 1198,338 1198.5,334 1199,330.2 1199.5,326.5 1200,322.8 1200.5,319.3 1201,315.9 1201.5,312.7 1202,309.6 1202.5,306.7 1203,303.9 1203.5,301.4 1204,299 1204.5,296.9 1205,295 1205.5,293.3 1206,291.9 1206.5,290.8 1207,289.9 1207.5,289.3 1208,289 1208.5,289 1209,289.2 1209.5,289.5 1210,289.9 1210.5,290.4 1211,291 1211.5,291.7 1212,292.5 1212.5,293.3 1213,294.2 1213.5,295.1 1214,296 1214.5,297 1215,298 1215.5,298.9 1216,299.9 1216.5,300.8 1217,301.7 1217.5,302.5 1218,303.2 1218.5,303.9 1219,304.5 1219.5,305 1220,305.4 1220.5,305.7 1221,305.8 1221.5,305.7 1222,305.4 1222.5,304.8 1223,304 1223.5,303 1224,301.7 1224.5,300.3 1225,298.8 1225.5,297.1 1226,295.3 1226.5,293.4 1227,291.5 1227.5,289.6 1228,287.6 1228.5,285.7 1229,283.8 1229.5,282 1230,280.3 1230.5,278.7 1231,277.2 1231.5,275.9 1232,274.8 1232.5,273.9 1233,273.2 1233.5,272.7 1234,272.6 1234.5,272.7 1235,273 1235.5,273.5 1236,274.2 1236.5,275 1237,276 1237.5,277.2 1238,278.5 1238.5,280 1239,281.7 1239.5,283.4 1240,285.4 1240.5,287.4 1241,289.5 1241.5,291.8 1242,294.2 1242.5,296.6 1243,299.2 1243.5,301.8 1244,304.6 1244.5,307.4 1245,310.2 1245.5,313.2 1246,316.2 1246.5,319.2 1247,322.3 1247.5,325.4 1248,328.5 1248.5,331.7 1249,334.8 1249.5,338 1250,341.2 1250.5,344.4 1251,347.6 1251.5,350.7 1252,353.9 1252.5,357 1253,360 1253.5,363 1254,366 1254.5,368.9 1255,371.8 1255.5,374.6 1256,377.3 1256.5,379.9 1257,382.5 1257.5,384.9 1258,387.3 1258.5,389.5 1259,391.6 1259.5,393.6 1260,395.5 1260.5,397.3 1261,398.9 1261.5,400.3 1262,401.6 1262.5,402.8 1263,403.8 1263.5,404.6 1264,405.2 1264.5,405.7 1265,405.9 1265.5,406 1266,405.8 1266.5,405.2 1267,404.3 1267.5,403.1 1268,401.6 1268.5,399.8 1269,397.8 1269.5,395.5 1270,392.9 1270.5,390.1 1271,387.1 1271.5,383.8 1272,380.3 1272.5,376.6 1273,372.8 1273.5,368.7 1274,364.5 1274.5,360.1 1275,355.6 1275.5,351 1276,346.2 1276.5,341.3 1277,336.3 1277.5,331.2 1278,326.1 1278.5,320.9 1279,315.6 1279.5,310.2 1280,304.8 1280.5,299.4 1281,294 1281.5,288.6 1282,283.2 1282.5,277.8 1283,272.4 1283.5,267 1284,261.7 1284.5,256.5 1285,251.4 1285.5,246.3 1286,241.3 1286.5,236.4 1287,231.6 1287.5,227 1288,222.5 1288.5,218.1 1289,213.9 1289.5,209.8 1290,206 1290.5,202.3 1291,198.8 1291.5,195.5 1292,192.5 1292.5,189.7 1293,187.1 1293.5,184.8 1294,182.8 1294.5,181 1295,179.5 1295.5,178.3 1296,177.4 1296.5,176.8 1297,176.6 1297.5,176.8 1298,177.6 1298.5,178.9 1299,180.8 1299.5,183.2 1300,186.1 1300.5,189.5 1301,193.3 1301.5,197.5 1302,202.1 1302.5,207.1 1303,212.4 1303.5,218 1304,223.9 1304.5,230 1305,236.4 1305.5,243 1306,249.7 1306.5,256.6 1307,263.7 1307.5,270.8 1308,278 1308.5,285.2 1309,292.5 1309.5,299.7 1310,306.9 1310.5,314.1 1311,321.2 1311.5,328.1 1312,334.9 1312.5,341.6 1313,348 1313.5,354.3 1314,360.3 1314.5,366 1315,371.4 1315.5,376.5 1316,381.3 1316.5,385.6 1317,389.6 1317.5,393.2 1318,396.3 1318.5,398.9 1319,401 1319.5,402.6 1320,403.6 1320.5,404 1321,403.9 1321.5,403.5 1322,402.8 1322.5,401.9 1323,400.7 1323.5,399.2 1324,397.6 1324.5,395.8 1325,393.8 1325.5,391.6 1326,389.4 1326.5,387 1327,384.5 1327.5,382 1328,379.4 1328.5,376.7 1329,374.1 1329.5,371.5 1330,368.9 1330.5,366.3 1331,363.8 1331.5,361.4 1332,359.1 1332.5,356.9 1333,354.9 1333.5,353.1 1334,351.4 1334.5,349.9 1335,348.7 1335.5,347.7 1336,346.9 1336.5,346.5 1337,346.3 1337.5,346.5 1338,347.1 1338.5,347.9 1339,349.1 1339.5,350.6 1340,352.3 1340.5,354.3 1341,356.4 1341.5,358.7 1342,361.1 1342.5,363.5 1343,366.1 1343.5,368.6 1344,371.2 1344.5,373.8 1345,376.2 1345.5,378.6 1346,380.9 1346.5,383 1347,385 1347.5,386.7 1348,388.2 1348.5,389.4 1349,390.2 1349.5,390.8 1350,391 1350.5,390.9 1351,390.6 1351.5,390.1 1352,389.3 1352.5,388.4 1353,387.2 1353.5,385.9 1354,384.4 1354.5,382.6 1355,380.7 1355.5,378.5 1356,376.2 1356.5,373.7 1357,371 1357.5,368.1 1358,365 1358.5,361.8 1359,358.4 1359.5,354.7 1360,350.9 1360.5,347 1361,342.8 1361.5,338.5 1362,334 1362.5,329.4 1363,324.5 1363.5,319.5 1364,314.4 1364.5,309.1 1365,303.6 1365.5,298 1366,292.2 1366.5,286.2 1367,280.2 1367.5,273.9 1368,267.5 1368.5,261 1369,254.3"/>
<line x1="808" y1="436.2" x2="1369" y2="436.2" stroke="#1a1a1a" stroke-width="1.3"/>
<polyline clip-path="url(#cb)" fill="none" stroke="#1a8a1a" stroke-width="2.6" stroke-linejoin="round" points="808,447.8 808.5,444 809,440.4 809.5,437.1 810,434.3 810.5,432 811,430.4 811.5,429.5 812,429.3 812.5,429.7 813,430.4 813.5,431.3 814,432.4 814.5,433.6 815,434.8 815.5,436 816,437 816.5,437.9 817,438.5 817.5,439.2 818,439.9 818.5,440.6 819,441.2 819.5,441.9 820,442.4 820.5,442.9 821,443.3 821.5,443.6 822,443.8 822.5,443.9 823,443.8 823.5,443.6 824,443.2 824.5,442.9 825,442.5 825.5,442.2 826,442 826.5,441.9 827,442 827.5,442.3 828,442.7 828.5,443.1 829,443.4 829.5,443.7 830,443.9 830.5,443.7 831,442.9 831.5,441.4 832,439.4 832.5,437.3 833,435 833.5,433 834,431.2 834.5,429.9 835,429.3 835.5,429.6 836,430.6 836.5,432.2 837,434.2 837.5,436.4 838,438.6 838.5,440.6 839,442.3 839.5,443.5 840,443.9 840.5,443.8 841,443.4 841.5,442.8 842,442.1 842.5,441.3 843,440.6 843.5,439.9 844,439.4 844.5,439.1 845,439 845.5,439.2 846,439.4 846.5,439.8 847,440.2 847.5,440.7 848,441.1 848.5,441.5 849,441.7 849.5,441.9 850,441.9 850.5,441.8 851,441.7 851.5,441.5 852,441.2 852.5,440.9 853,440.5 853.5,440.1 854,439.7 854.5,439.2 855,438.7 855.5,438.2 856,437.7 856.5,437.1 857,436.3 857.5,435.2 858,433.8 858.5,432.1 859,430.3 859.5,428.4 860,426.5 860.5,424.7 861,422.9 861.5,421.4 862,420.1 862.5,419.2 863,418.7 863.5,418.6 864,418.7 864.5,418.9 865,419.1 865.5,419.5 866,419.8 866.5,420.3 867,420.7 867.5,421.2 868,421.7 868.5,422.2 869,422.7 869.5,423.2 870,423.6 870.5,424 871,424.3 871.5,424.6 872,424.9 872.5,425.1 873,425.3 873.5,425.5 874,425.7 874.5,425.9 875,426.2 875.5,426.4 876,426.7 876.5,427.1 877,427.5 877.5,428.3 878,429.4 878.5,430.9 879,432.7 879.5,434.6 880,436.6 880.5,438.6 881,440.6 881.5,442.4 882,444 882.5,445.4 883,446.3 883.5,446.8 884,446.8 884.5,446.6 885,446.3 885.5,445.8 886,445.3 886.5,444.7 887,444 887.5,443.3 888,442.5 888.5,441.8 889,441.1 889.5,440.4 890,439.7 890.5,439.2 891,438.7 891.5,438.3 892,438.1 892.5,438 893,438.1 893.5,438.4 894,438.8 894.5,439.4 895,440.2 895.5,441 896,441.8 896.5,442.7 897,443.7 897.5,444.6 898,445.5 898.5,446.3 899,447 899.5,447.7 900,448.2 900.5,448.6 901,448.7 901.5,448.7 902,448.3 902.5,447.7 903,446.9 903.5,445.9 904,444.7 904.5,443.5 905,442.2 905.5,440.9 906,439.6 906.5,438.4 907,437.3 907.5,436.4 908,435.7 908.5,435.3 909,435.1 909.5,435.2 910,435.5 910.5,436 911,436.5 911.5,437.1 912,437.7 912.5,438.2 913,438.7 913.5,438.9 914,439 914.5,438.8 915,438.3 915.5,437.6 916,436.8 916.5,435.8 917,434.8 917.5,433.7 918,432.7 918.5,431.7 919,430.8 919.5,430.1 920,429.6 920.5,429.3 921,429.3 921.5,429.4 922,429.6 922.5,429.9 923,430.2 923.5,430.6 924,431 924.5,431.5 925,431.9 925.5,432.4 926,432.8 926.5,433.2 927,433.6 927.5,434.1 928,434.6 928.5,435.2 929,435.7 929.5,436.3 930,436.8 930.5,437.4 931,437.8 931.5,438.3 932,438.6 932.5,438.8 933,439 933.5,439 934,438.9 934.5,438.6 935,438.2 935.5,437.8 936,437.3 936.5,436.8 937,436.3 937.5,435.8 938,435.3 938.5,434.9 939,434.5 939.5,434.3 940,434.2 940.5,434.2 941,434.2 941.5,434.3 942,434.4 942.5,434.5 943,434.6 943.5,434.7 944,434.9 944.5,435 945,435.2 945.5,435.3 946,435.5 946.5,435.7 947,435.8 947.5,436 948,436.1 948.5,436.3 949,436.5 949.5,436.7 950,436.9 950.5,437.2 951,437.5 951.5,437.7 952,438 952.5,438.3 953,438.6 953.5,438.9 954,439.1 954.5,439.4 955,439.7 955.5,439.9 956,440.1 956.5,440.3 957,440.5 957.5,440.7 958,440.8 958.5,440.9 959,441 959.5,441 960,440.9 960.5,440.6 961,440 961.5,439.1 962,438.2 962.5,437 963,435.8 963.5,434.4 964,433 964.5,431.6 965,430.2 965.5,428.8 966,427.5 966.5,426.2 967,425.1 967.5,424.2 968,423.4 968.5,422.9 969,422.6 969.5,422.5 970,422.7 970.5,423.1 971,423.6 971.5,424.2 972,425 972.5,425.8 973,426.7 973.5,427.6 974,428.5 974.5,429.4 975,430.3 975.5,431.1 976,431.8 976.5,432.4 977,432.8 977.5,433.1 978,433.2 978.5,433.2 979,433.1 979.5,432.9 980,432.7 980.5,432.4 981,432.2 981.5,432 982,431.7 982.5,431.5 983,431.4 983.5,431.3 984,431.3 984.5,431.4 985,431.7 985.5,432.1 986,432.7 986.5,433.3 987,434.1 987.5,434.9 988,435.7 988.5,436.5 989,437.4 989.5,438.2 990,438.9 990.5,439.6 991,440.1 991.5,440.6 992,440.9 992.5,441 993,440.9 993.5,440.7 994,440.3 994.5,439.7 995,439.1 995.5,438.3 996,437.4 996.5,436.5 997,435.5 997.5,434.6 998,433.6 998.5,432.6 999,431.7 999.5,430.9 1000,430.1 1000.5,429.4 1001,428.9 1001.5,428.5 1002,428.3 1002.5,428.3 1003,428.5 1003.5,428.9 1004,429.5 1004.5,430.2 1005,431.1 1005.5,432.1 1006,433.1 1006.5,434.3 1007,435.5 1007.5,436.8 1008,438.1 1008.5,439.4 1009,440.7 1009.5,442 1010,443.2 1010.5,444.4 1011,445.4 1011.5,446.3 1012,447.2 1012.5,447.8 1013,448.3 1013.5,448.6 1014,448.8 1014.5,448.6 1015,448.3 1015.5,447.8 1016,447.1 1016.5,446.2 1017,445.3 1017.5,444.3 1018,443.2 1018.5,442.2 1019,441.1 1019.5,440 1020,439.1 1020.5,438.2 1021,437.4 1021.5,436.8 1022,436.4 1022.5,436.1 1023,436.1 1023.5,436.4 1024,436.8 1024.5,437.4 1025,438.1 1025.5,438.9 1026,439.7 1026.5,440.6 1027,441.4 1027.5,442.2 1028,442.8 1028.5,443.4 1029,443.7 1029.5,443.9 1030,443.8 1030.5,443.6 1031,443.1 1031.5,442.5 1032,441.7 1032.5,440.9 1033,439.9 1033.5,439 1034,437.9 1034.5,436.9 1035,436 1035.5,435.1 1036,434.2 1036.5,433.5 1037,432.9 1037.5,432.5 1038,432.2 1038.5,432.2 1039,432.3 1039.5,432.5 1040,432.8 1040.5,433.2 1041,433.6 1041.5,434.2 1042,434.7 1042.5,435.3 1043,436 1043.5,436.7 1044,437.3 1044.5,438 1045,438.7 1045.5,439.4 1046,440 1046.5,440.6 1047,441.2 1047.5,441.6 1048,442.1 1048.5,442.4 1049,442.7 1049.5,442.8 1050,442.9 1050.5,442.7 1051,442.2 1051.5,441.4 1052,440.5 1052.5,439.3 1053,438.1 1053.5,436.8 1054,435.5 1054.5,434.3 1055,433.3 1055.5,432.4 1056,431.7 1056.5,431.3 1057,431.3 1057.5,431.4 1058,431.7 1058.5,432 1059,432.5 1059.5,433.1 1060,433.8 1060.5,434.5 1061,435.2 1061.5,436 1062,436.8 1062.5,437.6 1063,438.5 1063.5,439.2 1064,440 1064.5,440.7 1065,441.3 1065.5,441.8 1066,442.3 1066.5,442.6 1067,442.8 1067.5,442.9 1068,442.8 1068.5,442.6 1069,442.2 1069.5,441.8 1070,441.2 1070.5,440.6 1071,439.9 1071.5,439.2 1072,438.5 1072.5,437.7 1073,437 1073.5,436.4 1074,435.7 1074.5,435.2 1075,434.8 1075.5,434.4 1076,434.2 1076.5,434.2 1077,434.1 1077.5,434.1 1078,434 1078.5,434 1079,434 1079.5,433.9 1080,433.9 1080.5,433.9 1081,433.9 1081.5,433.9 1082,433.8 1082.5,433.8 1083,433.8 1083.5,433.8 1084,433.8 1084.5,433.7 1085,433.7 1085.5,433.7 1086,433.6 1086.5,433.6 1087,433.5 1087.5,433.5 1088,433.2 1088.5,432.8 1089,432.3 1089.5,431.7 1090,431 1090.5,430.2 1091,429.5 1091.5,428.7 1092,428 1092.5,427.3 1093,426.7 1093.5,426.3 1094,425.9 1094.5,425.8 1095,425.8 1095.5,426 1096,426.3 1096.5,426.6 1097,427 1097.5,427.6 1098,428.1 1098.5,428.8 1099,429.4 1099.5,430.1 1100,430.8 1100.5,431.6 1101,432.3 1101.5,433 1102,433.7 1102.5,434.3 1103,434.9 1103.5,435.5 1104,436 1104.5,436.4 1105,436.7 1105.5,437 1106,437.2 1106.5,437.5 1107,437.8 1107.5,438 1108,438.3 1108.5,438.5 1109,438.8 1109.5,439 1110,439.2 1110.5,439.4 1111,439.6 1111.5,439.8 1112,440 1112.5,440.1 1113,440.3 1113.5,440.4 1114,440.5 1114.5,440.6 1115,440.7 1115.5,440.8 1116,440.8 1116.5,440.8 1117,440.7 1117.5,440.5 1118,440.2 1118.5,439.8 1119,439.4 1119.5,438.9 1120,438.3 1120.5,437.8 1121,437.3 1121.5,436.8 1122,436.4 1122.5,436 1123,435.8 1123.5,435.6 1124,435.6 1124.5,435.7 1125,435.9 1125.5,436.2 1126,436.5 1126.5,436.9 1127,437.3 1127.5,437.6 1128,438 1128.5,438.3 1129,438.5 1129.5,438.7 1130,438.8 1130.5,438.6 1131,438.3 1131.5,437.8 1132,437.2 1132.5,436.6 1133,435.8 1133.5,435.1 1134,434.3 1134.5,433.7 1135,433.1 1135.5,432.7 1136,432.5 1136.5,432.5 1137,432.6 1137.5,432.7 1138,433 1138.5,433.2 1139,433.6 1139.5,433.9 1140,434.3 1140.5,434.8 1141,435.2 1141.5,435.6 1142,436.1 1142.5,436.5 1143,437 1143.5,437.4 1144,437.7 1144.5,438 1145,438.3 1145.5,438.5 1146,438.7 1146.5,438.7 1147,438.7 1147.5,438.7 1148,438.7 1148.5,438.6 1149,438.5 1149.5,438.4 1150,438.2 1150.5,438.1 1151,438 1151.5,437.8 1152,437.6 1152.5,437.5 1153,437.3 1153.5,437.1 1154,437 1154.5,436.8 1155,436.7 1155.5,436.6 1156,436.5 1156.5,436.4 1157,436.3 1157.5,436.3 1158,436.3 1158.5,436.3 1159,436.5 1159.5,436.8 1160,437.2 1160.5,437.7 1161,438.2 1161.5,438.8 1162,439.4 1162.5,439.9 1163,440.5 1163.5,441 1164,441.4 1164.5,441.7 1165,441.9 1165.5,441.9 1166,441.7 1166.5,441.3 1167,440.7 1167.5,440 1168,439.3 1168.5,438.6 1169,437.9 1169.5,437.3 1170,436.9 1170.5,436.7 1171,436.8 1171.5,437.1 1172,437.6 1172.5,438.3 1173,439.1 1173.5,439.9 1174,440.9 1174.5,441.8 1175,442.8 1175.5,443.6 1176,444.4 1176.5,445.1 1177,445.6 1177.5,445.9 1178,446 1178.5,445.9 1179,445.6 1179.5,445.2 1180,444.6 1180.5,444 1181,443.2 1181.5,442.4 1182,441.5 1182.5,440.5 1183,439.5 1183.5,438.5 1184,437.5 1184.5,436.5 1185,435.5 1185.5,434.6 1186,433.7 1186.5,432.9 1187,432.2 1187.5,431.5 1188,431 1188.5,430.7 1189,430.5 1189.5,430.4 1190,430.6 1190.5,431.1 1191,431.8 1191.5,432.6 1192,433.3 1192.5,434 1193,434.4 1193.5,434.6 1194,434.6 1194.5,434.5 1195,434.3 1195.5,434.1 1196,433.9 1196.5,433.6 1197,433.3 1197.5,433 1198,432.6 1198.5,432.3 1199,432 1199.5,431.7 1200,431.4 1200.5,431.1 1201,430.8 1201.5,430.7 1202,430.5 1202.5,430.4 1203,430.4 1203.5,430.5 1204,430.7 1204.5,430.9 1205,431.3 1205.5,431.7 1206,432.2 1206.5,432.7 1207,433.3 1207.5,433.9 1208,434.6 1208.5,435.3 1209,435.9 1209.5,436.6 1210,437.3 1210.5,438 1211,438.6 1211.5,439.2 1212,439.8 1212.5,440.3 1213,440.8 1213.5,441.2 1214,441.5 1214.5,441.7 1215,441.9 1215.5,441.9 1216,441.8 1216.5,441.7 1217,441.5 1217.5,441.3 1218,440.9 1218.5,440.6 1219,440.1 1219.5,439.7 1220,439.2 1220.5,438.7 1221,438.1 1221.5,437.6 1222,437 1222.5,436.4 1223,435.8 1223.5,435.2 1224,434.6 1224.5,434.1 1225,433.5 1225.5,433 1226,432.5 1226.5,432.1 1227,431.7 1227.5,431.3 1228,431 1228.5,430.7 1229,430.6 1229.5,430.4 1230,430.4 1230.5,430.5 1231,430.8 1231.5,431.2 1232,431.7 1232.5,432.4 1233,433.1 1233.5,433.8 1234,434.6 1234.5,435.3 1235,436 1235.5,436.6 1236,437.1 1236.5,437.5 1237,437.7 1237.5,437.7 1238,437.5 1238.5,437.3 1239,436.8 1239.5,436.4 1240,435.8 1240.5,435.2 1241,434.5 1241.5,433.9 1242,433.3 1242.5,432.7 1243,432.3 1243.5,431.9 1244,431.6 1244.5,431.5 1245,431.6 1245.5,431.9 1246,432.4 1246.5,433.1 1247,433.9 1247.5,434.8 1248,435.6 1248.5,436.5 1249,437.3 1249.5,437.9 1250,438.4 1250.5,438.7 1251,438.7 1251.5,438.6 1252,438.5 1252.5,438.2 1253,437.9 1253.5,437.5 1254,437.1 1254.5,436.8 1255,436.4 1255.5,436.1 1256,435.9 1256.5,435.7 1257,435.6 1257.5,435.6 1258,435.7 1258.5,435.9 1259,436.1 1259.5,436.3 1260,436.5 1260.5,436.7 1261,436.9 1261.5,437 1262,437.1 1262.5,437.1 1263,436.9 1263.5,436.6 1264,436.2 1264.5,435.7 1265,435.2 1265.5,434.7 1266,434.2 1266.5,433.8 1267,433.6 1267.5,433.5 1268,433.6 1268.5,433.8 1269,434.1 1269.5,434.6 1270,435.1 1270.5,435.8 1271,436.5 1271.5,437.3 1272,438.1 1272.5,439 1273,439.9 1273.5,440.9 1274,441.8 1274.5,442.8 1275,443.7 1275.5,444.6 1276,445.4 1276.5,446.2 1277,446.9 1277.5,447.6 1278,448.1 1278.5,448.6 1279,448.9 1279.5,449.1 1280,449.2 1280.5,449.1 1281,448.7 1281.5,448 1282,447.2 1282.5,446.2 1283,445.2 1283.5,444 1284,442.8 1284.5,441.5 1285,440.3 1285.5,439.2 1286,438.2 1286.5,437.2 1287,436.5 1287.5,436 1288,435.7 1288.5,435.6 1289,435.7 1289.5,435.8 1290,436 1290.5,436.2 1291,436.4 1291.5,436.5 1292,436.7 1292.5,436.7 1293,436.6 1293.5,436.4 1294,436 1294.5,435.6 1295,435.1 1295.5,434.5 1296,434 1296.5,433.5 1297,433 1297.5,432.6 1298,432.3 1298.5,432 1299,431.7 1299.5,431.4 1300,431.2 1300.5,430.9 1301,430.6 1301.5,430.4 1302,430.1 1302.5,429.9 1303,429.7 1303.5,429.6 1304,429.5 1304.5,429.4 1305,429.4 1305.5,429.5 1306,429.9 1306.5,430.4 1307,431.1 1307.5,431.9 1308,432.8 1308.5,433.8 1309,434.7 1309.5,435.7 1310,436.6 1310.5,437.3 1311,438 1311.5,438.4 1312,438.7 1312.5,438.7 1313,438.7 1313.5,438.6 1314,438.4 1314.5,438.2 1315,437.9 1315.5,437.6 1316,437.2 1316.5,436.8 1317,436.4 1317.5,436 1318,435.6 1318.5,435.2 1319,434.7 1319.5,434.3 1320,433.9 1320.5,433.5 1321,433.1 1321.5,432.7 1322,432.4 1322.5,432.1 1323,431.9 1323.5,431.7 1324,431.6 1324.5,431.5 1325,431.5 1325.5,431.5 1326,431.6 1326.5,431.7 1327,431.9 1327.5,432.1 1328,432.3 1328.5,432.5 1329,432.8 1329.5,433.1 1330,433.4 1330.5,433.7 1331,434 1331.5,434.4 1332,434.8 1332.5,435.1 1333,435.5 1333.5,436 1334,436.6 1334.5,437.4 1335,438.4 1335.5,439.4 1336,440.5 1336.5,441.7 1337,442.8 1337.5,443.9 1338,444.9 1338.5,445.8 1339,446.5 1339.5,447.1 1340,447.4 1340.5,447.5 1341,447.3 1341.5,446.8 1342,446.2 1342.5,445.3 1343,444.3 1343.5,443.1 1344,441.9 1344.5,440.7 1345,439.4 1345.5,438.2 1346,437.1 1346.5,436 1347,435.1 1347.5,434.3 1348,433.8 1348.5,433.5 1349,433.5 1349.5,433.6 1350,433.7 1350.5,433.8 1351,434 1351.5,434.2 1352,434.5 1352.5,434.7 1353,435 1353.5,435.3 1354,435.6 1354.5,435.9 1355,436.2 1355.5,436.5 1356,436.8 1356.5,437 1357,437.2 1357.5,437.4 1358,437.5 1358.5,437.6 1359,437.7 1359.5,437.7 1360,437.6 1360.5,437.5 1361,437.3 1361.5,437.1 1362,436.8 1362.5,436.4 1363,436 1363.5,435.6 1364,435.1 1364.5,434.6 1365,434 1365.5,433.4 1366,432.7 1366.5,432.1 1367,431.4 1367.5,430.6 1368,429.9 1368.5,429.1 1369,428.3"/>
<rect x="808" y="41.8" width="561" height="452.4" fill="none" stroke="#000" stroke-width="2"/>
<path d="M814.9 494.2v5M814.9 41.8v5M849.6 494.2v9M849.6 41.8v9M884.2 494.2v5M884.2 41.8v5M918.8 494.2v5M918.8 41.8v5M953.4 494.2v9M953.4 41.8v9M988.1 494.2v5M988.1 41.8v5M1022.7 494.2v5M1022.7 41.8v5M1057.3 494.2v9M1057.3 41.8v9M1092 494.2v5M1092 41.8v5M1126.6 494.2v5M1126.6 41.8v5M1161.2 494.2v9M1161.2 41.8v9M1195.9 494.2v5M1195.9 41.8v5M1230.5 494.2v5M1230.5 41.8v5M1265.1 494.2v9M1265.1 41.8v9M1299.7 494.2v5M1299.7 41.8v5M1334.4 494.2v5M1334.4 41.8v5M1369 494.2v9M1369 41.8v9M808 493.2h-5M1369 493.2h-5M808 435.4h-9M1369 435.4h-9M808 377.6h-5M1369 377.6h-5M808 319.8h-9M1369 319.8h-9M808 262h-5M1369 262h-5M808 204.2h-9M1369 204.2h-9M808 146.4h-5M1369 146.4h-5M808 88.6h-9M1369 88.6h-9" stroke="#000" stroke-width="2" fill="none"/>
<g font-family="Liberation Sans, sans-serif" font-size="24" fill="#111">
<text x="793" y="95.8" text-anchor="end">10</text>
<text x="793" y="211.4" text-anchor="end">5</text>
<text x="793" y="327" text-anchor="end">0</text>
<text x="793" y="442.6" text-anchor="end">-5</text>
<text x="849.6" y="527.8" text-anchor="middle">2.5</text>
<text x="953.4" y="527.8" text-anchor="middle">5.0</text>
<text x="1057.3" y="527.8" text-anchor="middle">7.5</text>
<text x="1161.2" y="527.8" text-anchor="middle">10.0</text>
<text x="1265.1" y="527.8" text-anchor="middle">12.5</text>
<text x="1369" y="527.8" text-anchor="middle">15.0</text>
</g>
<text x="1088.8" y="557" font-family="Liberation Sans, sans-serif" font-size="26" text-anchor="middle" fill="#111">r <tspan font-family="Liberation Serif, serif">(Å)</tspan></text>
<text transform="translate(768 267.5) rotate(-90)" font-family="Liberation Sans, sans-serif" font-size="26" text-anchor="middle" fill="#111">G(r) <tspan font-family="Liberation Serif, serif">(Å)</tspan></text>
<g fill="none" stroke="#000" stroke-width="5.5"><path d="M834 64V112.3"/><path d="M834 88C837.5 83.5 842 81.4 846.5 81.4C853 81.4 857 87 857 96C857 105 853 110.5 846.5 110.5C842 110.5 837.5 108.5 834 104.5"/></g><path d="M873 63.2C879 74 881.7 83 881.7 93.5C881.7 104 879 113.5 872.7 124.2H868C873.5 113.5 876.2 104 876.2 93.5C876.2 83 873.5 74 868.3 63.2Z" fill="#000"/>
<text x="1134" y="81.8" font-family="Liberation Sans, sans-serif" font-size="28.2" fill="#000">Ho<tspan font-size="16.5" dy="9.7">2</tspan><tspan dy="-9.7">Zr</tspan><tspan font-size="16.5" dy="9.7">2</tspan><tspan dy="-9.7">O</tspan><tspan font-size="16.5" dy="9.7">7</tspan><tspan dy="-9.7"> - </tspan><tspan font-style="italic">Ccmm</tspan></text>
<text x="1134" y="123.3" font-family="Liberation Sans, sans-serif" font-size="28" fill="#000">R<tspan font-size="17" dy="9.7">w</tspan><tspan dy="-9.7">= 0.094</tspan></text>
<text x="382.8" y="635.3" font-family="Liberation Sans, sans-serif" font-weight="bold" font-size="71.2" text-anchor="middle" fill="#000">disordered fluorite</text><text x="1089.8" y="635.3" font-family="Liberation Sans, sans-serif" font-weight="bold" font-size="70.4" text-anchor="middle" fill="#000">weberite-type</text>
<path d="M110 686.3H381V957.6H110Z" fill="none" stroke="#0a0ad0" stroke-width="3.2" stroke-dasharray="2.3 1.8"/>
<circle cx="110" cy="686.3" r="21.2" fill="url(#gB)"/>
<circle cx="245.5" cy="686.3" r="21.2" fill="url(#gB)"/>
<circle cx="381" cy="686.3" r="21.2" fill="url(#gB)"/>
<circle cx="516.8" cy="686.3" r="21.2" fill="url(#gB)"/>
<circle cx="652.3" cy="686.3" r="21.2" fill="url(#gB)"/>
<circle cx="110" cy="822" r="21.2" fill="url(#gB)"/>
<circle cx="245.5" cy="822" r="21.2" fill="url(#gB)"/>
<circle cx="381" cy="822" r="21.2" fill="url(#gB)"/>
<circle cx="516.8" cy="822" r="21.2" fill="url(#gB)"/>
<circle cx="652.3" cy="822" r="21.2" fill="url(#gB)"/>
<circle cx="110" cy="957.6" r="21.2" fill="url(#gB)"/>
<circle cx="245.5" cy="957.6" r="21.2" fill="url(#gB)"/>
<circle cx="381" cy="957.6" r="21.2" fill="url(#gB)"/>
<circle cx="516.8" cy="957.6" r="21.2" fill="url(#gB)"/>
<circle cx="652.3" cy="957.6" r="21.2" fill="url(#gB)"/>
<circle cx="110" cy="1093.2" r="21.2" fill="url(#gB)"/>
<circle cx="245.5" cy="1093.2" r="21.2" fill="url(#gB)"/>
<circle cx="381" cy="1093.2" r="21.2" fill="url(#gB)"/>
<circle cx="516.8" cy="1093.2" r="21.2" fill="url(#gB)"/>
<circle cx="652.3" cy="1093.2" r="21.2" fill="url(#gB)"/>
<circle cx="110" cy="1229.2" r="21.2" fill="url(#gB)"/>
<circle cx="245.5" cy="1229.2" r="21.2" fill="url(#gB)"/>
<circle cx="381" cy="1229.2" r="21.2" fill="url(#gB)"/>
<circle cx="516.8" cy="1229.2" r="21.2" fill="url(#gB)"/>
<circle cx="652.3" cy="1229.2" r="21.2" fill="url(#gB)"/>
<circle cx="178" cy="754" r="24.6" fill="url(#gR)"/>
<circle cx="313.5" cy="754" r="24.6" fill="url(#gR)"/>
<circle cx="449" cy="754" r="24.6" fill="url(#gR)"/>
<circle cx="584.6" cy="754" r="24.6" fill="url(#gR)"/>
<circle cx="178" cy="889.6" r="24.6" fill="url(#gR)"/>
<circle cx="313.5" cy="889.6" r="24.6" fill="url(#gR)"/>
<circle cx="449" cy="889.6" r="24.6" fill="url(#gR)"/>
<circle cx="584.6" cy="889.6" r="24.6" fill="url(#gR)"/>
<circle cx="178" cy="1025.3" r="24.6" fill="url(#gR)"/>
<circle cx="313.5" cy="1025.3" r="24.6" fill="url(#gR)"/>
<circle cx="449" cy="1025.3" r="24.6" fill="url(#gR)"/>
<circle cx="584.6" cy="1025.3" r="24.6" fill="url(#gR)"/>
<circle cx="178" cy="1161" r="24.6" fill="url(#gR)"/>
<circle cx="313.5" cy="1161" r="24.6" fill="url(#gR)"/>
<circle cx="449" cy="1161" r="24.6" fill="url(#gR)"/>
<circle cx="584.6" cy="1161" r="24.6" fill="url(#gR)"/>
<path d="M1089.5 685.8L1359.6 957.2L1087.3 1231L817.2 959.6Z" fill="none" stroke="#d428d4" stroke-width="2.3" stroke-dasharray="5 3"/>
<circle cx="818.3" cy="687" r="21.3" fill="url(#gG)"/>
<ellipse cx="0" cy="0" rx="21" ry="19" transform="translate(953.9 686.4) rotate(-40)" fill="url(#gE)"/>
<circle cx="1089.5" cy="685.8" r="21.6" fill="#142222"/><circle cx="1088.8" cy="685.1" r="18.6" fill="url(#gC)"/>
<ellipse cx="0" cy="0" rx="21" ry="19" transform="translate(1225.1 685.2) rotate(-40)" fill="url(#gE)"/>
<circle cx="1360.7" cy="684.6" r="21.3" fill="url(#gG)"/>
<ellipse cx="0" cy="0" rx="21" ry="19" transform="translate(817.8 823.3) rotate(-40)" fill="url(#gE)"/>
<circle cx="953.4" cy="822.7" r="21.3" fill="url(#gG)"/>
<ellipse cx="0" cy="0" rx="21" ry="19" transform="translate(1089 822.1) rotate(-40)" fill="url(#gE)"/>
<circle cx="1224.5" cy="821.5" r="21.6" fill="#142222"/><circle cx="1223.8" cy="820.8" r="18.6" fill="url(#gC)"/>
<ellipse cx="0" cy="0" rx="21" ry="19" transform="translate(1360.1 820.9) rotate(-40)" fill="url(#gE)"/>
<circle cx="817.2" cy="959.6" r="21.6" fill="#142222"/><circle cx="816.5" cy="958.9" r="18.6" fill="url(#gC)"/>
<ellipse cx="0" cy="0" rx="21" ry="19" transform="translate(952.8 959) rotate(-40)" fill="url(#gE)"/>
<circle cx="1088.4" cy="958.4" r="21.3" fill="url(#gG)"/>
<ellipse cx="0" cy="0" rx="21" ry="19" transform="translate(1224 957.8) rotate(-40)" fill="url(#gE)"/>
<circle cx="1359.6" cy="957.2" r="21.6" fill="#142222"/><circle cx="1358.9" cy="956.5" r="18.6" fill="url(#gC)"/>
<ellipse cx="0" cy="0" rx="21" ry="19" transform="translate(816.6 1095.9) rotate(-40)" fill="url(#gE)"/>
<circle cx="952.2" cy="1095.3" r="21.6" fill="#142222"/><circle cx="951.5" cy="1094.6" r="18.6" fill="url(#gC)"/>
<ellipse cx="0" cy="0" rx="21" ry="19" transform="translate(1087.8 1094.7) rotate(-40)" fill="url(#gE)"/>
<circle cx="1223.4" cy="1094.1" r="21.3" fill="url(#gG)"/>
<ellipse cx="0" cy="0" rx="21" ry="19" transform="translate(1359 1093.5) rotate(-40)" fill="url(#gE)"/>
<circle cx="816.1" cy="1232.2" r="21.3" fill="url(#gG)"/>
<ellipse cx="0" cy="0" rx="21" ry="19" transform="translate(951.7 1231.6) rotate(-40)" fill="url(#gE)"/>
<circle cx="1087.3" cy="1231" r="21.6" fill="#142222"/><circle cx="1086.6" cy="1230.3" r="18.6" fill="url(#gC)"/>
<ellipse cx="0" cy="0" rx="21" ry="19" transform="translate(1222.9 1230.4) rotate(-40)" fill="url(#gE)"/>
<circle cx="1358.5" cy="1229.8" r="21.3" fill="url(#gG)"/>
<circle cx="885.8" cy="754.9" r="25" fill="url(#gR)"/>
<circle cx="1020.4" cy="735.8" r="21" fill="url(#gRn)"/><circle cx="1022.9" cy="773.2" r="21" fill="url(#gRn)"/><circle cx="1006.9" cy="752.2" r="25" fill="url(#gR)"/><circle cx="1035.4" cy="755.2" r="25" fill="url(#gR)"/>
<circle cx="1157" cy="753.6" r="25" fill="url(#gR)"/>
<circle cx="1291.6" cy="734.5" r="21" fill="url(#gRn)"/><circle cx="1294.1" cy="772" r="21" fill="url(#gRn)"/><circle cx="1306.6" cy="754" r="25" fill="url(#gRn)"/><circle cx="1278.1" cy="751" r="25" fill="url(#gR)"/>
<circle cx="868.3" cy="892.2" r="22" fill="url(#gRn)"/><circle cx="902.8" cy="892.2" r="22" fill="url(#gRn)"/><circle cx="884.8" cy="876.7" r="25" fill="url(#gR)"/><circle cx="886.8" cy="905.2" r="25" fill="url(#gR)"/>
<circle cx="1020.9" cy="890.6" r="25" fill="url(#gR)"/>
<circle cx="1139.5" cy="891" r="22" fill="url(#gRn)"/><circle cx="1174" cy="891" r="22" fill="url(#gRn)"/><circle cx="1157.1" cy="907.5" r="22" fill="url(#gRn)"/><circle cx="1154.5" cy="875" r="25" fill="url(#gR)"/>
<circle cx="1292.1" cy="889.4" r="25" fill="url(#gR)"/>
<circle cx="884.7" cy="1027.5" r="25" fill="url(#gR)"/>
<circle cx="1019.3" cy="1008.3" r="21" fill="url(#gRn)"/><circle cx="1021.8" cy="1045.8" r="21" fill="url(#gRn)"/><circle cx="1034.3" cy="1027.8" r="25" fill="url(#gRn)"/><circle cx="1005.8" cy="1024.8" r="25" fill="url(#gR)"/>
<circle cx="1155.9" cy="1026.2" r="25" fill="url(#gR)"/>
<circle cx="1290.5" cy="1007.2" r="21" fill="url(#gRn)"/><circle cx="1293" cy="1044.7" r="21" fill="url(#gRn)"/><circle cx="1277" cy="1023.7" r="25" fill="url(#gR)"/><circle cx="1305.5" cy="1026.7" r="25" fill="url(#gR)"/>
<circle cx="867.2" cy="1164.8" r="22" fill="url(#gRn)"/><circle cx="901.7" cy="1164.8" r="22" fill="url(#gRn)"/><circle cx="884.8" cy="1181.2" r="22" fill="url(#gRn)"/><circle cx="882.2" cy="1148.8" r="25" fill="url(#gR)"/>
<circle cx="1019.8" cy="1163.2" r="25" fill="url(#gR)"/>
<circle cx="1138.4" cy="1163.6" r="22" fill="url(#gRn)"/><circle cx="1172.9" cy="1163.6" r="22" fill="url(#gRn)"/><circle cx="1154.9" cy="1148.1" r="25" fill="url(#gR)"/><circle cx="1156.9" cy="1176.6" r="25" fill="url(#gR)"/>
<circle cx="1291" cy="1162" r="25" fill="url(#gR)"/>
<path d="M697 931H739.4V900L784.8 960L739.4 1019.3V989H697Z" fill="#000"/>
</svg></body></html>
